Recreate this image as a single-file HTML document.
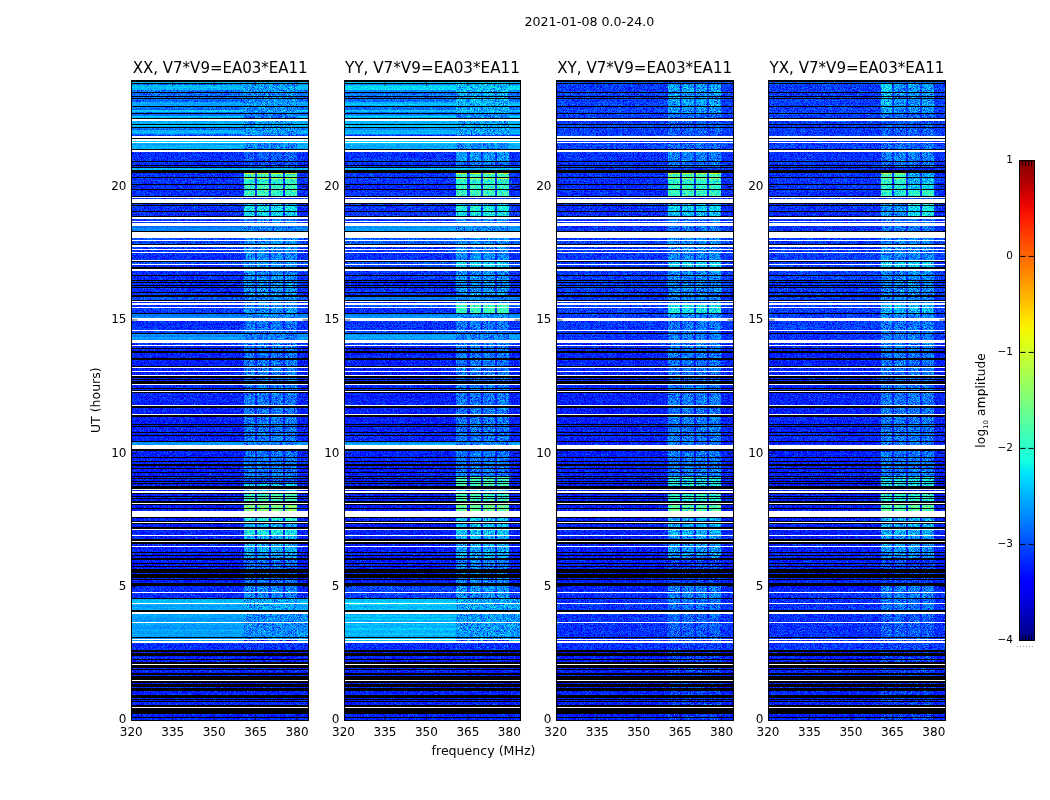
<!DOCTYPE html>
<html><head><meta charset="utf-8"><title>2021-01-08 0.0-24.0</title>
<style>
html,body{margin:0;padding:0;background:#fff;}
body{width:1050px;height:800px;overflow:hidden;position:relative;}
svg{position:absolute;left:0;top:0;display:block;}
.ov{will-change:transform;}
text{font-family:"DejaVu Sans","Liberation Sans",sans-serif;fill:#000;}
.tt{font-size:16px;}
.tk{font-size:12px;}
.cb{font-size:10.5px;}
.lb{font-size:12px;}
.sup{font-size:12.6px;}
</style></head><body>
<svg width="1050" height="800" viewBox="0 0 1050 800" shape-rendering="crispEdges">
<defs>
<linearGradient id="jet" x1="0" y1="1" x2="0" y2="0">
<stop offset="0.000" stop-color="rgb(0,0,128)"/>
<stop offset="0.025" stop-color="rgb(0,0,155)"/>
<stop offset="0.050" stop-color="rgb(0,0,182)"/>
<stop offset="0.075" stop-color="rgb(0,0,214)"/>
<stop offset="0.100" stop-color="rgb(0,0,241)"/>
<stop offset="0.125" stop-color="rgb(0,0,255)"/>
<stop offset="0.150" stop-color="rgb(0,24,255)"/>
<stop offset="0.175" stop-color="rgb(0,48,255)"/>
<stop offset="0.200" stop-color="rgb(0,76,255)"/>
<stop offset="0.225" stop-color="rgb(0,100,255)"/>
<stop offset="0.250" stop-color="rgb(0,128,255)"/>
<stop offset="0.275" stop-color="rgb(0,152,255)"/>
<stop offset="0.300" stop-color="rgb(0,176,255)"/>
<stop offset="0.325" stop-color="rgb(0,204,255)"/>
<stop offset="0.350" stop-color="rgb(0,228,248)"/>
<stop offset="0.375" stop-color="rgb(22,255,225)"/>
<stop offset="0.400" stop-color="rgb(41,255,206)"/>
<stop offset="0.425" stop-color="rgb(60,255,186)"/>
<stop offset="0.450" stop-color="rgb(83,255,164)"/>
<stop offset="0.475" stop-color="rgb(102,255,144)"/>
<stop offset="0.500" stop-color="rgb(125,255,122)"/>
<stop offset="0.525" stop-color="rgb(144,255,102)"/>
<stop offset="0.550" stop-color="rgb(164,255,83)"/>
<stop offset="0.575" stop-color="rgb(186,255,60)"/>
<stop offset="0.600" stop-color="rgb(206,255,41)"/>
<stop offset="0.625" stop-color="rgb(228,255,19)"/>
<stop offset="0.650" stop-color="rgb(248,245,0)"/>
<stop offset="0.675" stop-color="rgb(255,222,0)"/>
<stop offset="0.700" stop-color="rgb(255,196,0)"/>
<stop offset="0.725" stop-color="rgb(255,174,0)"/>
<stop offset="0.750" stop-color="rgb(255,148,0)"/>
<stop offset="0.775" stop-color="rgb(255,126,0)"/>
<stop offset="0.800" stop-color="rgb(255,104,0)"/>
<stop offset="0.825" stop-color="rgb(255,78,0)"/>
<stop offset="0.850" stop-color="rgb(255,56,0)"/>
<stop offset="0.875" stop-color="rgb(255,30,0)"/>
<stop offset="0.900" stop-color="rgb(241,8,0)"/>
<stop offset="0.925" stop-color="rgb(214,0,0)"/>
<stop offset="0.950" stop-color="rgb(182,0,0)"/>
<stop offset="0.975" stop-color="rgb(155,0,0)"/>
<stop offset="1.000" stop-color="rgb(128,0,0)"/>
</linearGradient>
<filter id="nz0" x="132" y="81" width="176" height="639" filterUnits="userSpaceOnUse" color-interpolation-filters="sRGB">
<feTurbulence type="fractalNoise" baseFrequency="1.3" numOctaves="1" seed="3" result="t"/>
<feColorMatrix in="t" type="matrix" values="1 0 0 0 0 1 0 0 0 0 1 0 0 0 0 0 0 0 0 1" result="g0"/>
<feComponentTransfer in="g0" result="g"><feFuncR type="table" tableValues="0.05 0.12 0.22 0.32 0.42 0.5 0.57 0.63 0.68 0.72 0.75"/><feFuncG type="table" tableValues="0.05 0.12 0.22 0.32 0.42 0.5 0.57 0.63 0.68 0.72 0.75"/><feFuncB type="table" tableValues="0.05 0.12 0.22 0.32 0.42 0.5 0.57 0.63 0.68 0.72 0.75"/></feComponentTransfer>
<feComposite in="SourceGraphic" in2="g" operator="arithmetic" k1="0" k2="1" k3="0.5" k4="-0.2500" result="s"/>
<feComponentTransfer in="s" result="c"><feFuncR type="table" tableValues="0.000 0.000 0.000 0.000 0.000 0.000 0.000 0.000 0.000 0.000 0.000 0.000 0.000 0.000 0.000 0.000 0.000 0.000 0.000 0.000 0.000 0.000 0.000 0.000 0.000 0.000 0.000 0.000 0.000 0.000 0.000 0.000 0.000 0.000 0.000 0.000 0.000 0.000 0.000 0.000 0.000 0.000 0.000 0.000 0.000 0.009 0.035 0.060 0.085 0.111 0.136 0.161 0.187 0.212 0.237 0.262 0.288 0.313 0.338 0.364 0.389 0.414 0.440 0.465 0.503 0.528 0.553 0.579 0.604 0.629 0.655 0.680 0.705 0.731 0.756 0.781 0.806 0.832 0.857 0.882 0.908 0.933 0.958 0.984 1.000 1.000 1.000 1.000 1.000 1.000 1.000 1.000 1.000 1.000 1.000 1.000 1.000 1.000 1.000 1.000 1.000 1.000 1.000 1.000 1.000 1.000 1.000 1.000 1.000 1.000 1.000 1.000 1.000 0.999 0.963 0.928 0.892 0.857 0.821 0.785 0.750 0.714 0.678 0.643 0.607 0.571 0.536 0.500"/><feFuncG type="table" tableValues="0.000 0.000 0.000 0.000 0.000 0.000 0.000 0.000 0.000 0.000 0.000 0.000 0.000 0.000 0.000 0.000 0.002 0.033 0.065 0.096 0.127 0.159 0.190 0.222 0.253 0.284 0.316 0.347 0.378 0.410 0.441 0.473 0.504 0.535 0.567 0.598 0.629 0.661 0.692 0.724 0.755 0.786 0.818 0.849 0.880 0.912 0.943 0.975 1.000 1.000 1.000 1.000 1.000 1.000 1.000 1.000 1.000 1.000 1.000 1.000 1.000 1.000 1.000 1.000 1.000 1.000 1.000 1.000 1.000 1.000 1.000 1.000 1.000 1.000 1.000 1.000 1.000 1.000 1.000 1.000 1.000 1.000 0.974 0.945 0.916 0.887 0.858 0.829 0.800 0.771 0.741 0.712 0.683 0.654 0.625 0.596 0.567 0.538 0.509 0.480 0.451 0.422 0.393 0.364 0.335 0.306 0.277 0.248 0.219 0.190 0.160 0.131 0.102 0.073 0.044 0.015 0.000 0.000 0.000 0.000 0.000 0.000 0.000 0.000 0.000 0.000 0.000 0.000"/><feFuncB type="table" tableValues="0.500 0.536 0.571 0.607 0.643 0.678 0.714 0.750 0.785 0.821 0.857 0.892 0.928 0.963 0.999 1.000 1.000 1.000 1.000 1.000 1.000 1.000 1.000 1.000 1.000 1.000 1.000 1.000 1.000 1.000 1.000 1.000 1.000 1.000 1.000 1.000 1.000 1.000 1.000 1.000 1.000 1.000 1.000 1.000 0.984 0.958 0.933 0.908 0.882 0.857 0.832 0.806 0.781 0.756 0.731 0.705 0.680 0.655 0.629 0.604 0.579 0.553 0.528 0.503 0.465 0.440 0.414 0.389 0.364 0.338 0.313 0.288 0.262 0.237 0.212 0.187 0.161 0.136 0.111 0.085 0.060 0.035 0.009 0.000 0.000 0.000 0.000 0.000 0.000 0.000 0.000 0.000 0.000 0.000 0.000 0.000 0.000 0.000 0.000 0.000 0.000 0.000 0.000 0.000 0.000 0.000 0.000 0.000 0.000 0.000 0.000 0.000 0.000 0.000 0.000 0.000 0.000 0.000 0.000 0.000 0.000 0.000 0.000 0.000 0.000 0.000 0.000 0.000"/></feComponentTransfer>
<feComposite in="c" in2="SourceGraphic" operator="in"/>
</filter>
<filter id="ns0" x="132" y="81" width="176" height="639" filterUnits="userSpaceOnUse" color-interpolation-filters="sRGB">
<feTurbulence type="fractalNoise" baseFrequency="1.3" numOctaves="1" seed="5" result="t"/>
<feColorMatrix in="t" type="matrix" values="1 0 0 0 0 1 0 0 0 0 1 0 0 0 0 0 0 0 0 1" result="g0"/>
<feComponentTransfer in="g0" result="g"><feFuncR type="table" tableValues="0.05 0.12 0.22 0.32 0.42 0.5 0.57 0.63 0.68 0.72 0.75"/><feFuncG type="table" tableValues="0.05 0.12 0.22 0.32 0.42 0.5 0.57 0.63 0.68 0.72 0.75"/><feFuncB type="table" tableValues="0.05 0.12 0.22 0.32 0.42 0.5 0.57 0.63 0.68 0.72 0.75"/></feComponentTransfer>
<feComposite in="SourceGraphic" in2="g" operator="arithmetic" k1="0" k2="1" k3="0.22" k4="-0.1100" result="s"/>
<feComponentTransfer in="s" result="c"><feFuncR type="table" tableValues="0.000 0.000 0.000 0.000 0.000 0.000 0.000 0.000 0.000 0.000 0.000 0.000 0.000 0.000 0.000 0.000 0.000 0.000 0.000 0.000 0.000 0.000 0.000 0.000 0.000 0.000 0.000 0.000 0.000 0.000 0.000 0.000 0.000 0.000 0.000 0.000 0.000 0.000 0.000 0.000 0.000 0.000 0.000 0.000 0.000 0.009 0.035 0.060 0.085 0.111 0.136 0.161 0.187 0.212 0.237 0.262 0.288 0.313 0.338 0.364 0.389 0.414 0.440 0.465 0.503 0.528 0.553 0.579 0.604 0.629 0.655 0.680 0.705 0.731 0.756 0.781 0.806 0.832 0.857 0.882 0.908 0.933 0.958 0.984 1.000 1.000 1.000 1.000 1.000 1.000 1.000 1.000 1.000 1.000 1.000 1.000 1.000 1.000 1.000 1.000 1.000 1.000 1.000 1.000 1.000 1.000 1.000 1.000 1.000 1.000 1.000 1.000 1.000 0.999 0.963 0.928 0.892 0.857 0.821 0.785 0.750 0.714 0.678 0.643 0.607 0.571 0.536 0.500"/><feFuncG type="table" tableValues="0.000 0.000 0.000 0.000 0.000 0.000 0.000 0.000 0.000 0.000 0.000 0.000 0.000 0.000 0.000 0.000 0.002 0.033 0.065 0.096 0.127 0.159 0.190 0.222 0.253 0.284 0.316 0.347 0.378 0.410 0.441 0.473 0.504 0.535 0.567 0.598 0.629 0.661 0.692 0.724 0.755 0.786 0.818 0.849 0.880 0.912 0.943 0.975 1.000 1.000 1.000 1.000 1.000 1.000 1.000 1.000 1.000 1.000 1.000 1.000 1.000 1.000 1.000 1.000 1.000 1.000 1.000 1.000 1.000 1.000 1.000 1.000 1.000 1.000 1.000 1.000 1.000 1.000 1.000 1.000 1.000 1.000 0.974 0.945 0.916 0.887 0.858 0.829 0.800 0.771 0.741 0.712 0.683 0.654 0.625 0.596 0.567 0.538 0.509 0.480 0.451 0.422 0.393 0.364 0.335 0.306 0.277 0.248 0.219 0.190 0.160 0.131 0.102 0.073 0.044 0.015 0.000 0.000 0.000 0.000 0.000 0.000 0.000 0.000 0.000 0.000 0.000 0.000"/><feFuncB type="table" tableValues="0.500 0.536 0.571 0.607 0.643 0.678 0.714 0.750 0.785 0.821 0.857 0.892 0.928 0.963 0.999 1.000 1.000 1.000 1.000 1.000 1.000 1.000 1.000 1.000 1.000 1.000 1.000 1.000 1.000 1.000 1.000 1.000 1.000 1.000 1.000 1.000 1.000 1.000 1.000 1.000 1.000 1.000 1.000 1.000 0.984 0.958 0.933 0.908 0.882 0.857 0.832 0.806 0.781 0.756 0.731 0.705 0.680 0.655 0.629 0.604 0.579 0.553 0.528 0.503 0.465 0.440 0.414 0.389 0.364 0.338 0.313 0.288 0.262 0.237 0.212 0.187 0.161 0.136 0.111 0.085 0.060 0.035 0.009 0.000 0.000 0.000 0.000 0.000 0.000 0.000 0.000 0.000 0.000 0.000 0.000 0.000 0.000 0.000 0.000 0.000 0.000 0.000 0.000 0.000 0.000 0.000 0.000 0.000 0.000 0.000 0.000 0.000 0.000 0.000 0.000 0.000 0.000 0.000 0.000 0.000 0.000 0.000 0.000 0.000 0.000 0.000 0.000 0.000"/></feComponentTransfer>
<feComposite in="c" in2="SourceGraphic" operator="in"/>
</filter>
<filter id="nr0" x="132" y="81" width="176" height="639" filterUnits="userSpaceOnUse" color-interpolation-filters="sRGB">
<feTurbulence type="fractalNoise" baseFrequency="1.3" numOctaves="1" seed="6" result="t"/>
<feColorMatrix in="t" type="matrix" values="1 0 0 0 0 1 0 0 0 0 1 0 0 0 0 0 0 0 0 1" result="g0"/>
<feComponentTransfer in="g0" result="g"><feFuncR type="table" tableValues="0.05 0.12 0.22 0.32 0.42 0.5 0.57 0.63 0.68 0.72 0.75"/><feFuncG type="table" tableValues="0.05 0.12 0.22 0.32 0.42 0.5 0.57 0.63 0.68 0.72 0.75"/><feFuncB type="table" tableValues="0.05 0.12 0.22 0.32 0.42 0.5 0.57 0.63 0.68 0.72 0.75"/></feComponentTransfer>
<feComposite in="SourceGraphic" in2="g" operator="arithmetic" k1="0" k2="1" k3="0.7" k4="-0.3500" result="s"/>
<feComponentTransfer in="s" result="c"><feFuncR type="table" tableValues="0.000 0.000 0.000 0.000 0.000 0.000 0.000 0.000 0.000 0.000 0.000 0.000 0.000 0.000 0.000 0.000 0.000 0.000 0.000 0.000 0.000 0.000 0.000 0.000 0.000 0.000 0.000 0.000 0.000 0.000 0.000 0.000 0.000 0.000 0.000 0.000 0.000 0.000 0.000 0.000 0.000 0.000 0.000 0.000 0.000 0.009 0.035 0.060 0.085 0.111 0.136 0.161 0.187 0.212 0.237 0.262 0.288 0.313 0.338 0.364 0.389 0.414 0.440 0.465 0.503 0.528 0.553 0.579 0.604 0.629 0.655 0.680 0.705 0.731 0.756 0.781 0.806 0.832 0.857 0.882 0.908 0.933 0.958 0.984 1.000 1.000 1.000 1.000 1.000 1.000 1.000 1.000 1.000 1.000 1.000 1.000 1.000 1.000 1.000 1.000 1.000 1.000 1.000 1.000 1.000 1.000 1.000 1.000 1.000 1.000 1.000 1.000 1.000 0.999 0.963 0.928 0.892 0.857 0.821 0.785 0.750 0.714 0.678 0.643 0.607 0.571 0.536 0.500"/><feFuncG type="table" tableValues="0.000 0.000 0.000 0.000 0.000 0.000 0.000 0.000 0.000 0.000 0.000 0.000 0.000 0.000 0.000 0.000 0.002 0.033 0.065 0.096 0.127 0.159 0.190 0.222 0.253 0.284 0.316 0.347 0.378 0.410 0.441 0.473 0.504 0.535 0.567 0.598 0.629 0.661 0.692 0.724 0.755 0.786 0.818 0.849 0.880 0.912 0.943 0.975 1.000 1.000 1.000 1.000 1.000 1.000 1.000 1.000 1.000 1.000 1.000 1.000 1.000 1.000 1.000 1.000 1.000 1.000 1.000 1.000 1.000 1.000 1.000 1.000 1.000 1.000 1.000 1.000 1.000 1.000 1.000 1.000 1.000 1.000 0.974 0.945 0.916 0.887 0.858 0.829 0.800 0.771 0.741 0.712 0.683 0.654 0.625 0.596 0.567 0.538 0.509 0.480 0.451 0.422 0.393 0.364 0.335 0.306 0.277 0.248 0.219 0.190 0.160 0.131 0.102 0.073 0.044 0.015 0.000 0.000 0.000 0.000 0.000 0.000 0.000 0.000 0.000 0.000 0.000 0.000"/><feFuncB type="table" tableValues="0.500 0.536 0.571 0.607 0.643 0.678 0.714 0.750 0.785 0.821 0.857 0.892 0.928 0.963 0.999 1.000 1.000 1.000 1.000 1.000 1.000 1.000 1.000 1.000 1.000 1.000 1.000 1.000 1.000 1.000 1.000 1.000 1.000 1.000 1.000 1.000 1.000 1.000 1.000 1.000 1.000 1.000 1.000 1.000 0.984 0.958 0.933 0.908 0.882 0.857 0.832 0.806 0.781 0.756 0.731 0.705 0.680 0.655 0.629 0.604 0.579 0.553 0.528 0.503 0.465 0.440 0.414 0.389 0.364 0.338 0.313 0.288 0.262 0.237 0.212 0.187 0.161 0.136 0.111 0.085 0.060 0.035 0.009 0.000 0.000 0.000 0.000 0.000 0.000 0.000 0.000 0.000 0.000 0.000 0.000 0.000 0.000 0.000 0.000 0.000 0.000 0.000 0.000 0.000 0.000 0.000 0.000 0.000 0.000 0.000 0.000 0.000 0.000 0.000 0.000 0.000 0.000 0.000 0.000 0.000 0.000 0.000 0.000 0.000 0.000 0.000 0.000 0.000"/></feComponentTransfer>
<feComposite in="c" in2="SourceGraphic" operator="in"/>
</filter>
<filter id="nz1" x="345" y="81" width="175" height="639" filterUnits="userSpaceOnUse" color-interpolation-filters="sRGB">
<feTurbulence type="fractalNoise" baseFrequency="1.3" numOctaves="1" seed="10" result="t"/>
<feColorMatrix in="t" type="matrix" values="1 0 0 0 0 1 0 0 0 0 1 0 0 0 0 0 0 0 0 1" result="g0"/>
<feComponentTransfer in="g0" result="g"><feFuncR type="table" tableValues="0.05 0.12 0.22 0.32 0.42 0.5 0.57 0.63 0.68 0.72 0.75"/><feFuncG type="table" tableValues="0.05 0.12 0.22 0.32 0.42 0.5 0.57 0.63 0.68 0.72 0.75"/><feFuncB type="table" tableValues="0.05 0.12 0.22 0.32 0.42 0.5 0.57 0.63 0.68 0.72 0.75"/></feComponentTransfer>
<feComposite in="SourceGraphic" in2="g" operator="arithmetic" k1="0" k2="1" k3="0.5" k4="-0.2500" result="s"/>
<feComponentTransfer in="s" result="c"><feFuncR type="table" tableValues="0.000 0.000 0.000 0.000 0.000 0.000 0.000 0.000 0.000 0.000 0.000 0.000 0.000 0.000 0.000 0.000 0.000 0.000 0.000 0.000 0.000 0.000 0.000 0.000 0.000 0.000 0.000 0.000 0.000 0.000 0.000 0.000 0.000 0.000 0.000 0.000 0.000 0.000 0.000 0.000 0.000 0.000 0.000 0.000 0.000 0.009 0.035 0.060 0.085 0.111 0.136 0.161 0.187 0.212 0.237 0.262 0.288 0.313 0.338 0.364 0.389 0.414 0.440 0.465 0.503 0.528 0.553 0.579 0.604 0.629 0.655 0.680 0.705 0.731 0.756 0.781 0.806 0.832 0.857 0.882 0.908 0.933 0.958 0.984 1.000 1.000 1.000 1.000 1.000 1.000 1.000 1.000 1.000 1.000 1.000 1.000 1.000 1.000 1.000 1.000 1.000 1.000 1.000 1.000 1.000 1.000 1.000 1.000 1.000 1.000 1.000 1.000 1.000 0.999 0.963 0.928 0.892 0.857 0.821 0.785 0.750 0.714 0.678 0.643 0.607 0.571 0.536 0.500"/><feFuncG type="table" tableValues="0.000 0.000 0.000 0.000 0.000 0.000 0.000 0.000 0.000 0.000 0.000 0.000 0.000 0.000 0.000 0.000 0.002 0.033 0.065 0.096 0.127 0.159 0.190 0.222 0.253 0.284 0.316 0.347 0.378 0.410 0.441 0.473 0.504 0.535 0.567 0.598 0.629 0.661 0.692 0.724 0.755 0.786 0.818 0.849 0.880 0.912 0.943 0.975 1.000 1.000 1.000 1.000 1.000 1.000 1.000 1.000 1.000 1.000 1.000 1.000 1.000 1.000 1.000 1.000 1.000 1.000 1.000 1.000 1.000 1.000 1.000 1.000 1.000 1.000 1.000 1.000 1.000 1.000 1.000 1.000 1.000 1.000 0.974 0.945 0.916 0.887 0.858 0.829 0.800 0.771 0.741 0.712 0.683 0.654 0.625 0.596 0.567 0.538 0.509 0.480 0.451 0.422 0.393 0.364 0.335 0.306 0.277 0.248 0.219 0.190 0.160 0.131 0.102 0.073 0.044 0.015 0.000 0.000 0.000 0.000 0.000 0.000 0.000 0.000 0.000 0.000 0.000 0.000"/><feFuncB type="table" tableValues="0.500 0.536 0.571 0.607 0.643 0.678 0.714 0.750 0.785 0.821 0.857 0.892 0.928 0.963 0.999 1.000 1.000 1.000 1.000 1.000 1.000 1.000 1.000 1.000 1.000 1.000 1.000 1.000 1.000 1.000 1.000 1.000 1.000 1.000 1.000 1.000 1.000 1.000 1.000 1.000 1.000 1.000 1.000 1.000 0.984 0.958 0.933 0.908 0.882 0.857 0.832 0.806 0.781 0.756 0.731 0.705 0.680 0.655 0.629 0.604 0.579 0.553 0.528 0.503 0.465 0.440 0.414 0.389 0.364 0.338 0.313 0.288 0.262 0.237 0.212 0.187 0.161 0.136 0.111 0.085 0.060 0.035 0.009 0.000 0.000 0.000 0.000 0.000 0.000 0.000 0.000 0.000 0.000 0.000 0.000 0.000 0.000 0.000 0.000 0.000 0.000 0.000 0.000 0.000 0.000 0.000 0.000 0.000 0.000 0.000 0.000 0.000 0.000 0.000 0.000 0.000 0.000 0.000 0.000 0.000 0.000 0.000 0.000 0.000 0.000 0.000 0.000 0.000"/></feComponentTransfer>
<feComposite in="c" in2="SourceGraphic" operator="in"/>
</filter>
<filter id="ns1" x="345" y="81" width="175" height="639" filterUnits="userSpaceOnUse" color-interpolation-filters="sRGB">
<feTurbulence type="fractalNoise" baseFrequency="1.3" numOctaves="1" seed="12" result="t"/>
<feColorMatrix in="t" type="matrix" values="1 0 0 0 0 1 0 0 0 0 1 0 0 0 0 0 0 0 0 1" result="g0"/>
<feComponentTransfer in="g0" result="g"><feFuncR type="table" tableValues="0.05 0.12 0.22 0.32 0.42 0.5 0.57 0.63 0.68 0.72 0.75"/><feFuncG type="table" tableValues="0.05 0.12 0.22 0.32 0.42 0.5 0.57 0.63 0.68 0.72 0.75"/><feFuncB type="table" tableValues="0.05 0.12 0.22 0.32 0.42 0.5 0.57 0.63 0.68 0.72 0.75"/></feComponentTransfer>
<feComposite in="SourceGraphic" in2="g" operator="arithmetic" k1="0" k2="1" k3="0.22" k4="-0.1100" result="s"/>
<feComponentTransfer in="s" result="c"><feFuncR type="table" tableValues="0.000 0.000 0.000 0.000 0.000 0.000 0.000 0.000 0.000 0.000 0.000 0.000 0.000 0.000 0.000 0.000 0.000 0.000 0.000 0.000 0.000 0.000 0.000 0.000 0.000 0.000 0.000 0.000 0.000 0.000 0.000 0.000 0.000 0.000 0.000 0.000 0.000 0.000 0.000 0.000 0.000 0.000 0.000 0.000 0.000 0.009 0.035 0.060 0.085 0.111 0.136 0.161 0.187 0.212 0.237 0.262 0.288 0.313 0.338 0.364 0.389 0.414 0.440 0.465 0.503 0.528 0.553 0.579 0.604 0.629 0.655 0.680 0.705 0.731 0.756 0.781 0.806 0.832 0.857 0.882 0.908 0.933 0.958 0.984 1.000 1.000 1.000 1.000 1.000 1.000 1.000 1.000 1.000 1.000 1.000 1.000 1.000 1.000 1.000 1.000 1.000 1.000 1.000 1.000 1.000 1.000 1.000 1.000 1.000 1.000 1.000 1.000 1.000 0.999 0.963 0.928 0.892 0.857 0.821 0.785 0.750 0.714 0.678 0.643 0.607 0.571 0.536 0.500"/><feFuncG type="table" tableValues="0.000 0.000 0.000 0.000 0.000 0.000 0.000 0.000 0.000 0.000 0.000 0.000 0.000 0.000 0.000 0.000 0.002 0.033 0.065 0.096 0.127 0.159 0.190 0.222 0.253 0.284 0.316 0.347 0.378 0.410 0.441 0.473 0.504 0.535 0.567 0.598 0.629 0.661 0.692 0.724 0.755 0.786 0.818 0.849 0.880 0.912 0.943 0.975 1.000 1.000 1.000 1.000 1.000 1.000 1.000 1.000 1.000 1.000 1.000 1.000 1.000 1.000 1.000 1.000 1.000 1.000 1.000 1.000 1.000 1.000 1.000 1.000 1.000 1.000 1.000 1.000 1.000 1.000 1.000 1.000 1.000 1.000 0.974 0.945 0.916 0.887 0.858 0.829 0.800 0.771 0.741 0.712 0.683 0.654 0.625 0.596 0.567 0.538 0.509 0.480 0.451 0.422 0.393 0.364 0.335 0.306 0.277 0.248 0.219 0.190 0.160 0.131 0.102 0.073 0.044 0.015 0.000 0.000 0.000 0.000 0.000 0.000 0.000 0.000 0.000 0.000 0.000 0.000"/><feFuncB type="table" tableValues="0.500 0.536 0.571 0.607 0.643 0.678 0.714 0.750 0.785 0.821 0.857 0.892 0.928 0.963 0.999 1.000 1.000 1.000 1.000 1.000 1.000 1.000 1.000 1.000 1.000 1.000 1.000 1.000 1.000 1.000 1.000 1.000 1.000 1.000 1.000 1.000 1.000 1.000 1.000 1.000 1.000 1.000 1.000 1.000 0.984 0.958 0.933 0.908 0.882 0.857 0.832 0.806 0.781 0.756 0.731 0.705 0.680 0.655 0.629 0.604 0.579 0.553 0.528 0.503 0.465 0.440 0.414 0.389 0.364 0.338 0.313 0.288 0.262 0.237 0.212 0.187 0.161 0.136 0.111 0.085 0.060 0.035 0.009 0.000 0.000 0.000 0.000 0.000 0.000 0.000 0.000 0.000 0.000 0.000 0.000 0.000 0.000 0.000 0.000 0.000 0.000 0.000 0.000 0.000 0.000 0.000 0.000 0.000 0.000 0.000 0.000 0.000 0.000 0.000 0.000 0.000 0.000 0.000 0.000 0.000 0.000 0.000 0.000 0.000 0.000 0.000 0.000 0.000"/></feComponentTransfer>
<feComposite in="c" in2="SourceGraphic" operator="in"/>
</filter>
<filter id="nr1" x="345" y="81" width="175" height="639" filterUnits="userSpaceOnUse" color-interpolation-filters="sRGB">
<feTurbulence type="fractalNoise" baseFrequency="1.3" numOctaves="1" seed="13" result="t"/>
<feColorMatrix in="t" type="matrix" values="1 0 0 0 0 1 0 0 0 0 1 0 0 0 0 0 0 0 0 1" result="g0"/>
<feComponentTransfer in="g0" result="g"><feFuncR type="table" tableValues="0.05 0.12 0.22 0.32 0.42 0.5 0.57 0.63 0.68 0.72 0.75"/><feFuncG type="table" tableValues="0.05 0.12 0.22 0.32 0.42 0.5 0.57 0.63 0.68 0.72 0.75"/><feFuncB type="table" tableValues="0.05 0.12 0.22 0.32 0.42 0.5 0.57 0.63 0.68 0.72 0.75"/></feComponentTransfer>
<feComposite in="SourceGraphic" in2="g" operator="arithmetic" k1="0" k2="1" k3="0.7" k4="-0.3500" result="s"/>
<feComponentTransfer in="s" result="c"><feFuncR type="table" tableValues="0.000 0.000 0.000 0.000 0.000 0.000 0.000 0.000 0.000 0.000 0.000 0.000 0.000 0.000 0.000 0.000 0.000 0.000 0.000 0.000 0.000 0.000 0.000 0.000 0.000 0.000 0.000 0.000 0.000 0.000 0.000 0.000 0.000 0.000 0.000 0.000 0.000 0.000 0.000 0.000 0.000 0.000 0.000 0.000 0.000 0.009 0.035 0.060 0.085 0.111 0.136 0.161 0.187 0.212 0.237 0.262 0.288 0.313 0.338 0.364 0.389 0.414 0.440 0.465 0.503 0.528 0.553 0.579 0.604 0.629 0.655 0.680 0.705 0.731 0.756 0.781 0.806 0.832 0.857 0.882 0.908 0.933 0.958 0.984 1.000 1.000 1.000 1.000 1.000 1.000 1.000 1.000 1.000 1.000 1.000 1.000 1.000 1.000 1.000 1.000 1.000 1.000 1.000 1.000 1.000 1.000 1.000 1.000 1.000 1.000 1.000 1.000 1.000 0.999 0.963 0.928 0.892 0.857 0.821 0.785 0.750 0.714 0.678 0.643 0.607 0.571 0.536 0.500"/><feFuncG type="table" tableValues="0.000 0.000 0.000 0.000 0.000 0.000 0.000 0.000 0.000 0.000 0.000 0.000 0.000 0.000 0.000 0.000 0.002 0.033 0.065 0.096 0.127 0.159 0.190 0.222 0.253 0.284 0.316 0.347 0.378 0.410 0.441 0.473 0.504 0.535 0.567 0.598 0.629 0.661 0.692 0.724 0.755 0.786 0.818 0.849 0.880 0.912 0.943 0.975 1.000 1.000 1.000 1.000 1.000 1.000 1.000 1.000 1.000 1.000 1.000 1.000 1.000 1.000 1.000 1.000 1.000 1.000 1.000 1.000 1.000 1.000 1.000 1.000 1.000 1.000 1.000 1.000 1.000 1.000 1.000 1.000 1.000 1.000 0.974 0.945 0.916 0.887 0.858 0.829 0.800 0.771 0.741 0.712 0.683 0.654 0.625 0.596 0.567 0.538 0.509 0.480 0.451 0.422 0.393 0.364 0.335 0.306 0.277 0.248 0.219 0.190 0.160 0.131 0.102 0.073 0.044 0.015 0.000 0.000 0.000 0.000 0.000 0.000 0.000 0.000 0.000 0.000 0.000 0.000"/><feFuncB type="table" tableValues="0.500 0.536 0.571 0.607 0.643 0.678 0.714 0.750 0.785 0.821 0.857 0.892 0.928 0.963 0.999 1.000 1.000 1.000 1.000 1.000 1.000 1.000 1.000 1.000 1.000 1.000 1.000 1.000 1.000 1.000 1.000 1.000 1.000 1.000 1.000 1.000 1.000 1.000 1.000 1.000 1.000 1.000 1.000 1.000 0.984 0.958 0.933 0.908 0.882 0.857 0.832 0.806 0.781 0.756 0.731 0.705 0.680 0.655 0.629 0.604 0.579 0.553 0.528 0.503 0.465 0.440 0.414 0.389 0.364 0.338 0.313 0.288 0.262 0.237 0.212 0.187 0.161 0.136 0.111 0.085 0.060 0.035 0.009 0.000 0.000 0.000 0.000 0.000 0.000 0.000 0.000 0.000 0.000 0.000 0.000 0.000 0.000 0.000 0.000 0.000 0.000 0.000 0.000 0.000 0.000 0.000 0.000 0.000 0.000 0.000 0.000 0.000 0.000 0.000 0.000 0.000 0.000 0.000 0.000 0.000 0.000 0.000 0.000 0.000 0.000 0.000 0.000 0.000"/></feComponentTransfer>
<feComposite in="c" in2="SourceGraphic" operator="in"/>
</filter>
<filter id="nz2" x="557" y="81" width="176" height="639" filterUnits="userSpaceOnUse" color-interpolation-filters="sRGB">
<feTurbulence type="fractalNoise" baseFrequency="1.3" numOctaves="1" seed="17" result="t"/>
<feColorMatrix in="t" type="matrix" values="1 0 0 0 0 1 0 0 0 0 1 0 0 0 0 0 0 0 0 1" result="g0"/>
<feComponentTransfer in="g0" result="g"><feFuncR type="table" tableValues="0.05 0.12 0.22 0.32 0.42 0.5 0.57 0.63 0.68 0.72 0.75"/><feFuncG type="table" tableValues="0.05 0.12 0.22 0.32 0.42 0.5 0.57 0.63 0.68 0.72 0.75"/><feFuncB type="table" tableValues="0.05 0.12 0.22 0.32 0.42 0.5 0.57 0.63 0.68 0.72 0.75"/></feComponentTransfer>
<feComposite in="SourceGraphic" in2="g" operator="arithmetic" k1="0" k2="1" k3="0.5" k4="-0.2500" result="s"/>
<feComponentTransfer in="s" result="c"><feFuncR type="table" tableValues="0.000 0.000 0.000 0.000 0.000 0.000 0.000 0.000 0.000 0.000 0.000 0.000 0.000 0.000 0.000 0.000 0.000 0.000 0.000 0.000 0.000 0.000 0.000 0.000 0.000 0.000 0.000 0.000 0.000 0.000 0.000 0.000 0.000 0.000 0.000 0.000 0.000 0.000 0.000 0.000 0.000 0.000 0.000 0.000 0.000 0.009 0.035 0.060 0.085 0.111 0.136 0.161 0.187 0.212 0.237 0.262 0.288 0.313 0.338 0.364 0.389 0.414 0.440 0.465 0.503 0.528 0.553 0.579 0.604 0.629 0.655 0.680 0.705 0.731 0.756 0.781 0.806 0.832 0.857 0.882 0.908 0.933 0.958 0.984 1.000 1.000 1.000 1.000 1.000 1.000 1.000 1.000 1.000 1.000 1.000 1.000 1.000 1.000 1.000 1.000 1.000 1.000 1.000 1.000 1.000 1.000 1.000 1.000 1.000 1.000 1.000 1.000 1.000 0.999 0.963 0.928 0.892 0.857 0.821 0.785 0.750 0.714 0.678 0.643 0.607 0.571 0.536 0.500"/><feFuncG type="table" tableValues="0.000 0.000 0.000 0.000 0.000 0.000 0.000 0.000 0.000 0.000 0.000 0.000 0.000 0.000 0.000 0.000 0.002 0.033 0.065 0.096 0.127 0.159 0.190 0.222 0.253 0.284 0.316 0.347 0.378 0.410 0.441 0.473 0.504 0.535 0.567 0.598 0.629 0.661 0.692 0.724 0.755 0.786 0.818 0.849 0.880 0.912 0.943 0.975 1.000 1.000 1.000 1.000 1.000 1.000 1.000 1.000 1.000 1.000 1.000 1.000 1.000 1.000 1.000 1.000 1.000 1.000 1.000 1.000 1.000 1.000 1.000 1.000 1.000 1.000 1.000 1.000 1.000 1.000 1.000 1.000 1.000 1.000 0.974 0.945 0.916 0.887 0.858 0.829 0.800 0.771 0.741 0.712 0.683 0.654 0.625 0.596 0.567 0.538 0.509 0.480 0.451 0.422 0.393 0.364 0.335 0.306 0.277 0.248 0.219 0.190 0.160 0.131 0.102 0.073 0.044 0.015 0.000 0.000 0.000 0.000 0.000 0.000 0.000 0.000 0.000 0.000 0.000 0.000"/><feFuncB type="table" tableValues="0.500 0.536 0.571 0.607 0.643 0.678 0.714 0.750 0.785 0.821 0.857 0.892 0.928 0.963 0.999 1.000 1.000 1.000 1.000 1.000 1.000 1.000 1.000 1.000 1.000 1.000 1.000 1.000 1.000 1.000 1.000 1.000 1.000 1.000 1.000 1.000 1.000 1.000 1.000 1.000 1.000 1.000 1.000 1.000 0.984 0.958 0.933 0.908 0.882 0.857 0.832 0.806 0.781 0.756 0.731 0.705 0.680 0.655 0.629 0.604 0.579 0.553 0.528 0.503 0.465 0.440 0.414 0.389 0.364 0.338 0.313 0.288 0.262 0.237 0.212 0.187 0.161 0.136 0.111 0.085 0.060 0.035 0.009 0.000 0.000 0.000 0.000 0.000 0.000 0.000 0.000 0.000 0.000 0.000 0.000 0.000 0.000 0.000 0.000 0.000 0.000 0.000 0.000 0.000 0.000 0.000 0.000 0.000 0.000 0.000 0.000 0.000 0.000 0.000 0.000 0.000 0.000 0.000 0.000 0.000 0.000 0.000 0.000 0.000 0.000 0.000 0.000 0.000"/></feComponentTransfer>
<feComposite in="c" in2="SourceGraphic" operator="in"/>
</filter>
<filter id="ns2" x="557" y="81" width="176" height="639" filterUnits="userSpaceOnUse" color-interpolation-filters="sRGB">
<feTurbulence type="fractalNoise" baseFrequency="1.3" numOctaves="1" seed="19" result="t"/>
<feColorMatrix in="t" type="matrix" values="1 0 0 0 0 1 0 0 0 0 1 0 0 0 0 0 0 0 0 1" result="g0"/>
<feComponentTransfer in="g0" result="g"><feFuncR type="table" tableValues="0.05 0.12 0.22 0.32 0.42 0.5 0.57 0.63 0.68 0.72 0.75"/><feFuncG type="table" tableValues="0.05 0.12 0.22 0.32 0.42 0.5 0.57 0.63 0.68 0.72 0.75"/><feFuncB type="table" tableValues="0.05 0.12 0.22 0.32 0.42 0.5 0.57 0.63 0.68 0.72 0.75"/></feComponentTransfer>
<feComposite in="SourceGraphic" in2="g" operator="arithmetic" k1="0" k2="1" k3="0.22" k4="-0.1100" result="s"/>
<feComponentTransfer in="s" result="c"><feFuncR type="table" tableValues="0.000 0.000 0.000 0.000 0.000 0.000 0.000 0.000 0.000 0.000 0.000 0.000 0.000 0.000 0.000 0.000 0.000 0.000 0.000 0.000 0.000 0.000 0.000 0.000 0.000 0.000 0.000 0.000 0.000 0.000 0.000 0.000 0.000 0.000 0.000 0.000 0.000 0.000 0.000 0.000 0.000 0.000 0.000 0.000 0.000 0.009 0.035 0.060 0.085 0.111 0.136 0.161 0.187 0.212 0.237 0.262 0.288 0.313 0.338 0.364 0.389 0.414 0.440 0.465 0.503 0.528 0.553 0.579 0.604 0.629 0.655 0.680 0.705 0.731 0.756 0.781 0.806 0.832 0.857 0.882 0.908 0.933 0.958 0.984 1.000 1.000 1.000 1.000 1.000 1.000 1.000 1.000 1.000 1.000 1.000 1.000 1.000 1.000 1.000 1.000 1.000 1.000 1.000 1.000 1.000 1.000 1.000 1.000 1.000 1.000 1.000 1.000 1.000 0.999 0.963 0.928 0.892 0.857 0.821 0.785 0.750 0.714 0.678 0.643 0.607 0.571 0.536 0.500"/><feFuncG type="table" tableValues="0.000 0.000 0.000 0.000 0.000 0.000 0.000 0.000 0.000 0.000 0.000 0.000 0.000 0.000 0.000 0.000 0.002 0.033 0.065 0.096 0.127 0.159 0.190 0.222 0.253 0.284 0.316 0.347 0.378 0.410 0.441 0.473 0.504 0.535 0.567 0.598 0.629 0.661 0.692 0.724 0.755 0.786 0.818 0.849 0.880 0.912 0.943 0.975 1.000 1.000 1.000 1.000 1.000 1.000 1.000 1.000 1.000 1.000 1.000 1.000 1.000 1.000 1.000 1.000 1.000 1.000 1.000 1.000 1.000 1.000 1.000 1.000 1.000 1.000 1.000 1.000 1.000 1.000 1.000 1.000 1.000 1.000 0.974 0.945 0.916 0.887 0.858 0.829 0.800 0.771 0.741 0.712 0.683 0.654 0.625 0.596 0.567 0.538 0.509 0.480 0.451 0.422 0.393 0.364 0.335 0.306 0.277 0.248 0.219 0.190 0.160 0.131 0.102 0.073 0.044 0.015 0.000 0.000 0.000 0.000 0.000 0.000 0.000 0.000 0.000 0.000 0.000 0.000"/><feFuncB type="table" tableValues="0.500 0.536 0.571 0.607 0.643 0.678 0.714 0.750 0.785 0.821 0.857 0.892 0.928 0.963 0.999 1.000 1.000 1.000 1.000 1.000 1.000 1.000 1.000 1.000 1.000 1.000 1.000 1.000 1.000 1.000 1.000 1.000 1.000 1.000 1.000 1.000 1.000 1.000 1.000 1.000 1.000 1.000 1.000 1.000 0.984 0.958 0.933 0.908 0.882 0.857 0.832 0.806 0.781 0.756 0.731 0.705 0.680 0.655 0.629 0.604 0.579 0.553 0.528 0.503 0.465 0.440 0.414 0.389 0.364 0.338 0.313 0.288 0.262 0.237 0.212 0.187 0.161 0.136 0.111 0.085 0.060 0.035 0.009 0.000 0.000 0.000 0.000 0.000 0.000 0.000 0.000 0.000 0.000 0.000 0.000 0.000 0.000 0.000 0.000 0.000 0.000 0.000 0.000 0.000 0.000 0.000 0.000 0.000 0.000 0.000 0.000 0.000 0.000 0.000 0.000 0.000 0.000 0.000 0.000 0.000 0.000 0.000 0.000 0.000 0.000 0.000 0.000 0.000"/></feComponentTransfer>
<feComposite in="c" in2="SourceGraphic" operator="in"/>
</filter>
<filter id="nr2" x="557" y="81" width="176" height="639" filterUnits="userSpaceOnUse" color-interpolation-filters="sRGB">
<feTurbulence type="fractalNoise" baseFrequency="1.3" numOctaves="1" seed="20" result="t"/>
<feColorMatrix in="t" type="matrix" values="1 0 0 0 0 1 0 0 0 0 1 0 0 0 0 0 0 0 0 1" result="g0"/>
<feComponentTransfer in="g0" result="g"><feFuncR type="table" tableValues="0.05 0.12 0.22 0.32 0.42 0.5 0.57 0.63 0.68 0.72 0.75"/><feFuncG type="table" tableValues="0.05 0.12 0.22 0.32 0.42 0.5 0.57 0.63 0.68 0.72 0.75"/><feFuncB type="table" tableValues="0.05 0.12 0.22 0.32 0.42 0.5 0.57 0.63 0.68 0.72 0.75"/></feComponentTransfer>
<feComposite in="SourceGraphic" in2="g" operator="arithmetic" k1="0" k2="1" k3="0.7" k4="-0.3500" result="s"/>
<feComponentTransfer in="s" result="c"><feFuncR type="table" tableValues="0.000 0.000 0.000 0.000 0.000 0.000 0.000 0.000 0.000 0.000 0.000 0.000 0.000 0.000 0.000 0.000 0.000 0.000 0.000 0.000 0.000 0.000 0.000 0.000 0.000 0.000 0.000 0.000 0.000 0.000 0.000 0.000 0.000 0.000 0.000 0.000 0.000 0.000 0.000 0.000 0.000 0.000 0.000 0.000 0.000 0.009 0.035 0.060 0.085 0.111 0.136 0.161 0.187 0.212 0.237 0.262 0.288 0.313 0.338 0.364 0.389 0.414 0.440 0.465 0.503 0.528 0.553 0.579 0.604 0.629 0.655 0.680 0.705 0.731 0.756 0.781 0.806 0.832 0.857 0.882 0.908 0.933 0.958 0.984 1.000 1.000 1.000 1.000 1.000 1.000 1.000 1.000 1.000 1.000 1.000 1.000 1.000 1.000 1.000 1.000 1.000 1.000 1.000 1.000 1.000 1.000 1.000 1.000 1.000 1.000 1.000 1.000 1.000 0.999 0.963 0.928 0.892 0.857 0.821 0.785 0.750 0.714 0.678 0.643 0.607 0.571 0.536 0.500"/><feFuncG type="table" tableValues="0.000 0.000 0.000 0.000 0.000 0.000 0.000 0.000 0.000 0.000 0.000 0.000 0.000 0.000 0.000 0.000 0.002 0.033 0.065 0.096 0.127 0.159 0.190 0.222 0.253 0.284 0.316 0.347 0.378 0.410 0.441 0.473 0.504 0.535 0.567 0.598 0.629 0.661 0.692 0.724 0.755 0.786 0.818 0.849 0.880 0.912 0.943 0.975 1.000 1.000 1.000 1.000 1.000 1.000 1.000 1.000 1.000 1.000 1.000 1.000 1.000 1.000 1.000 1.000 1.000 1.000 1.000 1.000 1.000 1.000 1.000 1.000 1.000 1.000 1.000 1.000 1.000 1.000 1.000 1.000 1.000 1.000 0.974 0.945 0.916 0.887 0.858 0.829 0.800 0.771 0.741 0.712 0.683 0.654 0.625 0.596 0.567 0.538 0.509 0.480 0.451 0.422 0.393 0.364 0.335 0.306 0.277 0.248 0.219 0.190 0.160 0.131 0.102 0.073 0.044 0.015 0.000 0.000 0.000 0.000 0.000 0.000 0.000 0.000 0.000 0.000 0.000 0.000"/><feFuncB type="table" tableValues="0.500 0.536 0.571 0.607 0.643 0.678 0.714 0.750 0.785 0.821 0.857 0.892 0.928 0.963 0.999 1.000 1.000 1.000 1.000 1.000 1.000 1.000 1.000 1.000 1.000 1.000 1.000 1.000 1.000 1.000 1.000 1.000 1.000 1.000 1.000 1.000 1.000 1.000 1.000 1.000 1.000 1.000 1.000 1.000 0.984 0.958 0.933 0.908 0.882 0.857 0.832 0.806 0.781 0.756 0.731 0.705 0.680 0.655 0.629 0.604 0.579 0.553 0.528 0.503 0.465 0.440 0.414 0.389 0.364 0.338 0.313 0.288 0.262 0.237 0.212 0.187 0.161 0.136 0.111 0.085 0.060 0.035 0.009 0.000 0.000 0.000 0.000 0.000 0.000 0.000 0.000 0.000 0.000 0.000 0.000 0.000 0.000 0.000 0.000 0.000 0.000 0.000 0.000 0.000 0.000 0.000 0.000 0.000 0.000 0.000 0.000 0.000 0.000 0.000 0.000 0.000 0.000 0.000 0.000 0.000 0.000 0.000 0.000 0.000 0.000 0.000 0.000 0.000"/></feComponentTransfer>
<feComposite in="c" in2="SourceGraphic" operator="in"/>
</filter>
<filter id="nz3" x="769" y="81" width="176" height="639" filterUnits="userSpaceOnUse" color-interpolation-filters="sRGB">
<feTurbulence type="fractalNoise" baseFrequency="1.3" numOctaves="1" seed="24" result="t"/>
<feColorMatrix in="t" type="matrix" values="1 0 0 0 0 1 0 0 0 0 1 0 0 0 0 0 0 0 0 1" result="g0"/>
<feComponentTransfer in="g0" result="g"><feFuncR type="table" tableValues="0.05 0.12 0.22 0.32 0.42 0.5 0.57 0.63 0.68 0.72 0.75"/><feFuncG type="table" tableValues="0.05 0.12 0.22 0.32 0.42 0.5 0.57 0.63 0.68 0.72 0.75"/><feFuncB type="table" tableValues="0.05 0.12 0.22 0.32 0.42 0.5 0.57 0.63 0.68 0.72 0.75"/></feComponentTransfer>
<feComposite in="SourceGraphic" in2="g" operator="arithmetic" k1="0" k2="1" k3="0.5" k4="-0.2500" result="s"/>
<feComponentTransfer in="s" result="c"><feFuncR type="table" tableValues="0.000 0.000 0.000 0.000 0.000 0.000 0.000 0.000 0.000 0.000 0.000 0.000 0.000 0.000 0.000 0.000 0.000 0.000 0.000 0.000 0.000 0.000 0.000 0.000 0.000 0.000 0.000 0.000 0.000 0.000 0.000 0.000 0.000 0.000 0.000 0.000 0.000 0.000 0.000 0.000 0.000 0.000 0.000 0.000 0.000 0.009 0.035 0.060 0.085 0.111 0.136 0.161 0.187 0.212 0.237 0.262 0.288 0.313 0.338 0.364 0.389 0.414 0.440 0.465 0.503 0.528 0.553 0.579 0.604 0.629 0.655 0.680 0.705 0.731 0.756 0.781 0.806 0.832 0.857 0.882 0.908 0.933 0.958 0.984 1.000 1.000 1.000 1.000 1.000 1.000 1.000 1.000 1.000 1.000 1.000 1.000 1.000 1.000 1.000 1.000 1.000 1.000 1.000 1.000 1.000 1.000 1.000 1.000 1.000 1.000 1.000 1.000 1.000 0.999 0.963 0.928 0.892 0.857 0.821 0.785 0.750 0.714 0.678 0.643 0.607 0.571 0.536 0.500"/><feFuncG type="table" tableValues="0.000 0.000 0.000 0.000 0.000 0.000 0.000 0.000 0.000 0.000 0.000 0.000 0.000 0.000 0.000 0.000 0.002 0.033 0.065 0.096 0.127 0.159 0.190 0.222 0.253 0.284 0.316 0.347 0.378 0.410 0.441 0.473 0.504 0.535 0.567 0.598 0.629 0.661 0.692 0.724 0.755 0.786 0.818 0.849 0.880 0.912 0.943 0.975 1.000 1.000 1.000 1.000 1.000 1.000 1.000 1.000 1.000 1.000 1.000 1.000 1.000 1.000 1.000 1.000 1.000 1.000 1.000 1.000 1.000 1.000 1.000 1.000 1.000 1.000 1.000 1.000 1.000 1.000 1.000 1.000 1.000 1.000 0.974 0.945 0.916 0.887 0.858 0.829 0.800 0.771 0.741 0.712 0.683 0.654 0.625 0.596 0.567 0.538 0.509 0.480 0.451 0.422 0.393 0.364 0.335 0.306 0.277 0.248 0.219 0.190 0.160 0.131 0.102 0.073 0.044 0.015 0.000 0.000 0.000 0.000 0.000 0.000 0.000 0.000 0.000 0.000 0.000 0.000"/><feFuncB type="table" tableValues="0.500 0.536 0.571 0.607 0.643 0.678 0.714 0.750 0.785 0.821 0.857 0.892 0.928 0.963 0.999 1.000 1.000 1.000 1.000 1.000 1.000 1.000 1.000 1.000 1.000 1.000 1.000 1.000 1.000 1.000 1.000 1.000 1.000 1.000 1.000 1.000 1.000 1.000 1.000 1.000 1.000 1.000 1.000 1.000 0.984 0.958 0.933 0.908 0.882 0.857 0.832 0.806 0.781 0.756 0.731 0.705 0.680 0.655 0.629 0.604 0.579 0.553 0.528 0.503 0.465 0.440 0.414 0.389 0.364 0.338 0.313 0.288 0.262 0.237 0.212 0.187 0.161 0.136 0.111 0.085 0.060 0.035 0.009 0.000 0.000 0.000 0.000 0.000 0.000 0.000 0.000 0.000 0.000 0.000 0.000 0.000 0.000 0.000 0.000 0.000 0.000 0.000 0.000 0.000 0.000 0.000 0.000 0.000 0.000 0.000 0.000 0.000 0.000 0.000 0.000 0.000 0.000 0.000 0.000 0.000 0.000 0.000 0.000 0.000 0.000 0.000 0.000 0.000"/></feComponentTransfer>
<feComposite in="c" in2="SourceGraphic" operator="in"/>
</filter>
<filter id="ns3" x="769" y="81" width="176" height="639" filterUnits="userSpaceOnUse" color-interpolation-filters="sRGB">
<feTurbulence type="fractalNoise" baseFrequency="1.3" numOctaves="1" seed="26" result="t"/>
<feColorMatrix in="t" type="matrix" values="1 0 0 0 0 1 0 0 0 0 1 0 0 0 0 0 0 0 0 1" result="g0"/>
<feComponentTransfer in="g0" result="g"><feFuncR type="table" tableValues="0.05 0.12 0.22 0.32 0.42 0.5 0.57 0.63 0.68 0.72 0.75"/><feFuncG type="table" tableValues="0.05 0.12 0.22 0.32 0.42 0.5 0.57 0.63 0.68 0.72 0.75"/><feFuncB type="table" tableValues="0.05 0.12 0.22 0.32 0.42 0.5 0.57 0.63 0.68 0.72 0.75"/></feComponentTransfer>
<feComposite in="SourceGraphic" in2="g" operator="arithmetic" k1="0" k2="1" k3="0.22" k4="-0.1100" result="s"/>
<feComponentTransfer in="s" result="c"><feFuncR type="table" tableValues="0.000 0.000 0.000 0.000 0.000 0.000 0.000 0.000 0.000 0.000 0.000 0.000 0.000 0.000 0.000 0.000 0.000 0.000 0.000 0.000 0.000 0.000 0.000 0.000 0.000 0.000 0.000 0.000 0.000 0.000 0.000 0.000 0.000 0.000 0.000 0.000 0.000 0.000 0.000 0.000 0.000 0.000 0.000 0.000 0.000 0.009 0.035 0.060 0.085 0.111 0.136 0.161 0.187 0.212 0.237 0.262 0.288 0.313 0.338 0.364 0.389 0.414 0.440 0.465 0.503 0.528 0.553 0.579 0.604 0.629 0.655 0.680 0.705 0.731 0.756 0.781 0.806 0.832 0.857 0.882 0.908 0.933 0.958 0.984 1.000 1.000 1.000 1.000 1.000 1.000 1.000 1.000 1.000 1.000 1.000 1.000 1.000 1.000 1.000 1.000 1.000 1.000 1.000 1.000 1.000 1.000 1.000 1.000 1.000 1.000 1.000 1.000 1.000 0.999 0.963 0.928 0.892 0.857 0.821 0.785 0.750 0.714 0.678 0.643 0.607 0.571 0.536 0.500"/><feFuncG type="table" tableValues="0.000 0.000 0.000 0.000 0.000 0.000 0.000 0.000 0.000 0.000 0.000 0.000 0.000 0.000 0.000 0.000 0.002 0.033 0.065 0.096 0.127 0.159 0.190 0.222 0.253 0.284 0.316 0.347 0.378 0.410 0.441 0.473 0.504 0.535 0.567 0.598 0.629 0.661 0.692 0.724 0.755 0.786 0.818 0.849 0.880 0.912 0.943 0.975 1.000 1.000 1.000 1.000 1.000 1.000 1.000 1.000 1.000 1.000 1.000 1.000 1.000 1.000 1.000 1.000 1.000 1.000 1.000 1.000 1.000 1.000 1.000 1.000 1.000 1.000 1.000 1.000 1.000 1.000 1.000 1.000 1.000 1.000 0.974 0.945 0.916 0.887 0.858 0.829 0.800 0.771 0.741 0.712 0.683 0.654 0.625 0.596 0.567 0.538 0.509 0.480 0.451 0.422 0.393 0.364 0.335 0.306 0.277 0.248 0.219 0.190 0.160 0.131 0.102 0.073 0.044 0.015 0.000 0.000 0.000 0.000 0.000 0.000 0.000 0.000 0.000 0.000 0.000 0.000"/><feFuncB type="table" tableValues="0.500 0.536 0.571 0.607 0.643 0.678 0.714 0.750 0.785 0.821 0.857 0.892 0.928 0.963 0.999 1.000 1.000 1.000 1.000 1.000 1.000 1.000 1.000 1.000 1.000 1.000 1.000 1.000 1.000 1.000 1.000 1.000 1.000 1.000 1.000 1.000 1.000 1.000 1.000 1.000 1.000 1.000 1.000 1.000 0.984 0.958 0.933 0.908 0.882 0.857 0.832 0.806 0.781 0.756 0.731 0.705 0.680 0.655 0.629 0.604 0.579 0.553 0.528 0.503 0.465 0.440 0.414 0.389 0.364 0.338 0.313 0.288 0.262 0.237 0.212 0.187 0.161 0.136 0.111 0.085 0.060 0.035 0.009 0.000 0.000 0.000 0.000 0.000 0.000 0.000 0.000 0.000 0.000 0.000 0.000 0.000 0.000 0.000 0.000 0.000 0.000 0.000 0.000 0.000 0.000 0.000 0.000 0.000 0.000 0.000 0.000 0.000 0.000 0.000 0.000 0.000 0.000 0.000 0.000 0.000 0.000 0.000 0.000 0.000 0.000 0.000 0.000 0.000"/></feComponentTransfer>
<feComposite in="c" in2="SourceGraphic" operator="in"/>
</filter>
<filter id="nr3" x="769" y="81" width="176" height="639" filterUnits="userSpaceOnUse" color-interpolation-filters="sRGB">
<feTurbulence type="fractalNoise" baseFrequency="1.3" numOctaves="1" seed="27" result="t"/>
<feColorMatrix in="t" type="matrix" values="1 0 0 0 0 1 0 0 0 0 1 0 0 0 0 0 0 0 0 1" result="g0"/>
<feComponentTransfer in="g0" result="g"><feFuncR type="table" tableValues="0.05 0.12 0.22 0.32 0.42 0.5 0.57 0.63 0.68 0.72 0.75"/><feFuncG type="table" tableValues="0.05 0.12 0.22 0.32 0.42 0.5 0.57 0.63 0.68 0.72 0.75"/><feFuncB type="table" tableValues="0.05 0.12 0.22 0.32 0.42 0.5 0.57 0.63 0.68 0.72 0.75"/></feComponentTransfer>
<feComposite in="SourceGraphic" in2="g" operator="arithmetic" k1="0" k2="1" k3="0.7" k4="-0.3500" result="s"/>
<feComponentTransfer in="s" result="c"><feFuncR type="table" tableValues="0.000 0.000 0.000 0.000 0.000 0.000 0.000 0.000 0.000 0.000 0.000 0.000 0.000 0.000 0.000 0.000 0.000 0.000 0.000 0.000 0.000 0.000 0.000 0.000 0.000 0.000 0.000 0.000 0.000 0.000 0.000 0.000 0.000 0.000 0.000 0.000 0.000 0.000 0.000 0.000 0.000 0.000 0.000 0.000 0.000 0.009 0.035 0.060 0.085 0.111 0.136 0.161 0.187 0.212 0.237 0.262 0.288 0.313 0.338 0.364 0.389 0.414 0.440 0.465 0.503 0.528 0.553 0.579 0.604 0.629 0.655 0.680 0.705 0.731 0.756 0.781 0.806 0.832 0.857 0.882 0.908 0.933 0.958 0.984 1.000 1.000 1.000 1.000 1.000 1.000 1.000 1.000 1.000 1.000 1.000 1.000 1.000 1.000 1.000 1.000 1.000 1.000 1.000 1.000 1.000 1.000 1.000 1.000 1.000 1.000 1.000 1.000 1.000 0.999 0.963 0.928 0.892 0.857 0.821 0.785 0.750 0.714 0.678 0.643 0.607 0.571 0.536 0.500"/><feFuncG type="table" tableValues="0.000 0.000 0.000 0.000 0.000 0.000 0.000 0.000 0.000 0.000 0.000 0.000 0.000 0.000 0.000 0.000 0.002 0.033 0.065 0.096 0.127 0.159 0.190 0.222 0.253 0.284 0.316 0.347 0.378 0.410 0.441 0.473 0.504 0.535 0.567 0.598 0.629 0.661 0.692 0.724 0.755 0.786 0.818 0.849 0.880 0.912 0.943 0.975 1.000 1.000 1.000 1.000 1.000 1.000 1.000 1.000 1.000 1.000 1.000 1.000 1.000 1.000 1.000 1.000 1.000 1.000 1.000 1.000 1.000 1.000 1.000 1.000 1.000 1.000 1.000 1.000 1.000 1.000 1.000 1.000 1.000 1.000 0.974 0.945 0.916 0.887 0.858 0.829 0.800 0.771 0.741 0.712 0.683 0.654 0.625 0.596 0.567 0.538 0.509 0.480 0.451 0.422 0.393 0.364 0.335 0.306 0.277 0.248 0.219 0.190 0.160 0.131 0.102 0.073 0.044 0.015 0.000 0.000 0.000 0.000 0.000 0.000 0.000 0.000 0.000 0.000 0.000 0.000"/><feFuncB type="table" tableValues="0.500 0.536 0.571 0.607 0.643 0.678 0.714 0.750 0.785 0.821 0.857 0.892 0.928 0.963 0.999 1.000 1.000 1.000 1.000 1.000 1.000 1.000 1.000 1.000 1.000 1.000 1.000 1.000 1.000 1.000 1.000 1.000 1.000 1.000 1.000 1.000 1.000 1.000 1.000 1.000 1.000 1.000 1.000 1.000 0.984 0.958 0.933 0.908 0.882 0.857 0.832 0.806 0.781 0.756 0.731 0.705 0.680 0.655 0.629 0.604 0.579 0.553 0.528 0.503 0.465 0.440 0.414 0.389 0.364 0.338 0.313 0.288 0.262 0.237 0.212 0.187 0.161 0.136 0.111 0.085 0.060 0.035 0.009 0.000 0.000 0.000 0.000 0.000 0.000 0.000 0.000 0.000 0.000 0.000 0.000 0.000 0.000 0.000 0.000 0.000 0.000 0.000 0.000 0.000 0.000 0.000 0.000 0.000 0.000 0.000 0.000 0.000 0.000 0.000 0.000 0.000 0.000 0.000 0.000 0.000 0.000 0.000 0.000 0.000 0.000 0.000 0.000 0.000"/></feComponentTransfer>
<feComposite in="c" in2="SourceGraphic" operator="in"/>
</filter>
</defs>
<rect x="0" y="0" width="1050" height="800" fill="#fff"/>
<g filter="url(#ns0)"><rect x="132" y="82" width="176" height="1" fill="#525252"/><rect x="132" y="85" width="176" height="1" fill="#505050"/><rect x="132" y="86" width="176" height="1" fill="#4e4e4e"/><rect x="132" y="87" width="176" height="1" fill="#525252"/><rect x="132" y="88" width="176" height="1" fill="#4e4e4e"/><rect x="132" y="89" width="176" height="1" fill="#4e4e4e"/><rect x="132" y="102" width="176" height="1" fill="#494949"/><rect x="132" y="103" width="176" height="1" fill="#4b4b4b"/><rect x="132" y="104" width="176" height="1" fill="#484848"/><rect x="132" y="105" width="176" height="1" fill="#4b4b4b"/><rect x="132" y="110" width="176" height="1" fill="#545454"/><rect x="132" y="111" width="176" height="1" fill="#535353"/><rect x="132" y="114" width="176" height="1" fill="#3c3c3c"/><rect x="132" y="115" width="176" height="1" fill="#3f3f3f"/><rect x="132" y="116" width="176" height="1" fill="#535353"/><rect x="132" y="117" width="176" height="1" fill="#505050"/><rect x="132" y="121" width="176" height="1" fill="#4c4c4c"/><rect x="132" y="122" width="176" height="1" fill="#4d4d4d"/><rect x="132" y="123" width="176" height="1" fill="#4d4d4d"/><rect x="132" y="125" width="176" height="1" fill="#535353"/><rect x="132" y="126" width="176" height="1" fill="#4c4c4c"/><rect x="132" y="130" width="176" height="1" fill="#4d4d4d"/><rect x="132" y="131" width="176" height="1" fill="#4d4d4d"/><rect x="132" y="132" width="176" height="1" fill="#515151"/><rect x="132" y="133" width="176" height="1" fill="#484848"/><rect x="132" y="141" width="176" height="1" fill="#575757"/><rect x="132" y="143" width="176" height="1" fill="#4c4c4c"/><rect x="132" y="144" width="176" height="1" fill="#464646"/><rect x="132" y="145" width="176" height="1" fill="#4f4f4f"/><rect x="132" y="146" width="176" height="1" fill="#4e4e4e"/><rect x="132" y="147" width="176" height="1" fill="#4d4d4d"/><rect x="132" y="148" width="176" height="1" fill="#4d4d4d"/><rect x="132" y="168" width="176" height="1" fill="#4d4d4d"/><rect x="132" y="169" width="176" height="1" fill="#4f4f4f"/><rect x="132" y="226" width="176" height="1" fill="#3b3b3b"/><rect x="132" y="227" width="176" height="1" fill="#3e3e3e"/><rect x="132" y="228" width="176" height="1" fill="#444444"/><rect x="132" y="229" width="176" height="1" fill="#424242"/><rect x="132" y="230" width="176" height="1" fill="#414141"/><rect x="132" y="314" width="176" height="1" fill="#414141"/><rect x="132" y="315" width="176" height="1" fill="#3c3c3c"/><rect x="132" y="316" width="176" height="1" fill="#424242"/><rect x="132" y="317" width="176" height="1" fill="#434343"/><rect x="132" y="334" width="176" height="1" fill="#494949"/><rect x="132" y="335" width="176" height="1" fill="#414141"/><rect x="132" y="336" width="176" height="1" fill="#404040"/><rect x="132" y="337" width="176" height="1" fill="#494949"/><rect x="132" y="338" width="176" height="1" fill="#494949"/><rect x="132" y="339" width="176" height="1" fill="#444444"/><rect x="132" y="442" width="176" height="1" fill="#454545"/><rect x="132" y="443" width="176" height="1" fill="#484848"/><rect x="132" y="444" width="176" height="1" fill="#464646"/><rect x="132" y="599" width="176" height="1" fill="#4d4d4d"/><rect x="132" y="600" width="176" height="1" fill="#4f4f4f"/><rect x="132" y="601" width="176" height="1" fill="#515151"/><rect x="132" y="602" width="176" height="1" fill="#505050"/><rect x="132" y="604" width="176" height="1" fill="#4e4e4e"/><rect x="132" y="605" width="176" height="1" fill="#494949"/><rect x="132" y="606" width="176" height="1" fill="#464646"/><rect x="132" y="607" width="176" height="1" fill="#4c4c4c"/><rect x="132" y="608" width="176" height="1" fill="#484848"/><rect x="132" y="609" width="176" height="1" fill="#4e4e4e"/><rect x="132" y="614" width="176" height="1" fill="#4a4a4a"/><rect x="132" y="615" width="176" height="1" fill="#4d4d4d"/><rect x="132" y="616" width="176" height="1" fill="#494949"/><rect x="132" y="617" width="176" height="1" fill="#4b4b4b"/><rect x="132" y="618" width="176" height="1" fill="#464646"/><rect x="132" y="619" width="176" height="1" fill="#474747"/><rect x="132" y="620" width="176" height="1" fill="#464646"/><rect x="132" y="621" width="176" height="1" fill="#494949"/><rect x="132" y="623" width="176" height="1" fill="#4b4b4b"/><rect x="132" y="624" width="176" height="1" fill="#4b4b4b"/><rect x="132" y="625" width="176" height="1" fill="#474747"/><rect x="132" y="626" width="176" height="1" fill="#484848"/><rect x="132" y="627" width="176" height="1" fill="#454545"/><rect x="132" y="628" width="176" height="1" fill="#464646"/><rect x="132" y="629" width="176" height="1" fill="#494949"/><rect x="132" y="630" width="176" height="1" fill="#4e4e4e"/><rect x="132" y="631" width="176" height="1" fill="#474747"/><rect x="132" y="632" width="176" height="1" fill="#494949"/><rect x="132" y="633" width="176" height="1" fill="#454545"/><rect x="132" y="634" width="176" height="1" fill="#4b4b4b"/><rect x="132" y="635" width="176" height="1" fill="#494949"/><rect x="132" y="636" width="176" height="1" fill="#484848"/><rect x="132" y="637" width="176" height="1" fill="#494949"/><rect x="132" y="638" width="176" height="1" fill="#484848"/><rect x="132" y="640" width="176" height="1" fill="#494949"/></g>
<g filter="url(#nz0)"><rect x="132" y="81" width="176" height="1" fill="#2c2c2c"/><rect x="132" y="83" width="176" height="1" fill="#2f2f2f"/><rect x="132" y="84" width="176" height="1" fill="#3c3c3c"/><rect x="132" y="90" width="176" height="1" fill="#3d3d3d"/><rect x="132" y="91" width="176" height="1" fill="#3e3e3e"/><rect x="132" y="92" width="176" height="1" fill="#2b2b2b"/><rect x="132" y="93" width="176" height="1" fill="#3b3b3b"/><rect x="132" y="94" width="176" height="1" fill="#3a3a3a"/><rect x="132" y="95" width="176" height="1" fill="#3d3d3d"/><rect x="132" y="96" width="176" height="1" fill="#383838"/><rect x="132" y="97" width="176" height="1" fill="#3e3e3e"/><rect x="132" y="98" width="176" height="1" fill="#2c2c2c"/><rect x="132" y="99" width="176" height="1" fill="#3b3b3b"/><rect x="132" y="100" width="176" height="1" fill="#383838"/><rect x="132" y="101" width="176" height="1" fill="#3c3c3c"/><rect x="132" y="106" width="176" height="1" fill="#2f2f2f"/><rect x="132" y="107" width="176" height="1" fill="#3e3e3e"/><rect x="132" y="108" width="176" height="1" fill="#3c3c3c"/><rect x="132" y="109" width="176" height="1" fill="#383838"/><rect x="132" y="112" width="176" height="1" fill="#3c3c3c"/><rect x="132" y="113" width="176" height="1" fill="#2b2b2b"/><rect x="132" y="118" width="176" height="1" fill="#2e2e2e"/><rect x="132" y="119" width="176" height="1" fill="#2b2b2b"/><rect x="132" y="120" width="176" height="1" fill="#2d2d2d"/><rect x="132" y="124" width="176" height="1" fill="#2b2b2b"/><rect x="132" y="127" width="176" height="1" fill="#2e2e2e"/><rect x="132" y="128" width="176" height="1" fill="#3e3e3e"/><rect x="132" y="129" width="176" height="1" fill="#3b3b3b"/><rect x="132" y="134" width="176" height="1" fill="#3b3b3b"/><rect x="132" y="135" width="176" height="1" fill="#303030"/><rect x="132" y="136" width="176" height="1" fill="#2f2f2f"/><rect x="132" y="137" width="176" height="1" fill="#2a2a2a"/><rect x="132" y="138" width="176" height="1" fill="#2b2b2b"/><rect x="132" y="139" width="176" height="1" fill="#2d2d2d"/><rect x="132" y="140" width="176" height="1" fill="#2b2b2b"/><rect x="132" y="142" width="176" height="1" fill="#2a2a2a"/><rect x="132" y="149" width="176" height="1" fill="#2c2c2c"/><rect x="132" y="150" width="176" height="1" fill="#2e2e2e"/><rect x="132" y="151" width="176" height="1" fill="#2e2e2e"/><rect x="132" y="152" width="176" height="1" fill="#2d2d2d"/><rect x="132" y="153" width="176" height="1" fill="#2a2a2a"/><rect x="132" y="154" width="176" height="1" fill="#2d2d2d"/><rect x="132" y="155" width="176" height="1" fill="#2c2c2c"/><rect x="132" y="156" width="176" height="1" fill="#2d2d2d"/><rect x="132" y="157" width="176" height="1" fill="#2c2c2c"/><rect x="132" y="158" width="176" height="1" fill="#2f2f2f"/><rect x="132" y="159" width="176" height="1" fill="#2b2b2b"/><rect x="132" y="160" width="176" height="1" fill="#2e2e2e"/><rect x="132" y="161" width="176" height="1" fill="#2e2e2e"/><rect x="132" y="162" width="176" height="1" fill="#2d2d2d"/><rect x="132" y="163" width="176" height="1" fill="#2a2a2a"/><rect x="132" y="164" width="176" height="1" fill="#2b2b2b"/><rect x="132" y="165" width="176" height="1" fill="#2f2f2f"/><rect x="132" y="166" width="176" height="1" fill="#2b2b2b"/><rect x="132" y="167" width="176" height="1" fill="#2b2b2b"/><rect x="132" y="170" width="176" height="1" fill="#2d2d2d"/><rect x="132" y="171" width="176" height="1" fill="#2a2a2a"/><rect x="132" y="172" width="176" height="1" fill="#2a2a2a"/><rect x="132" y="173" width="176" height="1" fill="#2d2d2d"/><rect x="132" y="174" width="176" height="1" fill="#2b2b2b"/><rect x="132" y="175" width="176" height="1" fill="#2d2d2d"/><rect x="132" y="176" width="176" height="1" fill="#2e2e2e"/><rect x="132" y="177" width="176" height="1" fill="#2a2a2a"/><rect x="132" y="178" width="176" height="1" fill="#2d2d2d"/><rect x="132" y="179" width="176" height="1" fill="#2c2c2c"/><rect x="132" y="180" width="176" height="1" fill="#2e2e2e"/><rect x="132" y="181" width="176" height="1" fill="#2f2f2f"/><rect x="132" y="182" width="176" height="1" fill="#2c2c2c"/><rect x="132" y="183" width="176" height="1" fill="#2b2b2b"/><rect x="132" y="184" width="176" height="1" fill="#2f2f2f"/><rect x="132" y="185" width="176" height="1" fill="#2a2a2a"/><rect x="132" y="186" width="176" height="1" fill="#2c2c2c"/><rect x="132" y="187" width="176" height="1" fill="#2c2c2c"/><rect x="132" y="188" width="176" height="1" fill="#2b2b2b"/><rect x="132" y="189" width="176" height="1" fill="#2e2e2e"/><rect x="132" y="190" width="176" height="1" fill="#2d2d2d"/><rect x="132" y="191" width="176" height="1" fill="#2b2b2b"/><rect x="132" y="192" width="176" height="1" fill="#2c2c2c"/><rect x="132" y="193" width="176" height="1" fill="#2e2e2e"/><rect x="132" y="194" width="176" height="1" fill="#2c2c2c"/><rect x="132" y="195" width="176" height="1" fill="#2a2a2a"/><rect x="132" y="196" width="176" height="1" fill="#2c2c2c"/><rect x="132" y="197" width="176" height="1" fill="#2b2b2b"/><rect x="132" y="198" width="176" height="1" fill="#2d2d2d"/><rect x="132" y="199" width="176" height="1" fill="#2b2b2b"/><rect x="132" y="200" width="176" height="1" fill="#2a2a2a"/><rect x="132" y="201" width="176" height="1" fill="#2f2f2f"/><rect x="132" y="202" width="176" height="1" fill="#2c2c2c"/><rect x="132" y="203" width="176" height="1" fill="#2b2b2b"/><rect x="132" y="204" width="176" height="1" fill="#2d2d2d"/><rect x="132" y="205" width="176" height="1" fill="#2e2e2e"/><rect x="132" y="206" width="176" height="1" fill="#2e2e2e"/><rect x="132" y="207" width="176" height="1" fill="#2e2e2e"/><rect x="132" y="208" width="176" height="1" fill="#2b2b2b"/><rect x="132" y="209" width="176" height="1" fill="#2c2c2c"/><rect x="132" y="210" width="176" height="1" fill="#2c2c2c"/><rect x="132" y="211" width="176" height="1" fill="#2d2d2d"/><rect x="132" y="212" width="176" height="1" fill="#2d2d2d"/><rect x="132" y="213" width="176" height="1" fill="#2d2d2d"/><rect x="132" y="214" width="176" height="1" fill="#2a2a2a"/><rect x="132" y="215" width="176" height="1" fill="#2c2c2c"/><rect x="132" y="216" width="176" height="1" fill="#2e2e2e"/><rect x="132" y="217" width="176" height="1" fill="#2a2a2a"/><rect x="132" y="218" width="176" height="1" fill="#2e2e2e"/><rect x="132" y="219" width="176" height="1" fill="#2f2f2f"/><rect x="132" y="220" width="176" height="1" fill="#2d2d2d"/><rect x="132" y="221" width="176" height="1" fill="#2e2e2e"/><rect x="132" y="222" width="176" height="1" fill="#2c2c2c"/><rect x="132" y="223" width="176" height="1" fill="#2e2e2e"/><rect x="132" y="224" width="176" height="1" fill="#2d2d2d"/><rect x="132" y="225" width="176" height="1" fill="#2b2b2b"/><rect x="132" y="231" width="176" height="1" fill="#2f2f2f"/><rect x="132" y="232" width="176" height="1" fill="#2a2a2a"/><rect x="132" y="233" width="176" height="1" fill="#2d2d2d"/><rect x="132" y="234" width="176" height="1" fill="#2b2b2b"/><rect x="132" y="235" width="176" height="1" fill="#2c2c2c"/><rect x="132" y="236" width="176" height="1" fill="#2b2b2b"/><rect x="132" y="237" width="176" height="1" fill="#2c2c2c"/><rect x="132" y="238" width="176" height="1" fill="#353535"/><rect x="132" y="239" width="176" height="1" fill="#343434"/><rect x="132" y="240" width="176" height="1" fill="#353535"/><rect x="132" y="241" width="176" height="1" fill="#303030"/><rect x="132" y="242" width="176" height="1" fill="#323232"/><rect x="132" y="243" width="176" height="1" fill="#353535"/><rect x="132" y="244" width="176" height="1" fill="#2a2a2a"/><rect x="132" y="245" width="176" height="1" fill="#2b2b2b"/><rect x="132" y="246" width="176" height="1" fill="#2a2a2a"/><rect x="132" y="247" width="176" height="1" fill="#323232"/><rect x="132" y="248" width="176" height="1" fill="#2f2f2f"/><rect x="132" y="249" width="176" height="1" fill="#303030"/><rect x="132" y="250" width="176" height="1" fill="#2d2d2d"/><rect x="132" y="251" width="176" height="1" fill="#2e2e2e"/><rect x="132" y="252" width="176" height="1" fill="#313131"/><rect x="132" y="253" width="176" height="1" fill="#2e2e2e"/><rect x="132" y="254" width="176" height="1" fill="#2c2c2c"/><rect x="132" y="255" width="176" height="1" fill="#2c2c2c"/><rect x="132" y="256" width="176" height="1" fill="#2a2a2a"/><rect x="132" y="257" width="176" height="1" fill="#2a2a2a"/><rect x="132" y="258" width="176" height="1" fill="#2a2a2a"/><rect x="132" y="259" width="176" height="1" fill="#2b2b2b"/><rect x="132" y="260" width="176" height="1" fill="#2d2d2d"/><rect x="132" y="261" width="176" height="1" fill="#323232"/><rect x="132" y="262" width="176" height="1" fill="#363636"/><rect x="132" y="263" width="176" height="1" fill="#323232"/><rect x="132" y="264" width="176" height="1" fill="#2f2f2f"/><rect x="132" y="265" width="176" height="1" fill="#2a2a2a"/><rect x="132" y="266" width="176" height="1" fill="#2d2d2d"/><rect x="132" y="267" width="176" height="1" fill="#2d2d2d"/><rect x="132" y="268" width="176" height="1" fill="#2e2e2e"/><rect x="132" y="269" width="176" height="1" fill="#2c2c2c"/><rect x="132" y="270" width="176" height="1" fill="#2d2d2d"/><rect x="132" y="271" width="176" height="1" fill="#2e2e2e"/><rect x="132" y="272" width="176" height="1" fill="#2a2a2a"/><rect x="132" y="273" width="176" height="1" fill="#2d2d2d"/><rect x="132" y="274" width="176" height="1" fill="#2d2d2d"/><rect x="132" y="275" width="176" height="1" fill="#2e2e2e"/><rect x="132" y="276" width="176" height="1" fill="#2b2b2b"/><rect x="132" y="277" width="176" height="1" fill="#2c2c2c"/><rect x="132" y="278" width="176" height="1" fill="#2a2a2a"/><rect x="132" y="279" width="176" height="1" fill="#2e2e2e"/><rect x="132" y="280" width="176" height="1" fill="#2f2f2f"/><rect x="132" y="281" width="176" height="1" fill="#2c2c2c"/><rect x="132" y="282" width="176" height="1" fill="#2f2f2f"/><rect x="132" y="283" width="176" height="1" fill="#2e2e2e"/><rect x="132" y="284" width="176" height="1" fill="#2a2a2a"/><rect x="132" y="285" width="176" height="1" fill="#2c2c2c"/><rect x="132" y="286" width="176" height="1" fill="#2a2a2a"/><rect x="132" y="287" width="176" height="1" fill="#2b2b2b"/><rect x="132" y="288" width="176" height="1" fill="#2e2e2e"/><rect x="132" y="289" width="176" height="1" fill="#2a2a2a"/><rect x="132" y="290" width="176" height="1" fill="#2d2d2d"/><rect x="132" y="291" width="176" height="1" fill="#2a2a2a"/><rect x="132" y="292" width="176" height="1" fill="#2a2a2a"/><rect x="132" y="293" width="176" height="1" fill="#2f2f2f"/><rect x="132" y="294" width="176" height="1" fill="#2a2a2a"/><rect x="132" y="295" width="176" height="1" fill="#2b2b2b"/><rect x="132" y="296" width="176" height="1" fill="#2f2f2f"/><rect x="132" y="297" width="176" height="1" fill="#373737"/><rect x="132" y="298" width="176" height="1" fill="#363636"/><rect x="132" y="299" width="176" height="1" fill="#363636"/><rect x="132" y="300" width="176" height="1" fill="#2d2d2d"/><rect x="132" y="301" width="176" height="1" fill="#2a2a2a"/><rect x="132" y="302" width="176" height="1" fill="#2b2b2b"/><rect x="132" y="303" width="176" height="1" fill="#2b2b2b"/><rect x="132" y="304" width="176" height="1" fill="#2e2e2e"/><rect x="132" y="305" width="176" height="1" fill="#2b2b2b"/><rect x="132" y="306" width="176" height="1" fill="#2d2d2d"/><rect x="132" y="307" width="176" height="1" fill="#2b2b2b"/><rect x="132" y="308" width="176" height="1" fill="#303030"/><rect x="132" y="309" width="176" height="1" fill="#303030"/><rect x="132" y="310" width="176" height="1" fill="#2f2f2f"/><rect x="132" y="311" width="176" height="1" fill="#2f2f2f"/><rect x="132" y="312" width="176" height="1" fill="#2d2d2d"/><rect x="132" y="313" width="176" height="1" fill="#2f2f2f"/><rect x="132" y="318" width="176" height="1" fill="#2a2a2a"/><rect x="132" y="319" width="176" height="1" fill="#2b2b2b"/><rect x="132" y="320" width="176" height="1" fill="#2e2e2e"/><rect x="132" y="321" width="176" height="1" fill="#2e2e2e"/><rect x="132" y="322" width="176" height="1" fill="#2d2d2d"/><rect x="132" y="323" width="176" height="1" fill="#2a2a2a"/><rect x="132" y="324" width="176" height="1" fill="#2b2b2b"/><rect x="132" y="325" width="176" height="1" fill="#2b2b2b"/><rect x="132" y="326" width="176" height="1" fill="#303030"/><rect x="132" y="327" width="176" height="1" fill="#2b2b2b"/><rect x="132" y="328" width="176" height="1" fill="#2c2c2c"/><rect x="132" y="329" width="176" height="1" fill="#2e2e2e"/><rect x="132" y="330" width="176" height="1" fill="#2e2e2e"/><rect x="132" y="331" width="176" height="1" fill="#313131"/><rect x="132" y="332" width="176" height="1" fill="#313131"/><rect x="132" y="333" width="176" height="1" fill="#2f2f2f"/><rect x="132" y="340" width="176" height="1" fill="#282828"/><rect x="132" y="341" width="176" height="1" fill="#292929"/><rect x="132" y="342" width="176" height="1" fill="#282828"/><rect x="132" y="343" width="176" height="1" fill="#2e2e2e"/><rect x="132" y="344" width="176" height="1" fill="#2f2f2f"/><rect x="132" y="345" width="176" height="1" fill="#272727"/><rect x="132" y="346" width="176" height="1" fill="#292929"/><rect x="132" y="347" width="176" height="1" fill="#262626"/><rect x="132" y="348" width="176" height="1" fill="#2a2a2a"/><rect x="132" y="349" width="176" height="1" fill="#2b2b2b"/><rect x="132" y="350" width="176" height="1" fill="#282828"/><rect x="132" y="351" width="176" height="1" fill="#292929"/><rect x="132" y="352" width="176" height="1" fill="#292929"/><rect x="132" y="353" width="176" height="1" fill="#2a2a2a"/><rect x="132" y="354" width="176" height="1" fill="#292929"/><rect x="132" y="355" width="176" height="1" fill="#282828"/><rect x="132" y="356" width="176" height="1" fill="#2a2a2a"/><rect x="132" y="357" width="176" height="1" fill="#252525"/><rect x="132" y="358" width="176" height="1" fill="#2b2b2b"/><rect x="132" y="359" width="176" height="1" fill="#2b2b2b"/><rect x="132" y="360" width="176" height="1" fill="#292929"/><rect x="132" y="361" width="176" height="1" fill="#262626"/><rect x="132" y="362" width="176" height="1" fill="#292929"/><rect x="132" y="363" width="176" height="1" fill="#252525"/><rect x="132" y="364" width="176" height="1" fill="#282828"/><rect x="132" y="365" width="176" height="1" fill="#272727"/><rect x="132" y="366" width="176" height="1" fill="#292929"/><rect x="132" y="367" width="176" height="1" fill="#272727"/><rect x="132" y="368" width="176" height="1" fill="#262626"/><rect x="132" y="369" width="176" height="1" fill="#2a2a2a"/><rect x="132" y="370" width="176" height="1" fill="#272727"/><rect x="132" y="371" width="176" height="1" fill="#292929"/><rect x="132" y="372" width="176" height="1" fill="#252525"/><rect x="132" y="373" width="176" height="1" fill="#292929"/><rect x="132" y="374" width="176" height="1" fill="#2a2a2a"/><rect x="132" y="375" width="176" height="1" fill="#2a2a2a"/><rect x="132" y="376" width="176" height="1" fill="#272727"/><rect x="132" y="377" width="176" height="1" fill="#262626"/><rect x="132" y="378" width="176" height="1" fill="#292929"/><rect x="132" y="379" width="176" height="1" fill="#272727"/><rect x="132" y="380" width="176" height="1" fill="#272727"/><rect x="132" y="381" width="176" height="1" fill="#272727"/><rect x="132" y="382" width="176" height="1" fill="#282828"/><rect x="132" y="383" width="176" height="1" fill="#292929"/><rect x="132" y="384" width="176" height="1" fill="#282828"/><rect x="132" y="385" width="176" height="1" fill="#292929"/><rect x="132" y="386" width="176" height="1" fill="#2a2a2a"/><rect x="132" y="387" width="176" height="1" fill="#2a2a2a"/><rect x="132" y="388" width="176" height="1" fill="#292929"/><rect x="132" y="389" width="176" height="1" fill="#2b2b2b"/><rect x="132" y="390" width="176" height="1" fill="#282828"/><rect x="132" y="391" width="176" height="1" fill="#292929"/><rect x="132" y="392" width="176" height="1" fill="#292929"/><rect x="132" y="393" width="176" height="1" fill="#2b2b2b"/><rect x="132" y="394" width="176" height="1" fill="#2a2a2a"/><rect x="132" y="395" width="176" height="1" fill="#2b2b2b"/><rect x="132" y="396" width="176" height="1" fill="#262626"/><rect x="132" y="397" width="176" height="1" fill="#282828"/><rect x="132" y="398" width="176" height="1" fill="#2a2a2a"/><rect x="132" y="399" width="176" height="1" fill="#2a2a2a"/><rect x="132" y="400" width="176" height="1" fill="#2a2a2a"/><rect x="132" y="401" width="176" height="1" fill="#272727"/><rect x="132" y="402" width="176" height="1" fill="#272727"/><rect x="132" y="403" width="176" height="1" fill="#282828"/><rect x="132" y="404" width="176" height="1" fill="#282828"/><rect x="132" y="405" width="176" height="1" fill="#262626"/><rect x="132" y="406" width="176" height="1" fill="#282828"/><rect x="132" y="407" width="176" height="1" fill="#292929"/><rect x="132" y="408" width="176" height="1" fill="#2a2a2a"/><rect x="132" y="409" width="176" height="1" fill="#272727"/><rect x="132" y="410" width="176" height="1" fill="#292929"/><rect x="132" y="411" width="176" height="1" fill="#2a2a2a"/><rect x="132" y="412" width="176" height="1" fill="#262626"/><rect x="132" y="413" width="176" height="1" fill="#252525"/><rect x="132" y="414" width="176" height="1" fill="#262626"/><rect x="132" y="415" width="176" height="1" fill="#292929"/><rect x="132" y="416" width="176" height="1" fill="#2b2b2b"/><rect x="132" y="417" width="176" height="1" fill="#282828"/><rect x="132" y="418" width="176" height="1" fill="#272727"/><rect x="132" y="419" width="176" height="1" fill="#292929"/><rect x="132" y="420" width="176" height="1" fill="#272727"/><rect x="132" y="421" width="176" height="1" fill="#252525"/><rect x="132" y="422" width="176" height="1" fill="#272727"/><rect x="132" y="423" width="176" height="1" fill="#292929"/><rect x="132" y="424" width="176" height="1" fill="#282828"/><rect x="132" y="425" width="176" height="1" fill="#272727"/><rect x="132" y="426" width="176" height="1" fill="#282828"/><rect x="132" y="427" width="176" height="1" fill="#262626"/><rect x="132" y="428" width="176" height="1" fill="#2a2a2a"/><rect x="132" y="429" width="176" height="1" fill="#282828"/><rect x="132" y="430" width="176" height="1" fill="#292929"/><rect x="132" y="431" width="176" height="1" fill="#292929"/><rect x="132" y="432" width="176" height="1" fill="#2b2b2b"/><rect x="132" y="433" width="176" height="1" fill="#2a2a2a"/><rect x="132" y="434" width="176" height="1" fill="#262626"/><rect x="132" y="435" width="176" height="1" fill="#282828"/><rect x="132" y="436" width="176" height="1" fill="#252525"/><rect x="132" y="437" width="176" height="1" fill="#2a2a2a"/><rect x="132" y="438" width="176" height="1" fill="#272727"/><rect x="132" y="439" width="176" height="1" fill="#2b2b2b"/><rect x="132" y="440" width="176" height="1" fill="#272727"/><rect x="132" y="441" width="176" height="1" fill="#282828"/><rect x="132" y="445" width="176" height="1" fill="#2b2b2b"/><rect x="132" y="446" width="176" height="1" fill="#272727"/><rect x="132" y="447" width="176" height="1" fill="#262626"/><rect x="132" y="448" width="176" height="1" fill="#262626"/><rect x="132" y="449" width="176" height="1" fill="#262626"/><rect x="132" y="450" width="176" height="1" fill="#2a2a2a"/><rect x="132" y="451" width="176" height="1" fill="#292929"/><rect x="132" y="452" width="176" height="1" fill="#2a2a2a"/><rect x="132" y="453" width="176" height="1" fill="#2a2a2a"/><rect x="132" y="454" width="176" height="1" fill="#262626"/><rect x="132" y="455" width="176" height="1" fill="#262626"/><rect x="132" y="456" width="176" height="1" fill="#292929"/><rect x="132" y="457" width="176" height="1" fill="#252525"/><rect x="132" y="458" width="176" height="1" fill="#272727"/><rect x="132" y="459" width="176" height="1" fill="#292929"/><rect x="132" y="460" width="176" height="1" fill="#292929"/><rect x="132" y="461" width="176" height="1" fill="#292929"/><rect x="132" y="462" width="176" height="1" fill="#2b2b2b"/><rect x="132" y="463" width="176" height="1" fill="#2b2b2b"/><rect x="132" y="464" width="176" height="1" fill="#272727"/><rect x="132" y="465" width="176" height="1" fill="#272727"/><rect x="132" y="466" width="176" height="1" fill="#252525"/><rect x="132" y="467" width="176" height="1" fill="#262626"/><rect x="132" y="468" width="176" height="1" fill="#282828"/><rect x="132" y="469" width="176" height="1" fill="#292929"/><rect x="132" y="470" width="176" height="1" fill="#272727"/><rect x="132" y="471" width="176" height="1" fill="#262626"/><rect x="132" y="472" width="176" height="1" fill="#292929"/><rect x="132" y="473" width="176" height="1" fill="#292929"/><rect x="132" y="474" width="176" height="1" fill="#282828"/><rect x="132" y="475" width="176" height="1" fill="#262626"/><rect x="132" y="476" width="176" height="1" fill="#262626"/><rect x="132" y="477" width="176" height="1" fill="#2b2b2b"/><rect x="132" y="478" width="176" height="1" fill="#2a2a2a"/><rect x="132" y="479" width="176" height="1" fill="#2a2a2a"/><rect x="132" y="480" width="176" height="1" fill="#252525"/><rect x="132" y="481" width="176" height="1" fill="#2a2a2a"/><rect x="132" y="482" width="176" height="1" fill="#2a2a2a"/><rect x="132" y="483" width="176" height="1" fill="#292929"/><rect x="132" y="484" width="176" height="1" fill="#262626"/><rect x="132" y="485" width="176" height="1" fill="#2a2a2a"/><rect x="132" y="486" width="176" height="1" fill="#292929"/><rect x="132" y="487" width="176" height="1" fill="#252525"/><rect x="132" y="488" width="176" height="1" fill="#252525"/><rect x="132" y="489" width="176" height="1" fill="#272727"/><rect x="132" y="490" width="176" height="1" fill="#282828"/><rect x="132" y="491" width="176" height="1" fill="#252525"/><rect x="132" y="492" width="176" height="1" fill="#2a2a2a"/><rect x="132" y="493" width="176" height="1" fill="#292929"/><rect x="132" y="494" width="176" height="1" fill="#282828"/><rect x="132" y="495" width="176" height="1" fill="#272727"/><rect x="132" y="496" width="176" height="1" fill="#252525"/><rect x="132" y="497" width="176" height="1" fill="#292929"/><rect x="132" y="498" width="176" height="1" fill="#292929"/><rect x="132" y="499" width="176" height="1" fill="#252525"/><rect x="132" y="500" width="176" height="1" fill="#292929"/><rect x="132" y="501" width="176" height="1" fill="#272727"/><rect x="132" y="502" width="176" height="1" fill="#2a2a2a"/><rect x="132" y="503" width="176" height="1" fill="#272727"/><rect x="132" y="504" width="176" height="1" fill="#262626"/><rect x="132" y="505" width="176" height="1" fill="#262626"/><rect x="132" y="506" width="176" height="1" fill="#262626"/><rect x="132" y="507" width="176" height="1" fill="#252525"/><rect x="132" y="508" width="176" height="1" fill="#252525"/><rect x="132" y="509" width="176" height="1" fill="#272727"/><rect x="132" y="510" width="176" height="1" fill="#282828"/><rect x="132" y="511" width="176" height="1" fill="#282828"/><rect x="132" y="512" width="176" height="1" fill="#252525"/><rect x="132" y="513" width="176" height="1" fill="#252525"/><rect x="132" y="514" width="176" height="1" fill="#252525"/><rect x="132" y="515" width="176" height="1" fill="#2a2a2a"/><rect x="132" y="516" width="176" height="1" fill="#252525"/><rect x="132" y="517" width="176" height="1" fill="#292929"/><rect x="132" y="518" width="176" height="1" fill="#282828"/><rect x="132" y="519" width="176" height="1" fill="#282828"/><rect x="132" y="520" width="176" height="1" fill="#2a2a2a"/><rect x="132" y="521" width="176" height="1" fill="#262626"/><rect x="132" y="522" width="176" height="1" fill="#292929"/><rect x="132" y="523" width="176" height="1" fill="#282828"/><rect x="132" y="524" width="176" height="1" fill="#272727"/><rect x="132" y="525" width="176" height="1" fill="#272727"/><rect x="132" y="526" width="176" height="1" fill="#262626"/><rect x="132" y="527" width="176" height="1" fill="#252525"/><rect x="132" y="528" width="176" height="1" fill="#2a2a2a"/><rect x="132" y="529" width="176" height="1" fill="#282828"/><rect x="132" y="530" width="176" height="1" fill="#262626"/><rect x="132" y="531" width="176" height="1" fill="#292929"/><rect x="132" y="532" width="176" height="1" fill="#262626"/><rect x="132" y="533" width="176" height="1" fill="#292929"/><rect x="132" y="534" width="176" height="1" fill="#282828"/><rect x="132" y="535" width="176" height="1" fill="#292929"/><rect x="132" y="536" width="176" height="1" fill="#272727"/><rect x="132" y="537" width="176" height="1" fill="#2a2a2a"/><rect x="132" y="538" width="176" height="1" fill="#292929"/><rect x="132" y="539" width="176" height="1" fill="#272727"/><rect x="132" y="540" width="176" height="1" fill="#252525"/><rect x="132" y="541" width="176" height="1" fill="#262626"/><rect x="132" y="542" width="176" height="1" fill="#252525"/><rect x="132" y="543" width="176" height="1" fill="#282828"/><rect x="132" y="544" width="176" height="1" fill="#292929"/><rect x="132" y="545" width="176" height="1" fill="#292929"/><rect x="132" y="546" width="176" height="1" fill="#282828"/><rect x="132" y="547" width="176" height="1" fill="#272727"/><rect x="132" y="548" width="176" height="1" fill="#262626"/><rect x="132" y="549" width="176" height="1" fill="#292929"/><rect x="132" y="550" width="176" height="1" fill="#292929"/><rect x="132" y="551" width="176" height="1" fill="#292929"/><rect x="132" y="552" width="176" height="1" fill="#282828"/><rect x="132" y="553" width="176" height="1" fill="#292929"/><rect x="132" y="554" width="176" height="1" fill="#282828"/><rect x="132" y="555" width="176" height="1" fill="#262626"/><rect x="132" y="556" width="176" height="1" fill="#272727"/><rect x="132" y="557" width="176" height="1" fill="#262626"/><rect x="132" y="558" width="176" height="1" fill="#262626"/><rect x="132" y="559" width="176" height="1" fill="#2a2a2a"/><rect x="132" y="560" width="176" height="1" fill="#292929"/><rect x="132" y="561" width="176" height="1" fill="#282828"/><rect x="132" y="562" width="176" height="1" fill="#272727"/><rect x="132" y="563" width="176" height="1" fill="#272727"/><rect x="132" y="564" width="176" height="1" fill="#252525"/><rect x="132" y="565" width="176" height="1" fill="#272727"/><rect x="132" y="566" width="176" height="1" fill="#282828"/><rect x="132" y="567" width="176" height="1" fill="#272727"/><rect x="132" y="568" width="176" height="1" fill="#282828"/><rect x="132" y="569" width="176" height="1" fill="#2b2b2b"/><rect x="132" y="570" width="176" height="1" fill="#2a2a2a"/><rect x="132" y="571" width="176" height="1" fill="#252525"/><rect x="132" y="572" width="176" height="1" fill="#2a2a2a"/><rect x="132" y="573" width="176" height="1" fill="#292929"/><rect x="132" y="574" width="176" height="1" fill="#292929"/><rect x="132" y="575" width="176" height="1" fill="#292929"/><rect x="132" y="576" width="176" height="1" fill="#262626"/><rect x="132" y="577" width="176" height="1" fill="#252525"/><rect x="132" y="578" width="176" height="1" fill="#282828"/><rect x="132" y="579" width="176" height="1" fill="#2a2a2a"/><rect x="132" y="580" width="176" height="1" fill="#252525"/><rect x="132" y="581" width="176" height="1" fill="#252525"/><rect x="132" y="582" width="176" height="1" fill="#2a2a2a"/><rect x="132" y="583" width="176" height="1" fill="#2a2a2a"/><rect x="132" y="584" width="176" height="1" fill="#262626"/><rect x="132" y="585" width="176" height="1" fill="#2a2a2a"/><rect x="132" y="586" width="176" height="1" fill="#2a2a2a"/><rect x="132" y="587" width="176" height="1" fill="#2d2d2d"/><rect x="132" y="588" width="176" height="1" fill="#282828"/><rect x="132" y="589" width="176" height="1" fill="#2c2c2c"/><rect x="132" y="590" width="176" height="1" fill="#2a2a2a"/><rect x="132" y="591" width="176" height="1" fill="#2c2c2c"/><rect x="132" y="592" width="176" height="1" fill="#282828"/><rect x="132" y="593" width="176" height="1" fill="#2c2c2c"/><rect x="132" y="594" width="176" height="1" fill="#292929"/><rect x="132" y="595" width="176" height="1" fill="#2b2b2b"/><rect x="132" y="596" width="176" height="1" fill="#292929"/><rect x="132" y="597" width="176" height="1" fill="#2b2b2b"/><rect x="132" y="598" width="176" height="1" fill="#2b2b2b"/><rect x="132" y="603" width="176" height="1" fill="#2d2d2d"/><rect x="132" y="610" width="176" height="1" fill="#2c2c2c"/><rect x="132" y="611" width="176" height="1" fill="#2a2a2a"/><rect x="132" y="612" width="176" height="1" fill="#2c2c2c"/><rect x="132" y="613" width="176" height="1" fill="#2f2f2f"/><rect x="132" y="622" width="176" height="1" fill="#2c2c2c"/><rect x="132" y="639" width="176" height="1" fill="#2c2c2c"/><rect x="132" y="641" width="176" height="1" fill="#2e2e2e"/><rect x="132" y="642" width="176" height="1" fill="#2f2f2f"/><rect x="132" y="643" width="176" height="1" fill="#2e2e2e"/><rect x="132" y="644" width="176" height="1" fill="#2b2b2b"/><rect x="132" y="645" width="176" height="1" fill="#282828"/><rect x="132" y="646" width="176" height="1" fill="#2d2d2d"/><rect x="132" y="647" width="176" height="1" fill="#2b2b2b"/><rect x="132" y="648" width="176" height="1" fill="#2c2c2c"/><rect x="132" y="649" width="176" height="1" fill="#2c2c2c"/><rect x="132" y="650" width="176" height="1" fill="#2d2d2d"/><rect x="132" y="651" width="176" height="1" fill="#282828"/><rect x="132" y="652" width="176" height="1" fill="#282828"/><rect x="132" y="653" width="176" height="1" fill="#262626"/><rect x="132" y="654" width="176" height="1" fill="#252525"/><rect x="132" y="655" width="176" height="1" fill="#262626"/><rect x="132" y="656" width="176" height="1" fill="#262626"/><rect x="132" y="657" width="176" height="1" fill="#2b2b2b"/><rect x="132" y="658" width="176" height="1" fill="#292929"/><rect x="132" y="659" width="176" height="1" fill="#252525"/><rect x="132" y="660" width="176" height="1" fill="#272727"/><rect x="132" y="661" width="176" height="1" fill="#282828"/><rect x="132" y="662" width="176" height="1" fill="#2a2a2a"/><rect x="132" y="663" width="176" height="1" fill="#282828"/><rect x="132" y="664" width="176" height="1" fill="#292929"/><rect x="132" y="665" width="176" height="1" fill="#272727"/><rect x="132" y="666" width="176" height="1" fill="#272727"/><rect x="132" y="667" width="176" height="1" fill="#262626"/><rect x="132" y="668" width="176" height="1" fill="#2a2a2a"/><rect x="132" y="669" width="176" height="1" fill="#282828"/><rect x="132" y="670" width="176" height="1" fill="#2a2a2a"/><rect x="132" y="671" width="176" height="1" fill="#292929"/><rect x="132" y="672" width="176" height="1" fill="#262626"/><rect x="132" y="673" width="176" height="1" fill="#272727"/><rect x="132" y="674" width="176" height="1" fill="#272727"/><rect x="132" y="675" width="176" height="1" fill="#2a2a2a"/><rect x="132" y="676" width="176" height="1" fill="#272727"/><rect x="132" y="677" width="176" height="1" fill="#2b2b2b"/><rect x="132" y="678" width="176" height="1" fill="#2a2a2a"/><rect x="132" y="679" width="176" height="1" fill="#292929"/><rect x="132" y="680" width="176" height="1" fill="#282828"/><rect x="132" y="681" width="176" height="1" fill="#292929"/><rect x="132" y="682" width="176" height="1" fill="#272727"/><rect x="132" y="683" width="176" height="1" fill="#262626"/><rect x="132" y="684" width="176" height="1" fill="#2a2a2a"/><rect x="132" y="685" width="176" height="1" fill="#282828"/><rect x="132" y="686" width="176" height="1" fill="#2b2b2b"/><rect x="132" y="687" width="176" height="1" fill="#2a2a2a"/><rect x="132" y="688" width="176" height="1" fill="#292929"/><rect x="132" y="689" width="176" height="1" fill="#282828"/><rect x="132" y="690" width="176" height="1" fill="#292929"/><rect x="132" y="691" width="176" height="1" fill="#272727"/><rect x="132" y="692" width="176" height="1" fill="#272727"/><rect x="132" y="693" width="176" height="1" fill="#272727"/><rect x="132" y="694" width="176" height="1" fill="#2a2a2a"/><rect x="132" y="695" width="176" height="1" fill="#2b2b2b"/><rect x="132" y="696" width="176" height="1" fill="#262626"/><rect x="132" y="697" width="176" height="1" fill="#252525"/><rect x="132" y="698" width="176" height="1" fill="#272727"/><rect x="132" y="699" width="176" height="1" fill="#292929"/><rect x="132" y="700" width="176" height="1" fill="#282828"/><rect x="132" y="701" width="176" height="1" fill="#2a2a2a"/><rect x="132" y="702" width="176" height="1" fill="#2b2b2b"/><rect x="132" y="703" width="176" height="1" fill="#292929"/><rect x="132" y="704" width="176" height="1" fill="#292929"/><rect x="132" y="705" width="176" height="1" fill="#262626"/><rect x="132" y="706" width="176" height="1" fill="#292929"/><rect x="132" y="707" width="176" height="1" fill="#292929"/><rect x="132" y="708" width="176" height="1" fill="#262626"/><rect x="132" y="709" width="176" height="1" fill="#252525"/><rect x="132" y="710" width="176" height="1" fill="#292929"/><rect x="132" y="711" width="176" height="1" fill="#2b2b2b"/><rect x="132" y="712" width="176" height="1" fill="#292929"/><rect x="132" y="713" width="176" height="1" fill="#262626"/><rect x="132" y="714" width="176" height="1" fill="#2b2b2b"/><rect x="132" y="715" width="176" height="1" fill="#272727"/><rect x="132" y="716" width="176" height="1" fill="#272727"/><rect x="132" y="717" width="176" height="1" fill="#2a2a2a"/><rect x="132" y="718" width="176" height="1" fill="#2a2a2a"/><rect x="132" y="719" width="176" height="1" fill="#2b2b2b"/></g>
<g filter="url(#nr0)"><rect x="243.85" y="82" width="11.30" height="1" fill="#4c4c4c"/><rect x="257.45" y="82" width="11.60" height="1" fill="#4c4c4c"/><rect x="271.15" y="82" width="11.80" height="1" fill="#4c4c4c"/><rect x="284.95" y="82" width="11.80" height="1" fill="#4c4c4c"/><rect x="243.85" y="84" width="11.30" height="8" fill="#474747"/><rect x="257.45" y="84" width="11.60" height="8" fill="#474747"/><rect x="271.15" y="84" width="11.80" height="8" fill="#474747"/><rect x="284.95" y="84" width="11.80" height="8" fill="#474747"/><rect x="243.85" y="93" width="11.30" height="5" fill="#424242"/><rect x="257.45" y="93" width="11.60" height="5" fill="#424242"/><rect x="271.15" y="93" width="11.80" height="5" fill="#424242"/><rect x="284.95" y="93" width="11.80" height="5" fill="#424242"/><rect x="243.85" y="99" width="11.30" height="7" fill="#474747"/><rect x="257.45" y="99" width="11.60" height="7" fill="#474747"/><rect x="271.15" y="99" width="11.80" height="7" fill="#474747"/><rect x="284.95" y="99" width="11.80" height="7" fill="#474747"/><rect x="243.85" y="107" width="11.30" height="6" fill="#454545"/><rect x="257.45" y="107" width="11.60" height="6" fill="#454545"/><rect x="271.15" y="107" width="11.80" height="6" fill="#454545"/><rect x="284.95" y="107" width="11.80" height="6" fill="#454545"/><rect x="243.85" y="114" width="11.30" height="4" fill="#3b3b3b"/><rect x="257.45" y="114" width="11.60" height="4" fill="#3b3b3b"/><rect x="271.15" y="114" width="11.80" height="4" fill="#3b3b3b"/><rect x="284.95" y="114" width="11.80" height="4" fill="#3b3b3b"/><rect x="243.85" y="121" width="11.30" height="14" fill="#474747"/><rect x="257.45" y="121" width="11.60" height="14" fill="#474747"/><rect x="271.15" y="121" width="11.80" height="14" fill="#474747"/><rect x="284.95" y="121" width="11.80" height="14" fill="#474747"/><rect x="243.85" y="143" width="11.30" height="6" fill="#404040"/><rect x="257.45" y="143" width="11.60" height="6" fill="#404040"/><rect x="271.15" y="143" width="11.80" height="6" fill="#404040"/><rect x="284.95" y="143" width="11.80" height="6" fill="#404040"/><rect x="243.85" y="152" width="11.30" height="9" fill="#383838"/><rect x="257.45" y="152" width="11.60" height="9" fill="#383838"/><rect x="271.15" y="152" width="11.80" height="9" fill="#383838"/><rect x="284.95" y="152" width="11.80" height="9" fill="#383838"/><rect x="243.85" y="162" width="11.30" height="5" fill="#333333"/><rect x="257.45" y="162" width="11.60" height="5" fill="#333333"/><rect x="271.15" y="162" width="11.80" height="5" fill="#333333"/><rect x="284.95" y="162" width="11.80" height="5" fill="#333333"/><rect x="243.85" y="173" width="11.30" height="1" fill="#9e9e9e"/><rect x="257.45" y="173" width="11.60" height="1" fill="#9e9e9e"/><rect x="271.15" y="173" width="11.80" height="1" fill="#9e9e9e"/><rect x="284.95" y="173" width="11.80" height="1" fill="#9e9e9e"/><rect x="243.85" y="174" width="11.30" height="3" fill="#6b6b6b"/><rect x="257.45" y="174" width="11.60" height="3" fill="#6b6b6b"/><rect x="271.15" y="174" width="11.80" height="3" fill="#6b6b6b"/><rect x="284.95" y="174" width="11.80" height="3" fill="#6b6b6b"/><rect x="243.85" y="178" width="11.30" height="1" fill="#949494"/><rect x="257.45" y="178" width="11.60" height="1" fill="#949494"/><rect x="271.15" y="178" width="11.80" height="1" fill="#949494"/><rect x="284.95" y="178" width="11.80" height="1" fill="#949494"/><rect x="243.85" y="179" width="11.30" height="5" fill="#666666"/><rect x="257.45" y="179" width="11.60" height="5" fill="#666666"/><rect x="271.15" y="179" width="11.80" height="5" fill="#666666"/><rect x="284.95" y="179" width="11.80" height="5" fill="#666666"/><rect x="243.85" y="185" width="11.30" height="4" fill="#6b6b6b"/><rect x="257.45" y="185" width="11.60" height="4" fill="#6b6b6b"/><rect x="271.15" y="185" width="11.80" height="4" fill="#6b6b6b"/><rect x="284.95" y="185" width="11.80" height="4" fill="#6b6b6b"/><rect x="243.85" y="190" width="11.30" height="6" fill="#6b6b6b"/><rect x="257.45" y="190" width="11.60" height="6" fill="#6b6b6b"/><rect x="271.15" y="190" width="11.80" height="6" fill="#6b6b6b"/><rect x="284.95" y="190" width="11.80" height="6" fill="#6b6b6b"/><rect x="243.85" y="204" width="11.30" height="1" fill="#4c4c4c"/><rect x="257.45" y="204" width="11.60" height="1" fill="#4c4c4c"/><rect x="271.15" y="204" width="11.80" height="1" fill="#4c4c4c"/><rect x="284.95" y="204" width="11.80" height="1" fill="#4c4c4c"/><rect x="243.85" y="206" width="11.30" height="5" fill="#5c5c5c"/><rect x="257.45" y="206" width="11.60" height="5" fill="#5c5c5c"/><rect x="271.15" y="206" width="11.80" height="5" fill="#5c5c5c"/><rect x="284.95" y="206" width="11.80" height="5" fill="#5c5c5c"/><rect x="243.85" y="212" width="11.30" height="4" fill="#575757"/><rect x="257.45" y="212" width="11.60" height="4" fill="#575757"/><rect x="271.15" y="212" width="11.80" height="4" fill="#575757"/><rect x="284.95" y="212" width="11.80" height="4" fill="#575757"/><rect x="243.85" y="219" width="11.30" height="12" fill="#404040"/><rect x="257.45" y="219" width="11.60" height="12" fill="#404040"/><rect x="271.15" y="219" width="11.80" height="12" fill="#404040"/><rect x="284.95" y="219" width="11.80" height="12" fill="#404040"/><rect x="243.85" y="238" width="11.30" height="80" fill="#444444"/><rect x="257.45" y="238" width="11.60" height="80" fill="#444444"/><rect x="271.15" y="238" width="11.80" height="80" fill="#444444"/><rect x="284.95" y="238" width="11.80" height="80" fill="#444444"/><rect x="243.85" y="321" width="11.30" height="158" fill="#3e3e3e"/><rect x="257.45" y="321" width="11.60" height="158" fill="#3e3e3e"/><rect x="271.15" y="321" width="11.80" height="158" fill="#3e3e3e"/><rect x="284.95" y="321" width="11.80" height="158" fill="#3e3e3e"/><rect x="243.85" y="479" width="11.30" height="5" fill="#333333"/><rect x="257.45" y="479" width="11.60" height="5" fill="#333333"/><rect x="271.15" y="479" width="11.80" height="5" fill="#333333"/><rect x="284.95" y="479" width="11.80" height="5" fill="#333333"/><rect x="243.85" y="484" width="11.30" height="2" fill="#545454"/><rect x="257.45" y="484" width="11.60" height="2" fill="#545454"/><rect x="271.15" y="484" width="11.80" height="2" fill="#545454"/><rect x="284.95" y="484" width="11.80" height="2" fill="#545454"/><rect x="243.85" y="490" width="11.30" height="1" fill="#4c4c4c"/><rect x="257.45" y="490" width="11.60" height="1" fill="#4c4c4c"/><rect x="271.15" y="490" width="11.80" height="1" fill="#4c4c4c"/><rect x="284.95" y="490" width="11.80" height="1" fill="#4c4c4c"/><rect x="243.85" y="494" width="11.30" height="2" fill="#6e6e6e"/><rect x="257.45" y="494" width="11.60" height="2" fill="#6e6e6e"/><rect x="271.15" y="494" width="11.80" height="2" fill="#6e6e6e"/><rect x="284.95" y="494" width="11.80" height="2" fill="#6e6e6e"/><rect x="243.85" y="497" width="11.30" height="1" fill="#6e6e6e"/><rect x="257.45" y="497" width="11.60" height="1" fill="#6e6e6e"/><rect x="271.15" y="497" width="11.80" height="1" fill="#6e6e6e"/><rect x="284.95" y="497" width="11.80" height="1" fill="#6e6e6e"/><rect x="243.85" y="499" width="11.30" height="2" fill="#6e6e6e"/><rect x="257.45" y="499" width="11.60" height="2" fill="#6e6e6e"/><rect x="271.15" y="499" width="11.80" height="2" fill="#6e6e6e"/><rect x="284.95" y="499" width="11.80" height="2" fill="#6e6e6e"/><rect x="243.85" y="505" width="11.30" height="3" fill="#808080"/><rect x="257.45" y="505" width="11.60" height="3" fill="#808080"/><rect x="271.15" y="505" width="11.80" height="3" fill="#808080"/><rect x="284.95" y="505" width="11.80" height="3" fill="#808080"/><rect x="243.85" y="509" width="11.30" height="2" fill="#808080"/><rect x="257.45" y="509" width="11.60" height="2" fill="#808080"/><rect x="271.15" y="509" width="11.80" height="2" fill="#808080"/><rect x="284.95" y="509" width="11.80" height="2" fill="#808080"/><rect x="243.85" y="518" width="11.30" height="3" fill="#616161"/><rect x="257.45" y="518" width="11.60" height="3" fill="#616161"/><rect x="271.15" y="518" width="11.80" height="3" fill="#616161"/><rect x="284.95" y="518" width="11.80" height="3" fill="#616161"/><rect x="243.85" y="524" width="11.30" height="3" fill="#4c4c4c"/><rect x="257.45" y="524" width="11.60" height="3" fill="#4c4c4c"/><rect x="271.15" y="524" width="11.80" height="3" fill="#4c4c4c"/><rect x="284.95" y="524" width="11.80" height="3" fill="#4c4c4c"/><rect x="243.85" y="530" width="11.30" height="5" fill="#5e5e5e"/><rect x="257.45" y="530" width="11.60" height="5" fill="#5e5e5e"/><rect x="271.15" y="530" width="11.80" height="5" fill="#5e5e5e"/><rect x="284.95" y="530" width="11.80" height="5" fill="#5e5e5e"/><rect x="243.85" y="536" width="11.30" height="3" fill="#4c4c4c"/><rect x="257.45" y="536" width="11.60" height="3" fill="#4c4c4c"/><rect x="271.15" y="536" width="11.80" height="3" fill="#4c4c4c"/><rect x="284.95" y="536" width="11.80" height="3" fill="#4c4c4c"/><rect x="243.85" y="544" width="11.30" height="8" fill="#4c4c4c"/><rect x="257.45" y="544" width="11.60" height="8" fill="#4c4c4c"/><rect x="271.15" y="544" width="11.80" height="8" fill="#4c4c4c"/><rect x="284.95" y="544" width="11.80" height="8" fill="#4c4c4c"/><rect x="243.85" y="553" width="11.30" height="5" fill="#4a4a4a"/><rect x="257.45" y="553" width="11.60" height="5" fill="#4a4a4a"/><rect x="271.15" y="553" width="11.80" height="5" fill="#4a4a4a"/><rect x="284.95" y="553" width="11.80" height="5" fill="#4a4a4a"/><rect x="243.85" y="560" width="11.30" height="24" fill="#3b3b3b"/><rect x="257.45" y="560" width="11.60" height="24" fill="#3b3b3b"/><rect x="271.15" y="560" width="11.80" height="24" fill="#3b3b3b"/><rect x="284.95" y="560" width="11.80" height="24" fill="#3b3b3b"/><rect x="243.85" y="586" width="11.30" height="12" fill="#424242"/><rect x="257.45" y="586" width="11.60" height="12" fill="#424242"/><rect x="271.15" y="586" width="11.80" height="12" fill="#424242"/><rect x="284.95" y="586" width="11.80" height="12" fill="#424242"/><rect x="243.85" y="599" width="11.30" height="12" fill="#4a4a4a"/><rect x="257.45" y="599" width="11.60" height="12" fill="#4a4a4a"/><rect x="271.15" y="599" width="11.80" height="12" fill="#4a4a4a"/><rect x="284.95" y="599" width="11.80" height="12" fill="#4a4a4a"/><rect x="243.85" y="614" width="11.30" height="25" fill="#444444"/><rect x="257.45" y="614" width="11.60" height="25" fill="#444444"/><rect x="271.15" y="614" width="11.80" height="25" fill="#444444"/><rect x="284.95" y="614" width="11.80" height="25" fill="#444444"/><rect x="243.85" y="640" width="11.30" height="11" fill="#2e2e2e"/><rect x="257.45" y="640" width="11.60" height="11" fill="#2e2e2e"/><rect x="271.15" y="640" width="11.80" height="11" fill="#2e2e2e"/><rect x="284.95" y="640" width="11.80" height="11" fill="#2e2e2e"/><rect x="249.25" y="614" width="58.90" height="25" fill="#434343"/></g>
<rect x="132" y="81" width="176" height="1" fill="#000"/><rect x="132" y="83" width="176" height="1" fill="#000"/><rect x="132" y="92" width="176" height="1" fill="#000"/><rect x="132" y="96" width="176" height="1" fill="#000"/><rect x="132" y="98" width="176" height="1" fill="#000"/><rect x="132" y="106" width="176" height="1" fill="#000"/><rect x="132" y="113" width="176" height="1" fill="#000"/><rect x="132" y="118" width="176" height="1" fill="#000"/><rect x="132" y="119" width="176" height="2" fill="#fff"/><rect x="132" y="124" width="176" height="1" fill="#000"/><rect x="132" y="127" width="176" height="1" fill="#000"/><rect x="132" y="136" width="176" height="2" fill="#fff"/><rect x="132" y="138" width="176" height="1" fill="#000"/><rect x="132" y="139" width="176" height="2" fill="#fff"/><rect x="132" y="142" width="176" height="1" fill="#fff"/><rect x="132" y="149" width="176" height="1" fill="#000"/><rect x="132" y="150" width="176" height="2" fill="#fff"/><rect x="132" y="161" width="176" height="1" fill="#000"/><rect x="132" y="165" width="176" height="1" fill="#000"/><rect x="132" y="167" width="176" height="1" fill="#000"/><rect x="132" y="170" width="176" height="3" fill="#000"/><rect x="132" y="177" width="176" height="1" fill="#000"/><rect x="132" y="184" width="176" height="1" fill="#000"/><rect x="132" y="189" width="176" height="1" fill="#000"/><rect x="132" y="196" width="176" height="1" fill="#000"/><rect x="132" y="197" width="176" height="1" fill="#fff"/><rect x="132" y="199" width="176" height="4" fill="#fff"/><rect x="132" y="203" width="176" height="1" fill="#000"/><rect x="132" y="205" width="176" height="1" fill="#000"/><rect x="132" y="211" width="176" height="1" fill="#000"/><rect x="132" y="216" width="176" height="1" fill="#000"/><rect x="132" y="217" width="176" height="2" fill="#fff"/><rect x="132" y="221" width="176" height="1" fill="#fff"/><rect x="132" y="223" width="176" height="3" fill="#fff"/><rect x="132" y="231" width="176" height="1" fill="#000"/><rect x="132" y="232" width="176" height="6" fill="#fff"/><rect x="132" y="240" width="176" height="1" fill="#fff"/><rect x="132" y="244" width="176" height="1" fill="#000"/><rect x="132" y="245" width="176" height="2" fill="#fff"/><rect x="132" y="249" width="176" height="1" fill="#fff"/><rect x="132" y="252" width="176" height="1" fill="#fff"/><rect x="132" y="260" width="176" height="1" fill="#fff"/><rect x="132" y="261" width="176" height="1" fill="#000"/><rect x="132" y="264" width="176" height="1" fill="#fff"/><rect x="132" y="267" width="176" height="2" fill="#000"/><rect x="132" y="269" width="176" height="2" fill="#fff"/><rect x="132" y="275" width="176" height="1" fill="#000"/><rect x="132" y="280" width="176" height="1" fill="#000"/><rect x="132" y="282" width="176" height="1" fill="#000"/><rect x="132" y="285" width="176" height="1" fill="#000"/><rect x="132" y="287" width="176" height="1" fill="#000"/><rect x="132" y="292" width="176" height="1" fill="#000"/><rect x="132" y="295" width="176" height="2" fill="#000"/><rect x="132" y="300" width="176" height="1" fill="#000"/><rect x="132" y="301" width="176" height="1" fill="#fff"/><rect x="132" y="303" width="176" height="2" fill="#fff"/><rect x="132" y="307" width="176" height="1" fill="#fff"/><rect x="132" y="313" width="176" height="1" fill="#000"/><rect x="132" y="318" width="176" height="3" fill="#fff"/><rect x="132" y="330" width="176" height="1" fill="#fff"/><rect x="132" y="333" width="176" height="1" fill="#000"/><rect x="132" y="340" width="176" height="3" fill="#fff"/><rect x="132" y="345" width="176" height="1" fill="#fff"/><rect x="132" y="348" width="176" height="1" fill="#000"/><rect x="132" y="351" width="176" height="2" fill="#000"/><rect x="132" y="358" width="176" height="2" fill="#000"/><rect x="132" y="366" width="176" height="1" fill="#000"/><rect x="132" y="367" width="176" height="1" fill="#fff"/><rect x="132" y="371" width="176" height="1" fill="#fff"/><rect x="132" y="375" width="176" height="1" fill="#fff"/><rect x="132" y="376" width="176" height="2" fill="#000"/><rect x="132" y="379" width="176" height="1" fill="#000"/><rect x="132" y="381" width="176" height="3" fill="#000"/><rect x="132" y="384" width="176" height="1" fill="#fff"/><rect x="132" y="388" width="176" height="1" fill="#000"/><rect x="132" y="390" width="176" height="1" fill="#000"/><rect x="132" y="391" width="176" height="1" fill="#fff"/><rect x="132" y="392" width="176" height="1" fill="#000"/><rect x="132" y="405" width="176" height="1" fill="#fff"/><rect x="132" y="406" width="176" height="2" fill="#000"/><rect x="132" y="414" width="176" height="1" fill="#fff"/><rect x="132" y="415" width="176" height="2" fill="#000"/><rect x="132" y="424" width="176" height="1" fill="#000"/><rect x="132" y="426" width="176" height="1" fill="#000"/><rect x="132" y="432" width="176" height="1" fill="#000"/><rect x="132" y="435" width="176" height="1" fill="#000"/><rect x="132" y="441" width="176" height="1" fill="#000"/><rect x="132" y="445" width="176" height="4" fill="#fff"/><rect x="132" y="449" width="176" height="2" fill="#000"/><rect x="132" y="457" width="176" height="1" fill="#000"/><rect x="132" y="461" width="176" height="1" fill="#000"/><rect x="132" y="464" width="176" height="2" fill="#000"/><rect x="132" y="468" width="176" height="1" fill="#000"/><rect x="132" y="472" width="176" height="1" fill="#000"/><rect x="132" y="476" width="176" height="1" fill="#000"/><rect x="132" y="478" width="176" height="1" fill="#000"/><rect x="132" y="481" width="176" height="1" fill="#000"/><rect x="132" y="483" width="176" height="1" fill="#000"/><rect x="132" y="486" width="176" height="3" fill="#000"/><rect x="132" y="489" width="176" height="1" fill="#fff"/><rect x="132" y="491" width="176" height="2" fill="#fff"/><rect x="132" y="493" width="176" height="1" fill="#000"/><rect x="132" y="496" width="176" height="1" fill="#000"/><rect x="132" y="498" width="176" height="1" fill="#000"/><rect x="132" y="501" width="176" height="2" fill="#000"/><rect x="132" y="503" width="176" height="1" fill="#fff"/><rect x="132" y="504" width="176" height="1" fill="#000"/><rect x="132" y="508" width="176" height="1" fill="#000"/><rect x="132" y="511" width="176" height="6" fill="#fff"/><rect x="132" y="517" width="176" height="1" fill="#000"/><rect x="132" y="521" width="176" height="1" fill="#000"/><rect x="132" y="522" width="176" height="1" fill="#fff"/><rect x="132" y="523" width="176" height="1" fill="#000"/><rect x="132" y="527" width="176" height="2" fill="#000"/><rect x="132" y="529" width="176" height="1" fill="#fff"/><rect x="132" y="535" width="176" height="1" fill="#fff"/><rect x="132" y="539" width="176" height="2" fill="#000"/><rect x="132" y="541" width="176" height="1" fill="#fff"/><rect x="132" y="542" width="176" height="2" fill="#000"/><rect x="132" y="546" width="176" height="1" fill="#fff"/><rect x="132" y="552" width="176" height="1" fill="#000"/><rect x="132" y="555" width="176" height="1" fill="#000"/><rect x="132" y="558" width="176" height="2" fill="#000"/><rect x="132" y="563" width="176" height="1" fill="#000"/><rect x="132" y="566" width="176" height="1" fill="#000"/><rect x="132" y="569" width="176" height="4" fill="#000"/><rect x="132" y="574" width="176" height="4" fill="#000"/><rect x="132" y="579" width="176" height="1" fill="#000"/><rect x="132" y="583" width="176" height="3" fill="#000"/><rect x="132" y="592" width="176" height="1" fill="#fff"/><rect x="132" y="598" width="176" height="1" fill="#000"/><rect x="132" y="603" width="176" height="1" fill="#fff"/><rect x="132" y="610" width="176" height="2" fill="#000"/><rect x="132" y="612" width="176" height="2" fill="#fff"/><rect x="132" y="622" width="176" height="1" fill="#fff"/><rect x="132" y="637" width="176" height="1" fill="#000"/><rect x="132" y="639" width="176" height="1" fill="#fff"/><rect x="132" y="641" width="176" height="2" fill="#fff"/><rect x="132" y="650" width="176" height="2" fill="#000"/><rect x="132" y="653" width="176" height="3" fill="#000"/><rect x="132" y="659" width="176" height="1" fill="#000"/><rect x="132" y="662" width="176" height="2" fill="#000"/><rect x="132" y="664" width="176" height="1" fill="#fff"/><rect x="132" y="665" width="176" height="3" fill="#000"/><rect x="132" y="669" width="176" height="1" fill="#000"/><rect x="132" y="673" width="176" height="2" fill="#000"/><rect x="132" y="676" width="176" height="4" fill="#000"/><rect x="132" y="680" width="176" height="1" fill="#fff"/><rect x="132" y="681" width="176" height="2" fill="#000"/><rect x="132" y="684" width="176" height="3" fill="#000"/><rect x="132" y="688" width="176" height="3" fill="#000"/><rect x="132" y="695" width="176" height="3" fill="#000"/><rect x="132" y="699" width="176" height="1" fill="#000"/><rect x="132" y="701" width="176" height="1" fill="#000"/><rect x="132" y="705" width="176" height="2" fill="#000"/><rect x="132" y="707" width="176" height="1" fill="#fff"/><rect x="132" y="708" width="176" height="6" fill="#000"/><rect x="132" y="717" width="176" height="1" fill="#000"/>
<rect x="131.5" y="80.5" width="177" height="640" fill="none" stroke="#000" stroke-width="1"/>
<g filter="url(#ns1)"><rect x="345" y="82" width="175" height="1" fill="#545454"/><rect x="345" y="84" width="175" height="1" fill="#414141"/><rect x="345" y="85" width="175" height="1" fill="#515151"/><rect x="345" y="86" width="175" height="1" fill="#585858"/><rect x="345" y="87" width="175" height="1" fill="#575757"/><rect x="345" y="88" width="175" height="1" fill="#575757"/><rect x="345" y="89" width="175" height="1" fill="#595959"/><rect x="345" y="90" width="175" height="1" fill="#424242"/><rect x="345" y="91" width="175" height="1" fill="#444444"/><rect x="345" y="102" width="175" height="1" fill="#4d4d4d"/><rect x="345" y="103" width="175" height="1" fill="#4e4e4e"/><rect x="345" y="104" width="175" height="1" fill="#545454"/><rect x="345" y="105" width="175" height="1" fill="#4d4d4d"/><rect x="345" y="110" width="175" height="1" fill="#515151"/><rect x="345" y="111" width="175" height="1" fill="#4e4e4e"/><rect x="345" y="114" width="175" height="1" fill="#3e3e3e"/><rect x="345" y="115" width="175" height="1" fill="#474747"/><rect x="345" y="116" width="175" height="1" fill="#575757"/><rect x="345" y="117" width="175" height="1" fill="#4f4f4f"/><rect x="345" y="121" width="175" height="1" fill="#4d4d4d"/><rect x="345" y="122" width="175" height="1" fill="#4f4f4f"/><rect x="345" y="123" width="175" height="1" fill="#4f4f4f"/><rect x="345" y="125" width="175" height="1" fill="#515151"/><rect x="345" y="126" width="175" height="1" fill="#555555"/><rect x="345" y="128" width="175" height="1" fill="#434343"/><rect x="345" y="129" width="175" height="1" fill="#434343"/><rect x="345" y="130" width="175" height="1" fill="#515151"/><rect x="345" y="131" width="175" height="1" fill="#4a4a4a"/><rect x="345" y="132" width="175" height="1" fill="#4e4e4e"/><rect x="345" y="133" width="175" height="1" fill="#515151"/><rect x="345" y="134" width="175" height="1" fill="#3d3d3d"/><rect x="345" y="141" width="175" height="1" fill="#575757"/><rect x="345" y="143" width="175" height="1" fill="#515151"/><rect x="345" y="144" width="175" height="1" fill="#4d4d4d"/><rect x="345" y="145" width="175" height="1" fill="#4d4d4d"/><rect x="345" y="146" width="175" height="1" fill="#484848"/><rect x="345" y="147" width="175" height="1" fill="#4b4b4b"/><rect x="345" y="148" width="175" height="1" fill="#4d4d4d"/><rect x="345" y="168" width="175" height="1" fill="#505050"/><rect x="345" y="169" width="175" height="1" fill="#4f4f4f"/><rect x="345" y="226" width="175" height="1" fill="#464646"/><rect x="345" y="227" width="175" height="1" fill="#444444"/><rect x="345" y="228" width="175" height="1" fill="#474747"/><rect x="345" y="229" width="175" height="1" fill="#484848"/><rect x="345" y="230" width="175" height="1" fill="#484848"/><rect x="345" y="297" width="175" height="1" fill="#424242"/><rect x="345" y="298" width="175" height="1" fill="#3c3c3c"/><rect x="345" y="299" width="175" height="1" fill="#424242"/><rect x="345" y="314" width="175" height="1" fill="#424242"/><rect x="345" y="315" width="175" height="1" fill="#414141"/><rect x="345" y="316" width="175" height="1" fill="#494949"/><rect x="345" y="317" width="175" height="1" fill="#444444"/><rect x="345" y="334" width="175" height="1" fill="#444444"/><rect x="345" y="335" width="175" height="1" fill="#4b4b4b"/><rect x="345" y="336" width="175" height="1" fill="#494949"/><rect x="345" y="337" width="175" height="1" fill="#4a4a4a"/><rect x="345" y="338" width="175" height="1" fill="#494949"/><rect x="345" y="339" width="175" height="1" fill="#454545"/><rect x="345" y="441" width="175" height="1" fill="#4c4c4c"/><rect x="345" y="442" width="175" height="1" fill="#434343"/><rect x="345" y="443" width="175" height="1" fill="#494949"/><rect x="345" y="444" width="175" height="1" fill="#4c4c4c"/><rect x="345" y="599" width="175" height="1" fill="#525252"/><rect x="345" y="600" width="175" height="1" fill="#505050"/><rect x="345" y="601" width="175" height="1" fill="#525252"/><rect x="345" y="602" width="175" height="1" fill="#565656"/><rect x="345" y="603" width="175" height="1" fill="#545454"/><rect x="345" y="604" width="175" height="1" fill="#565656"/><rect x="345" y="605" width="175" height="1" fill="#515151"/><rect x="345" y="606" width="175" height="1" fill="#4e4e4e"/><rect x="345" y="607" width="175" height="1" fill="#4f4f4f"/><rect x="345" y="608" width="175" height="1" fill="#4f4f4f"/><rect x="345" y="609" width="175" height="1" fill="#545454"/><rect x="345" y="614" width="175" height="1" fill="#4c4c4c"/><rect x="345" y="615" width="175" height="1" fill="#535353"/><rect x="345" y="616" width="175" height="1" fill="#545454"/><rect x="345" y="617" width="175" height="1" fill="#4b4b4b"/><rect x="345" y="618" width="175" height="1" fill="#525252"/><rect x="345" y="619" width="175" height="1" fill="#545454"/><rect x="345" y="620" width="175" height="1" fill="#4d4d4d"/><rect x="345" y="621" width="175" height="1" fill="#4e4e4e"/><rect x="345" y="622" width="175" height="1" fill="#4c4c4c"/><rect x="345" y="623" width="175" height="1" fill="#4c4c4c"/><rect x="345" y="624" width="175" height="1" fill="#525252"/><rect x="345" y="625" width="175" height="1" fill="#4e4e4e"/><rect x="345" y="626" width="175" height="1" fill="#4d4d4d"/><rect x="345" y="627" width="175" height="1" fill="#4e4e4e"/><rect x="345" y="628" width="175" height="1" fill="#535353"/><rect x="345" y="629" width="175" height="1" fill="#545454"/><rect x="345" y="630" width="175" height="1" fill="#4d4d4d"/><rect x="345" y="631" width="175" height="1" fill="#4d4d4d"/><rect x="345" y="632" width="175" height="1" fill="#4d4d4d"/><rect x="345" y="633" width="175" height="1" fill="#525252"/><rect x="345" y="634" width="175" height="1" fill="#535353"/><rect x="345" y="635" width="175" height="1" fill="#4c4c4c"/><rect x="345" y="636" width="175" height="1" fill="#4b4b4b"/><rect x="345" y="637" width="175" height="1" fill="#4d4d4d"/><rect x="345" y="638" width="175" height="1" fill="#525252"/><rect x="345" y="640" width="175" height="1" fill="#515151"/></g>
<g filter="url(#nz1)"><rect x="345" y="81" width="175" height="1" fill="#2f2f2f"/><rect x="345" y="83" width="175" height="1" fill="#2b2b2b"/><rect x="345" y="92" width="175" height="1" fill="#2c2c2c"/><rect x="345" y="93" width="175" height="1" fill="#3b3b3b"/><rect x="345" y="94" width="175" height="1" fill="#3d3d3d"/><rect x="345" y="95" width="175" height="1" fill="#404040"/><rect x="345" y="96" width="175" height="1" fill="#3e3e3e"/><rect x="345" y="97" width="175" height="1" fill="#3c3c3c"/><rect x="345" y="98" width="175" height="1" fill="#2a2a2a"/><rect x="345" y="99" width="175" height="1" fill="#3b3b3b"/><rect x="345" y="100" width="175" height="1" fill="#3b3b3b"/><rect x="345" y="101" width="175" height="1" fill="#3e3e3e"/><rect x="345" y="106" width="175" height="1" fill="#2e2e2e"/><rect x="345" y="107" width="175" height="1" fill="#3c3c3c"/><rect x="345" y="108" width="175" height="1" fill="#3c3c3c"/><rect x="345" y="109" width="175" height="1" fill="#3d3d3d"/><rect x="345" y="112" width="175" height="1" fill="#3e3e3e"/><rect x="345" y="113" width="175" height="1" fill="#2d2d2d"/><rect x="345" y="118" width="175" height="1" fill="#2c2c2c"/><rect x="345" y="119" width="175" height="1" fill="#2e2e2e"/><rect x="345" y="120" width="175" height="1" fill="#2d2d2d"/><rect x="345" y="124" width="175" height="1" fill="#2b2b2b"/><rect x="345" y="127" width="175" height="1" fill="#2f2f2f"/><rect x="345" y="135" width="175" height="1" fill="#2a2a2a"/><rect x="345" y="136" width="175" height="1" fill="#2d2d2d"/><rect x="345" y="137" width="175" height="1" fill="#2e2e2e"/><rect x="345" y="138" width="175" height="1" fill="#303030"/><rect x="345" y="139" width="175" height="1" fill="#2e2e2e"/><rect x="345" y="140" width="175" height="1" fill="#2c2c2c"/><rect x="345" y="142" width="175" height="1" fill="#2e2e2e"/><rect x="345" y="149" width="175" height="1" fill="#2e2e2e"/><rect x="345" y="150" width="175" height="1" fill="#2c2c2c"/><rect x="345" y="151" width="175" height="1" fill="#2f2f2f"/><rect x="345" y="152" width="175" height="1" fill="#2d2d2d"/><rect x="345" y="153" width="175" height="1" fill="#2d2d2d"/><rect x="345" y="154" width="175" height="1" fill="#2b2b2b"/><rect x="345" y="155" width="175" height="1" fill="#2e2e2e"/><rect x="345" y="156" width="175" height="1" fill="#2a2a2a"/><rect x="345" y="157" width="175" height="1" fill="#2c2c2c"/><rect x="345" y="158" width="175" height="1" fill="#2f2f2f"/><rect x="345" y="159" width="175" height="1" fill="#2f2f2f"/><rect x="345" y="160" width="175" height="1" fill="#2f2f2f"/><rect x="345" y="161" width="175" height="1" fill="#2b2b2b"/><rect x="345" y="162" width="175" height="1" fill="#2f2f2f"/><rect x="345" y="163" width="175" height="1" fill="#2c2c2c"/><rect x="345" y="164" width="175" height="1" fill="#2b2b2b"/><rect x="345" y="165" width="175" height="1" fill="#2f2f2f"/><rect x="345" y="166" width="175" height="1" fill="#2f2f2f"/><rect x="345" y="167" width="175" height="1" fill="#303030"/><rect x="345" y="170" width="175" height="1" fill="#2f2f2f"/><rect x="345" y="171" width="175" height="1" fill="#2e2e2e"/><rect x="345" y="172" width="175" height="1" fill="#2f2f2f"/><rect x="345" y="173" width="175" height="1" fill="#2e2e2e"/><rect x="345" y="174" width="175" height="1" fill="#303030"/><rect x="345" y="175" width="175" height="1" fill="#2e2e2e"/><rect x="345" y="176" width="175" height="1" fill="#2f2f2f"/><rect x="345" y="177" width="175" height="1" fill="#2f2f2f"/><rect x="345" y="178" width="175" height="1" fill="#2c2c2c"/><rect x="345" y="179" width="175" height="1" fill="#2f2f2f"/><rect x="345" y="180" width="175" height="1" fill="#2c2c2c"/><rect x="345" y="181" width="175" height="1" fill="#2f2f2f"/><rect x="345" y="182" width="175" height="1" fill="#2d2d2d"/><rect x="345" y="183" width="175" height="1" fill="#2d2d2d"/><rect x="345" y="184" width="175" height="1" fill="#2a2a2a"/><rect x="345" y="185" width="175" height="1" fill="#2c2c2c"/><rect x="345" y="186" width="175" height="1" fill="#2b2b2b"/><rect x="345" y="187" width="175" height="1" fill="#2a2a2a"/><rect x="345" y="188" width="175" height="1" fill="#2b2b2b"/><rect x="345" y="189" width="175" height="1" fill="#2b2b2b"/><rect x="345" y="190" width="175" height="1" fill="#2a2a2a"/><rect x="345" y="191" width="175" height="1" fill="#2b2b2b"/><rect x="345" y="192" width="175" height="1" fill="#2f2f2f"/><rect x="345" y="193" width="175" height="1" fill="#2b2b2b"/><rect x="345" y="194" width="175" height="1" fill="#2e2e2e"/><rect x="345" y="195" width="175" height="1" fill="#303030"/><rect x="345" y="196" width="175" height="1" fill="#2a2a2a"/><rect x="345" y="197" width="175" height="1" fill="#2e2e2e"/><rect x="345" y="198" width="175" height="1" fill="#2a2a2a"/><rect x="345" y="199" width="175" height="1" fill="#2b2b2b"/><rect x="345" y="200" width="175" height="1" fill="#2b2b2b"/><rect x="345" y="201" width="175" height="1" fill="#2f2f2f"/><rect x="345" y="202" width="175" height="1" fill="#2f2f2f"/><rect x="345" y="203" width="175" height="1" fill="#2a2a2a"/><rect x="345" y="204" width="175" height="1" fill="#2e2e2e"/><rect x="345" y="205" width="175" height="1" fill="#2a2a2a"/><rect x="345" y="206" width="175" height="1" fill="#2c2c2c"/><rect x="345" y="207" width="175" height="1" fill="#303030"/><rect x="345" y="208" width="175" height="1" fill="#2f2f2f"/><rect x="345" y="209" width="175" height="1" fill="#2a2a2a"/><rect x="345" y="210" width="175" height="1" fill="#2d2d2d"/><rect x="345" y="211" width="175" height="1" fill="#2c2c2c"/><rect x="345" y="212" width="175" height="1" fill="#2e2e2e"/><rect x="345" y="213" width="175" height="1" fill="#2f2f2f"/><rect x="345" y="214" width="175" height="1" fill="#2d2d2d"/><rect x="345" y="215" width="175" height="1" fill="#2f2f2f"/><rect x="345" y="216" width="175" height="1" fill="#2f2f2f"/><rect x="345" y="217" width="175" height="1" fill="#2b2b2b"/><rect x="345" y="218" width="175" height="1" fill="#2a2a2a"/><rect x="345" y="219" width="175" height="1" fill="#2c2c2c"/><rect x="345" y="220" width="175" height="1" fill="#2e2e2e"/><rect x="345" y="221" width="175" height="1" fill="#2f2f2f"/><rect x="345" y="222" width="175" height="1" fill="#303030"/><rect x="345" y="223" width="175" height="1" fill="#2e2e2e"/><rect x="345" y="224" width="175" height="1" fill="#2e2e2e"/><rect x="345" y="225" width="175" height="1" fill="#2d2d2d"/><rect x="345" y="231" width="175" height="1" fill="#2e2e2e"/><rect x="345" y="232" width="175" height="1" fill="#2e2e2e"/><rect x="345" y="233" width="175" height="1" fill="#2a2a2a"/><rect x="345" y="234" width="175" height="1" fill="#2c2c2c"/><rect x="345" y="235" width="175" height="1" fill="#2c2c2c"/><rect x="345" y="236" width="175" height="1" fill="#2b2b2b"/><rect x="345" y="237" width="175" height="1" fill="#2b2b2b"/><rect x="345" y="238" width="175" height="1" fill="#373737"/><rect x="345" y="239" width="175" height="1" fill="#3a3a3a"/><rect x="345" y="240" width="175" height="1" fill="#373737"/><rect x="345" y="241" width="175" height="1" fill="#3b3b3b"/><rect x="345" y="242" width="175" height="1" fill="#353535"/><rect x="345" y="243" width="175" height="1" fill="#383838"/><rect x="345" y="244" width="175" height="1" fill="#2e2e2e"/><rect x="345" y="245" width="175" height="1" fill="#2e2e2e"/><rect x="345" y="246" width="175" height="1" fill="#2a2a2a"/><rect x="345" y="247" width="175" height="1" fill="#2e2e2e"/><rect x="345" y="248" width="175" height="1" fill="#2e2e2e"/><rect x="345" y="249" width="175" height="1" fill="#313131"/><rect x="345" y="250" width="175" height="1" fill="#2e2e2e"/><rect x="345" y="251" width="175" height="1" fill="#303030"/><rect x="345" y="252" width="175" height="1" fill="#2f2f2f"/><rect x="345" y="253" width="175" height="1" fill="#2a2a2a"/><rect x="345" y="254" width="175" height="1" fill="#2c2c2c"/><rect x="345" y="255" width="175" height="1" fill="#2c2c2c"/><rect x="345" y="256" width="175" height="1" fill="#2d2d2d"/><rect x="345" y="257" width="175" height="1" fill="#2c2c2c"/><rect x="345" y="258" width="175" height="1" fill="#2a2a2a"/><rect x="345" y="259" width="175" height="1" fill="#2c2c2c"/><rect x="345" y="260" width="175" height="1" fill="#2e2e2e"/><rect x="345" y="261" width="175" height="1" fill="#353535"/><rect x="345" y="262" width="175" height="1" fill="#383838"/><rect x="345" y="263" width="175" height="1" fill="#353535"/><rect x="345" y="264" width="175" height="1" fill="#2f2f2f"/><rect x="345" y="265" width="175" height="1" fill="#313131"/><rect x="345" y="266" width="175" height="1" fill="#333333"/><rect x="345" y="267" width="175" height="1" fill="#2a2a2a"/><rect x="345" y="268" width="175" height="1" fill="#2d2d2d"/><rect x="345" y="269" width="175" height="1" fill="#2e2e2e"/><rect x="345" y="270" width="175" height="1" fill="#2f2f2f"/><rect x="345" y="271" width="175" height="1" fill="#2e2e2e"/><rect x="345" y="272" width="175" height="1" fill="#2f2f2f"/><rect x="345" y="273" width="175" height="1" fill="#2a2a2a"/><rect x="345" y="274" width="175" height="1" fill="#2e2e2e"/><rect x="345" y="275" width="175" height="1" fill="#2a2a2a"/><rect x="345" y="276" width="175" height="1" fill="#2f2f2f"/><rect x="345" y="277" width="175" height="1" fill="#303030"/><rect x="345" y="278" width="175" height="1" fill="#2e2e2e"/><rect x="345" y="279" width="175" height="1" fill="#2d2d2d"/><rect x="345" y="280" width="175" height="1" fill="#2e2e2e"/><rect x="345" y="281" width="175" height="1" fill="#2a2a2a"/><rect x="345" y="282" width="175" height="1" fill="#2f2f2f"/><rect x="345" y="283" width="175" height="1" fill="#2a2a2a"/><rect x="345" y="284" width="175" height="1" fill="#2b2b2b"/><rect x="345" y="285" width="175" height="1" fill="#2b2b2b"/><rect x="345" y="286" width="175" height="1" fill="#2e2e2e"/><rect x="345" y="287" width="175" height="1" fill="#2c2c2c"/><rect x="345" y="288" width="175" height="1" fill="#2c2c2c"/><rect x="345" y="289" width="175" height="1" fill="#2d2d2d"/><rect x="345" y="290" width="175" height="1" fill="#2e2e2e"/><rect x="345" y="291" width="175" height="1" fill="#2f2f2f"/><rect x="345" y="292" width="175" height="1" fill="#2f2f2f"/><rect x="345" y="293" width="175" height="1" fill="#2b2b2b"/><rect x="345" y="294" width="175" height="1" fill="#2a2a2a"/><rect x="345" y="295" width="175" height="1" fill="#2a2a2a"/><rect x="345" y="296" width="175" height="1" fill="#2a2a2a"/><rect x="345" y="300" width="175" height="1" fill="#2a2a2a"/><rect x="345" y="301" width="175" height="1" fill="#2e2e2e"/><rect x="345" y="302" width="175" height="1" fill="#2b2b2b"/><rect x="345" y="303" width="175" height="1" fill="#393939"/><rect x="345" y="304" width="175" height="1" fill="#3a3a3a"/><rect x="345" y="305" width="175" height="1" fill="#393939"/><rect x="345" y="306" width="175" height="1" fill="#353535"/><rect x="345" y="307" width="175" height="1" fill="#2a2a2a"/><rect x="345" y="308" width="175" height="1" fill="#2c2c2c"/><rect x="345" y="309" width="175" height="1" fill="#2f2f2f"/><rect x="345" y="310" width="175" height="1" fill="#2c2c2c"/><rect x="345" y="311" width="175" height="1" fill="#2b2b2b"/><rect x="345" y="312" width="175" height="1" fill="#2c2c2c"/><rect x="345" y="313" width="175" height="1" fill="#2f2f2f"/><rect x="345" y="318" width="175" height="1" fill="#2c2c2c"/><rect x="345" y="319" width="175" height="1" fill="#2b2b2b"/><rect x="345" y="320" width="175" height="1" fill="#2b2b2b"/><rect x="345" y="321" width="175" height="1" fill="#2f2f2f"/><rect x="345" y="322" width="175" height="1" fill="#2e2e2e"/><rect x="345" y="323" width="175" height="1" fill="#2b2b2b"/><rect x="345" y="324" width="175" height="1" fill="#2e2e2e"/><rect x="345" y="325" width="175" height="1" fill="#2f2f2f"/><rect x="345" y="326" width="175" height="1" fill="#2c2c2c"/><rect x="345" y="327" width="175" height="1" fill="#303030"/><rect x="345" y="328" width="175" height="1" fill="#2a2a2a"/><rect x="345" y="329" width="175" height="1" fill="#2f2f2f"/><rect x="345" y="330" width="175" height="1" fill="#2f2f2f"/><rect x="345" y="331" width="175" height="1" fill="#313131"/><rect x="345" y="332" width="175" height="1" fill="#323232"/><rect x="345" y="333" width="175" height="1" fill="#2b2b2b"/><rect x="345" y="340" width="175" height="1" fill="#262626"/><rect x="345" y="341" width="175" height="1" fill="#272727"/><rect x="345" y="342" width="175" height="1" fill="#2a2a2a"/><rect x="345" y="343" width="175" height="1" fill="#303030"/><rect x="345" y="344" width="175" height="1" fill="#333333"/><rect x="345" y="345" width="175" height="1" fill="#272727"/><rect x="345" y="346" width="175" height="1" fill="#272727"/><rect x="345" y="347" width="175" height="1" fill="#272727"/><rect x="345" y="348" width="175" height="1" fill="#292929"/><rect x="345" y="349" width="175" height="1" fill="#262626"/><rect x="345" y="350" width="175" height="1" fill="#262626"/><rect x="345" y="351" width="175" height="1" fill="#2a2a2a"/><rect x="345" y="352" width="175" height="1" fill="#2a2a2a"/><rect x="345" y="353" width="175" height="1" fill="#272727"/><rect x="345" y="354" width="175" height="1" fill="#272727"/><rect x="345" y="355" width="175" height="1" fill="#292929"/><rect x="345" y="356" width="175" height="1" fill="#2b2b2b"/><rect x="345" y="357" width="175" height="1" fill="#2a2a2a"/><rect x="345" y="358" width="175" height="1" fill="#282828"/><rect x="345" y="359" width="175" height="1" fill="#292929"/><rect x="345" y="360" width="175" height="1" fill="#272727"/><rect x="345" y="361" width="175" height="1" fill="#2a2a2a"/><rect x="345" y="362" width="175" height="1" fill="#282828"/><rect x="345" y="363" width="175" height="1" fill="#252525"/><rect x="345" y="364" width="175" height="1" fill="#292929"/><rect x="345" y="365" width="175" height="1" fill="#2b2b2b"/><rect x="345" y="366" width="175" height="1" fill="#282828"/><rect x="345" y="367" width="175" height="1" fill="#262626"/><rect x="345" y="368" width="175" height="1" fill="#272727"/><rect x="345" y="369" width="175" height="1" fill="#262626"/><rect x="345" y="370" width="175" height="1" fill="#2a2a2a"/><rect x="345" y="371" width="175" height="1" fill="#2a2a2a"/><rect x="345" y="372" width="175" height="1" fill="#272727"/><rect x="345" y="373" width="175" height="1" fill="#272727"/><rect x="345" y="374" width="175" height="1" fill="#262626"/><rect x="345" y="375" width="175" height="1" fill="#282828"/><rect x="345" y="376" width="175" height="1" fill="#2b2b2b"/><rect x="345" y="377" width="175" height="1" fill="#2a2a2a"/><rect x="345" y="378" width="175" height="1" fill="#2b2b2b"/><rect x="345" y="379" width="175" height="1" fill="#262626"/><rect x="345" y="380" width="175" height="1" fill="#2b2b2b"/><rect x="345" y="381" width="175" height="1" fill="#2b2b2b"/><rect x="345" y="382" width="175" height="1" fill="#2a2a2a"/><rect x="345" y="383" width="175" height="1" fill="#262626"/><rect x="345" y="384" width="175" height="1" fill="#2b2b2b"/><rect x="345" y="385" width="175" height="1" fill="#2b2b2b"/><rect x="345" y="386" width="175" height="1" fill="#2a2a2a"/><rect x="345" y="387" width="175" height="1" fill="#282828"/><rect x="345" y="388" width="175" height="1" fill="#272727"/><rect x="345" y="389" width="175" height="1" fill="#2b2b2b"/><rect x="345" y="390" width="175" height="1" fill="#292929"/><rect x="345" y="391" width="175" height="1" fill="#272727"/><rect x="345" y="392" width="175" height="1" fill="#262626"/><rect x="345" y="393" width="175" height="1" fill="#252525"/><rect x="345" y="394" width="175" height="1" fill="#2a2a2a"/><rect x="345" y="395" width="175" height="1" fill="#272727"/><rect x="345" y="396" width="175" height="1" fill="#262626"/><rect x="345" y="397" width="175" height="1" fill="#272727"/><rect x="345" y="398" width="175" height="1" fill="#282828"/><rect x="345" y="399" width="175" height="1" fill="#2a2a2a"/><rect x="345" y="400" width="175" height="1" fill="#282828"/><rect x="345" y="401" width="175" height="1" fill="#262626"/><rect x="345" y="402" width="175" height="1" fill="#2a2a2a"/><rect x="345" y="403" width="175" height="1" fill="#292929"/><rect x="345" y="404" width="175" height="1" fill="#292929"/><rect x="345" y="405" width="175" height="1" fill="#2b2b2b"/><rect x="345" y="406" width="175" height="1" fill="#282828"/><rect x="345" y="407" width="175" height="1" fill="#282828"/><rect x="345" y="408" width="175" height="1" fill="#262626"/><rect x="345" y="409" width="175" height="1" fill="#292929"/><rect x="345" y="410" width="175" height="1" fill="#292929"/><rect x="345" y="411" width="175" height="1" fill="#2b2b2b"/><rect x="345" y="412" width="175" height="1" fill="#252525"/><rect x="345" y="413" width="175" height="1" fill="#282828"/><rect x="345" y="414" width="175" height="1" fill="#282828"/><rect x="345" y="415" width="175" height="1" fill="#282828"/><rect x="345" y="416" width="175" height="1" fill="#252525"/><rect x="345" y="417" width="175" height="1" fill="#2a2a2a"/><rect x="345" y="418" width="175" height="1" fill="#252525"/><rect x="345" y="419" width="175" height="1" fill="#292929"/><rect x="345" y="420" width="175" height="1" fill="#272727"/><rect x="345" y="421" width="175" height="1" fill="#282828"/><rect x="345" y="422" width="175" height="1" fill="#2a2a2a"/><rect x="345" y="423" width="175" height="1" fill="#262626"/><rect x="345" y="424" width="175" height="1" fill="#282828"/><rect x="345" y="425" width="175" height="1" fill="#272727"/><rect x="345" y="426" width="175" height="1" fill="#292929"/><rect x="345" y="427" width="175" height="1" fill="#292929"/><rect x="345" y="428" width="175" height="1" fill="#292929"/><rect x="345" y="429" width="175" height="1" fill="#262626"/><rect x="345" y="430" width="175" height="1" fill="#292929"/><rect x="345" y="431" width="175" height="1" fill="#292929"/><rect x="345" y="432" width="175" height="1" fill="#262626"/><rect x="345" y="433" width="175" height="1" fill="#2b2b2b"/><rect x="345" y="434" width="175" height="1" fill="#2a2a2a"/><rect x="345" y="435" width="175" height="1" fill="#2a2a2a"/><rect x="345" y="436" width="175" height="1" fill="#2a2a2a"/><rect x="345" y="437" width="175" height="1" fill="#282828"/><rect x="345" y="438" width="175" height="1" fill="#2b2b2b"/><rect x="345" y="439" width="175" height="1" fill="#262626"/><rect x="345" y="440" width="175" height="1" fill="#2a2a2a"/><rect x="345" y="445" width="175" height="1" fill="#262626"/><rect x="345" y="446" width="175" height="1" fill="#292929"/><rect x="345" y="447" width="175" height="1" fill="#2b2b2b"/><rect x="345" y="448" width="175" height="1" fill="#272727"/><rect x="345" y="449" width="175" height="1" fill="#272727"/><rect x="345" y="450" width="175" height="1" fill="#2a2a2a"/><rect x="345" y="451" width="175" height="1" fill="#2a2a2a"/><rect x="345" y="452" width="175" height="1" fill="#2b2b2b"/><rect x="345" y="453" width="175" height="1" fill="#292929"/><rect x="345" y="454" width="175" height="1" fill="#262626"/><rect x="345" y="455" width="175" height="1" fill="#2a2a2a"/><rect x="345" y="456" width="175" height="1" fill="#272727"/><rect x="345" y="457" width="175" height="1" fill="#292929"/><rect x="345" y="458" width="175" height="1" fill="#2a2a2a"/><rect x="345" y="459" width="175" height="1" fill="#2b2b2b"/><rect x="345" y="460" width="175" height="1" fill="#292929"/><rect x="345" y="461" width="175" height="1" fill="#262626"/><rect x="345" y="462" width="175" height="1" fill="#282828"/><rect x="345" y="463" width="175" height="1" fill="#292929"/><rect x="345" y="464" width="175" height="1" fill="#2a2a2a"/><rect x="345" y="465" width="175" height="1" fill="#262626"/><rect x="345" y="466" width="175" height="1" fill="#292929"/><rect x="345" y="467" width="175" height="1" fill="#262626"/><rect x="345" y="468" width="175" height="1" fill="#2b2b2b"/><rect x="345" y="469" width="175" height="1" fill="#252525"/><rect x="345" y="470" width="175" height="1" fill="#292929"/><rect x="345" y="471" width="175" height="1" fill="#262626"/><rect x="345" y="472" width="175" height="1" fill="#272727"/><rect x="345" y="473" width="175" height="1" fill="#282828"/><rect x="345" y="474" width="175" height="1" fill="#272727"/><rect x="345" y="475" width="175" height="1" fill="#272727"/><rect x="345" y="476" width="175" height="1" fill="#272727"/><rect x="345" y="477" width="175" height="1" fill="#2d2d2d"/><rect x="345" y="478" width="175" height="1" fill="#2a2a2a"/><rect x="345" y="479" width="175" height="1" fill="#262626"/><rect x="345" y="480" width="175" height="1" fill="#262626"/><rect x="345" y="481" width="175" height="1" fill="#252525"/><rect x="345" y="482" width="175" height="1" fill="#2a2a2a"/><rect x="345" y="483" width="175" height="1" fill="#292929"/><rect x="345" y="484" width="175" height="1" fill="#2a2a2a"/><rect x="345" y="485" width="175" height="1" fill="#252525"/><rect x="345" y="486" width="175" height="1" fill="#272727"/><rect x="345" y="487" width="175" height="1" fill="#292929"/><rect x="345" y="488" width="175" height="1" fill="#282828"/><rect x="345" y="489" width="175" height="1" fill="#292929"/><rect x="345" y="490" width="175" height="1" fill="#262626"/><rect x="345" y="491" width="175" height="1" fill="#2a2a2a"/><rect x="345" y="492" width="175" height="1" fill="#282828"/><rect x="345" y="493" width="175" height="1" fill="#282828"/><rect x="345" y="494" width="175" height="1" fill="#282828"/><rect x="345" y="495" width="175" height="1" fill="#272727"/><rect x="345" y="496" width="175" height="1" fill="#252525"/><rect x="345" y="497" width="175" height="1" fill="#252525"/><rect x="345" y="498" width="175" height="1" fill="#272727"/><rect x="345" y="499" width="175" height="1" fill="#252525"/><rect x="345" y="500" width="175" height="1" fill="#282828"/><rect x="345" y="501" width="175" height="1" fill="#262626"/><rect x="345" y="502" width="175" height="1" fill="#292929"/><rect x="345" y="503" width="175" height="1" fill="#272727"/><rect x="345" y="504" width="175" height="1" fill="#282828"/><rect x="345" y="505" width="175" height="1" fill="#262626"/><rect x="345" y="506" width="175" height="1" fill="#252525"/><rect x="345" y="507" width="175" height="1" fill="#292929"/><rect x="345" y="508" width="175" height="1" fill="#2a2a2a"/><rect x="345" y="509" width="175" height="1" fill="#262626"/><rect x="345" y="510" width="175" height="1" fill="#252525"/><rect x="345" y="511" width="175" height="1" fill="#2a2a2a"/><rect x="345" y="512" width="175" height="1" fill="#292929"/><rect x="345" y="513" width="175" height="1" fill="#292929"/><rect x="345" y="514" width="175" height="1" fill="#292929"/><rect x="345" y="515" width="175" height="1" fill="#272727"/><rect x="345" y="516" width="175" height="1" fill="#2a2a2a"/><rect x="345" y="517" width="175" height="1" fill="#292929"/><rect x="345" y="518" width="175" height="1" fill="#292929"/><rect x="345" y="519" width="175" height="1" fill="#2a2a2a"/><rect x="345" y="520" width="175" height="1" fill="#2a2a2a"/><rect x="345" y="521" width="175" height="1" fill="#282828"/><rect x="345" y="522" width="175" height="1" fill="#252525"/><rect x="345" y="523" width="175" height="1" fill="#282828"/><rect x="345" y="524" width="175" height="1" fill="#272727"/><rect x="345" y="525" width="175" height="1" fill="#252525"/><rect x="345" y="526" width="175" height="1" fill="#262626"/><rect x="345" y="527" width="175" height="1" fill="#292929"/><rect x="345" y="528" width="175" height="1" fill="#282828"/><rect x="345" y="529" width="175" height="1" fill="#2a2a2a"/><rect x="345" y="530" width="175" height="1" fill="#292929"/><rect x="345" y="531" width="175" height="1" fill="#262626"/><rect x="345" y="532" width="175" height="1" fill="#292929"/><rect x="345" y="533" width="175" height="1" fill="#252525"/><rect x="345" y="534" width="175" height="1" fill="#2a2a2a"/><rect x="345" y="535" width="175" height="1" fill="#262626"/><rect x="345" y="536" width="175" height="1" fill="#2a2a2a"/><rect x="345" y="537" width="175" height="1" fill="#252525"/><rect x="345" y="538" width="175" height="1" fill="#292929"/><rect x="345" y="539" width="175" height="1" fill="#252525"/><rect x="345" y="540" width="175" height="1" fill="#2a2a2a"/><rect x="345" y="541" width="175" height="1" fill="#292929"/><rect x="345" y="542" width="175" height="1" fill="#282828"/><rect x="345" y="543" width="175" height="1" fill="#282828"/><rect x="345" y="544" width="175" height="1" fill="#262626"/><rect x="345" y="545" width="175" height="1" fill="#272727"/><rect x="345" y="546" width="175" height="1" fill="#252525"/><rect x="345" y="547" width="175" height="1" fill="#272727"/><rect x="345" y="548" width="175" height="1" fill="#252525"/><rect x="345" y="549" width="175" height="1" fill="#282828"/><rect x="345" y="550" width="175" height="1" fill="#272727"/><rect x="345" y="551" width="175" height="1" fill="#272727"/><rect x="345" y="552" width="175" height="1" fill="#272727"/><rect x="345" y="553" width="175" height="1" fill="#2a2a2a"/><rect x="345" y="554" width="175" height="1" fill="#2a2a2a"/><rect x="345" y="555" width="175" height="1" fill="#2a2a2a"/><rect x="345" y="556" width="175" height="1" fill="#272727"/><rect x="345" y="557" width="175" height="1" fill="#252525"/><rect x="345" y="558" width="175" height="1" fill="#252525"/><rect x="345" y="559" width="175" height="1" fill="#2a2a2a"/><rect x="345" y="560" width="175" height="1" fill="#272727"/><rect x="345" y="561" width="175" height="1" fill="#252525"/><rect x="345" y="562" width="175" height="1" fill="#2a2a2a"/><rect x="345" y="563" width="175" height="1" fill="#262626"/><rect x="345" y="564" width="175" height="1" fill="#282828"/><rect x="345" y="565" width="175" height="1" fill="#272727"/><rect x="345" y="566" width="175" height="1" fill="#252525"/><rect x="345" y="567" width="175" height="1" fill="#272727"/><rect x="345" y="568" width="175" height="1" fill="#292929"/><rect x="345" y="569" width="175" height="1" fill="#282828"/><rect x="345" y="570" width="175" height="1" fill="#2a2a2a"/><rect x="345" y="571" width="175" height="1" fill="#252525"/><rect x="345" y="572" width="175" height="1" fill="#252525"/><rect x="345" y="573" width="175" height="1" fill="#272727"/><rect x="345" y="574" width="175" height="1" fill="#282828"/><rect x="345" y="575" width="175" height="1" fill="#272727"/><rect x="345" y="576" width="175" height="1" fill="#262626"/><rect x="345" y="577" width="175" height="1" fill="#292929"/><rect x="345" y="578" width="175" height="1" fill="#2a2a2a"/><rect x="345" y="579" width="175" height="1" fill="#282828"/><rect x="345" y="580" width="175" height="1" fill="#252525"/><rect x="345" y="581" width="175" height="1" fill="#292929"/><rect x="345" y="582" width="175" height="1" fill="#282828"/><rect x="345" y="583" width="175" height="1" fill="#292929"/><rect x="345" y="584" width="175" height="1" fill="#292929"/><rect x="345" y="585" width="175" height="1" fill="#282828"/><rect x="345" y="586" width="175" height="1" fill="#303030"/><rect x="345" y="587" width="175" height="1" fill="#333333"/><rect x="345" y="588" width="175" height="1" fill="#333333"/><rect x="345" y="589" width="175" height="1" fill="#333333"/><rect x="345" y="590" width="175" height="1" fill="#2f2f2f"/><rect x="345" y="591" width="175" height="1" fill="#2f2f2f"/><rect x="345" y="592" width="175" height="1" fill="#2f2f2f"/><rect x="345" y="593" width="175" height="1" fill="#323232"/><rect x="345" y="594" width="175" height="1" fill="#333333"/><rect x="345" y="595" width="175" height="1" fill="#2f2f2f"/><rect x="345" y="596" width="175" height="1" fill="#303030"/><rect x="345" y="597" width="175" height="1" fill="#313131"/><rect x="345" y="598" width="175" height="1" fill="#2c2c2c"/><rect x="345" y="610" width="175" height="1" fill="#2b2b2b"/><rect x="345" y="611" width="175" height="1" fill="#2d2d2d"/><rect x="345" y="612" width="175" height="1" fill="#2f2f2f"/><rect x="345" y="613" width="175" height="1" fill="#2c2c2c"/><rect x="345" y="639" width="175" height="1" fill="#2f2f2f"/><rect x="345" y="641" width="175" height="1" fill="#2c2c2c"/><rect x="345" y="642" width="175" height="1" fill="#2a2a2a"/><rect x="345" y="643" width="175" height="1" fill="#292929"/><rect x="345" y="644" width="175" height="1" fill="#2d2d2d"/><rect x="345" y="645" width="175" height="1" fill="#2b2b2b"/><rect x="345" y="646" width="175" height="1" fill="#292929"/><rect x="345" y="647" width="175" height="1" fill="#2a2a2a"/><rect x="345" y="648" width="175" height="1" fill="#292929"/><rect x="345" y="649" width="175" height="1" fill="#2e2e2e"/><rect x="345" y="650" width="175" height="1" fill="#2b2b2b"/><rect x="345" y="651" width="175" height="1" fill="#282828"/><rect x="345" y="652" width="175" height="1" fill="#262626"/><rect x="345" y="653" width="175" height="1" fill="#282828"/><rect x="345" y="654" width="175" height="1" fill="#272727"/><rect x="345" y="655" width="175" height="1" fill="#2b2b2b"/><rect x="345" y="656" width="175" height="1" fill="#2b2b2b"/><rect x="345" y="657" width="175" height="1" fill="#2a2a2a"/><rect x="345" y="658" width="175" height="1" fill="#292929"/><rect x="345" y="659" width="175" height="1" fill="#2a2a2a"/><rect x="345" y="660" width="175" height="1" fill="#262626"/><rect x="345" y="661" width="175" height="1" fill="#272727"/><rect x="345" y="662" width="175" height="1" fill="#2b2b2b"/><rect x="345" y="663" width="175" height="1" fill="#2a2a2a"/><rect x="345" y="664" width="175" height="1" fill="#272727"/><rect x="345" y="665" width="175" height="1" fill="#282828"/><rect x="345" y="666" width="175" height="1" fill="#262626"/><rect x="345" y="667" width="175" height="1" fill="#252525"/><rect x="345" y="668" width="175" height="1" fill="#2b2b2b"/><rect x="345" y="669" width="175" height="1" fill="#262626"/><rect x="345" y="670" width="175" height="1" fill="#2a2a2a"/><rect x="345" y="671" width="175" height="1" fill="#262626"/><rect x="345" y="672" width="175" height="1" fill="#282828"/><rect x="345" y="673" width="175" height="1" fill="#292929"/><rect x="345" y="674" width="175" height="1" fill="#262626"/><rect x="345" y="675" width="175" height="1" fill="#272727"/><rect x="345" y="676" width="175" height="1" fill="#262626"/><rect x="345" y="677" width="175" height="1" fill="#252525"/><rect x="345" y="678" width="175" height="1" fill="#272727"/><rect x="345" y="679" width="175" height="1" fill="#2a2a2a"/><rect x="345" y="680" width="175" height="1" fill="#272727"/><rect x="345" y="681" width="175" height="1" fill="#282828"/><rect x="345" y="682" width="175" height="1" fill="#282828"/><rect x="345" y="683" width="175" height="1" fill="#282828"/><rect x="345" y="684" width="175" height="1" fill="#272727"/><rect x="345" y="685" width="175" height="1" fill="#262626"/><rect x="345" y="686" width="175" height="1" fill="#272727"/><rect x="345" y="687" width="175" height="1" fill="#2b2b2b"/><rect x="345" y="688" width="175" height="1" fill="#292929"/><rect x="345" y="689" width="175" height="1" fill="#282828"/><rect x="345" y="690" width="175" height="1" fill="#272727"/><rect x="345" y="691" width="175" height="1" fill="#2a2a2a"/><rect x="345" y="692" width="175" height="1" fill="#262626"/><rect x="345" y="693" width="175" height="1" fill="#292929"/><rect x="345" y="694" width="175" height="1" fill="#282828"/><rect x="345" y="695" width="175" height="1" fill="#262626"/><rect x="345" y="696" width="175" height="1" fill="#282828"/><rect x="345" y="697" width="175" height="1" fill="#272727"/><rect x="345" y="698" width="175" height="1" fill="#252525"/><rect x="345" y="699" width="175" height="1" fill="#282828"/><rect x="345" y="700" width="175" height="1" fill="#262626"/><rect x="345" y="701" width="175" height="1" fill="#262626"/><rect x="345" y="702" width="175" height="1" fill="#292929"/><rect x="345" y="703" width="175" height="1" fill="#292929"/><rect x="345" y="704" width="175" height="1" fill="#282828"/><rect x="345" y="705" width="175" height="1" fill="#2a2a2a"/><rect x="345" y="706" width="175" height="1" fill="#2b2b2b"/><rect x="345" y="707" width="175" height="1" fill="#272727"/><rect x="345" y="708" width="175" height="1" fill="#282828"/><rect x="345" y="709" width="175" height="1" fill="#2b2b2b"/><rect x="345" y="710" width="175" height="1" fill="#272727"/><rect x="345" y="711" width="175" height="1" fill="#282828"/><rect x="345" y="712" width="175" height="1" fill="#282828"/><rect x="345" y="713" width="175" height="1" fill="#272727"/><rect x="345" y="714" width="175" height="1" fill="#292929"/><rect x="345" y="715" width="175" height="1" fill="#2a2a2a"/><rect x="345" y="716" width="175" height="1" fill="#2b2b2b"/><rect x="345" y="717" width="175" height="1" fill="#282828"/><rect x="345" y="718" width="175" height="1" fill="#272727"/><rect x="345" y="719" width="175" height="1" fill="#2a2a2a"/></g>
<g filter="url(#nr1)"><rect x="456.10" y="82" width="11.30" height="1" fill="#525252"/><rect x="469.70" y="82" width="11.60" height="1" fill="#525252"/><rect x="483.40" y="82" width="11.80" height="1" fill="#525252"/><rect x="497.20" y="82" width="11.80" height="1" fill="#525252"/><rect x="456.10" y="84" width="11.30" height="8" fill="#4f4f4f"/><rect x="469.70" y="84" width="11.60" height="8" fill="#4f4f4f"/><rect x="483.40" y="84" width="11.80" height="8" fill="#4f4f4f"/><rect x="497.20" y="84" width="11.80" height="8" fill="#4f4f4f"/><rect x="456.10" y="93" width="11.30" height="5" fill="#4c4c4c"/><rect x="469.70" y="93" width="11.60" height="5" fill="#4c4c4c"/><rect x="483.40" y="93" width="11.80" height="5" fill="#4c4c4c"/><rect x="497.20" y="93" width="11.80" height="5" fill="#4c4c4c"/><rect x="456.10" y="99" width="11.30" height="7" fill="#4f4f4f"/><rect x="469.70" y="99" width="11.60" height="7" fill="#4f4f4f"/><rect x="483.40" y="99" width="11.80" height="7" fill="#4f4f4f"/><rect x="497.20" y="99" width="11.80" height="7" fill="#4f4f4f"/><rect x="456.10" y="107" width="11.30" height="6" fill="#4c4c4c"/><rect x="469.70" y="107" width="11.60" height="6" fill="#4c4c4c"/><rect x="483.40" y="107" width="11.80" height="6" fill="#4c4c4c"/><rect x="497.20" y="107" width="11.80" height="6" fill="#4c4c4c"/><rect x="456.10" y="114" width="11.30" height="4" fill="#404040"/><rect x="469.70" y="114" width="11.60" height="4" fill="#404040"/><rect x="483.40" y="114" width="11.80" height="4" fill="#404040"/><rect x="497.20" y="114" width="11.80" height="4" fill="#404040"/><rect x="456.10" y="121" width="11.30" height="14" fill="#4a4a4a"/><rect x="469.70" y="121" width="11.60" height="14" fill="#4a4a4a"/><rect x="483.40" y="121" width="11.80" height="14" fill="#4a4a4a"/><rect x="497.20" y="121" width="11.80" height="14" fill="#4a4a4a"/><rect x="456.10" y="143" width="11.30" height="6" fill="#424242"/><rect x="469.70" y="143" width="11.60" height="6" fill="#424242"/><rect x="483.40" y="143" width="11.80" height="6" fill="#424242"/><rect x="497.20" y="143" width="11.80" height="6" fill="#424242"/><rect x="456.10" y="152" width="11.30" height="9" fill="#474747"/><rect x="469.70" y="152" width="11.60" height="9" fill="#474747"/><rect x="483.40" y="152" width="11.80" height="9" fill="#474747"/><rect x="497.20" y="152" width="11.80" height="9" fill="#474747"/><rect x="456.10" y="162" width="11.30" height="5" fill="#3d3d3d"/><rect x="469.70" y="162" width="11.60" height="5" fill="#3d3d3d"/><rect x="483.40" y="162" width="11.80" height="5" fill="#3d3d3d"/><rect x="497.20" y="162" width="11.80" height="5" fill="#3d3d3d"/><rect x="456.10" y="173" width="11.30" height="1" fill="#9e9e9e"/><rect x="469.70" y="173" width="11.60" height="1" fill="#9e9e9e"/><rect x="483.40" y="173" width="11.80" height="1" fill="#9e9e9e"/><rect x="497.20" y="173" width="11.80" height="1" fill="#9e9e9e"/><rect x="456.10" y="174" width="11.30" height="3" fill="#6b6b6b"/><rect x="469.70" y="174" width="11.60" height="3" fill="#6b6b6b"/><rect x="483.40" y="174" width="11.80" height="3" fill="#6b6b6b"/><rect x="497.20" y="174" width="11.80" height="3" fill="#6b6b6b"/><rect x="456.10" y="178" width="11.30" height="1" fill="#949494"/><rect x="469.70" y="178" width="11.60" height="1" fill="#949494"/><rect x="483.40" y="178" width="11.80" height="1" fill="#949494"/><rect x="497.20" y="178" width="11.80" height="1" fill="#949494"/><rect x="456.10" y="179" width="11.30" height="5" fill="#666666"/><rect x="469.70" y="179" width="11.60" height="5" fill="#666666"/><rect x="483.40" y="179" width="11.80" height="5" fill="#666666"/><rect x="497.20" y="179" width="11.80" height="5" fill="#666666"/><rect x="456.10" y="185" width="11.30" height="4" fill="#6b6b6b"/><rect x="469.70" y="185" width="11.60" height="4" fill="#6b6b6b"/><rect x="483.40" y="185" width="11.80" height="4" fill="#6b6b6b"/><rect x="497.20" y="185" width="11.80" height="4" fill="#6b6b6b"/><rect x="456.10" y="190" width="11.30" height="6" fill="#6b6b6b"/><rect x="469.70" y="190" width="11.60" height="6" fill="#6b6b6b"/><rect x="483.40" y="190" width="11.80" height="6" fill="#6b6b6b"/><rect x="497.20" y="190" width="11.80" height="6" fill="#6b6b6b"/><rect x="456.10" y="204" width="11.30" height="1" fill="#4c4c4c"/><rect x="469.70" y="204" width="11.60" height="1" fill="#4c4c4c"/><rect x="483.40" y="204" width="11.80" height="1" fill="#4c4c4c"/><rect x="497.20" y="204" width="11.80" height="1" fill="#4c4c4c"/><rect x="456.10" y="206" width="11.30" height="5" fill="#616161"/><rect x="469.70" y="206" width="11.60" height="5" fill="#616161"/><rect x="483.40" y="206" width="11.80" height="5" fill="#616161"/><rect x="497.20" y="206" width="11.80" height="5" fill="#616161"/><rect x="456.10" y="212" width="11.30" height="4" fill="#5c5c5c"/><rect x="469.70" y="212" width="11.60" height="4" fill="#5c5c5c"/><rect x="483.40" y="212" width="11.80" height="4" fill="#5c5c5c"/><rect x="497.20" y="212" width="11.80" height="4" fill="#5c5c5c"/><rect x="456.10" y="219" width="11.30" height="12" fill="#424242"/><rect x="469.70" y="219" width="11.60" height="12" fill="#424242"/><rect x="483.40" y="219" width="11.80" height="12" fill="#424242"/><rect x="497.20" y="219" width="11.80" height="12" fill="#424242"/><rect x="456.10" y="238" width="11.30" height="23" fill="#444444"/><rect x="469.70" y="238" width="11.60" height="23" fill="#444444"/><rect x="483.40" y="238" width="11.80" height="23" fill="#444444"/><rect x="497.20" y="238" width="11.80" height="23" fill="#444444"/><rect x="456.10" y="261" width="11.30" height="6" fill="#545454"/><rect x="469.70" y="261" width="11.60" height="6" fill="#545454"/><rect x="483.40" y="261" width="11.80" height="6" fill="#545454"/><rect x="497.20" y="261" width="11.80" height="6" fill="#545454"/><rect x="456.10" y="267" width="11.30" height="38" fill="#444444"/><rect x="469.70" y="267" width="11.60" height="38" fill="#444444"/><rect x="483.40" y="267" width="11.80" height="38" fill="#444444"/><rect x="497.20" y="267" width="11.80" height="38" fill="#444444"/><rect x="456.10" y="305" width="11.30" height="2" fill="#6b6b6b"/><rect x="469.70" y="305" width="11.60" height="2" fill="#6b6b6b"/><rect x="483.40" y="305" width="11.80" height="2" fill="#6b6b6b"/><rect x="497.20" y="305" width="11.80" height="2" fill="#6b6b6b"/><rect x="456.10" y="307" width="11.30" height="1" fill="#444444"/><rect x="469.70" y="307" width="11.60" height="1" fill="#444444"/><rect x="483.40" y="307" width="11.80" height="1" fill="#444444"/><rect x="497.20" y="307" width="11.80" height="1" fill="#444444"/><rect x="456.10" y="308" width="11.30" height="5" fill="#6b6b6b"/><rect x="469.70" y="308" width="11.60" height="5" fill="#6b6b6b"/><rect x="483.40" y="308" width="11.80" height="5" fill="#6b6b6b"/><rect x="497.20" y="308" width="11.80" height="5" fill="#6b6b6b"/><rect x="456.10" y="313" width="11.30" height="5" fill="#444444"/><rect x="469.70" y="313" width="11.60" height="5" fill="#444444"/><rect x="483.40" y="313" width="11.80" height="5" fill="#444444"/><rect x="497.20" y="313" width="11.80" height="5" fill="#444444"/><rect x="456.10" y="321" width="11.30" height="156" fill="#3e3e3e"/><rect x="469.70" y="321" width="11.60" height="156" fill="#3e3e3e"/><rect x="483.40" y="321" width="11.80" height="156" fill="#3e3e3e"/><rect x="497.20" y="321" width="11.80" height="156" fill="#3e3e3e"/><rect x="456.10" y="477" width="11.30" height="9" fill="#6b6b6b"/><rect x="469.70" y="477" width="11.60" height="9" fill="#6b6b6b"/><rect x="483.40" y="477" width="11.80" height="9" fill="#6b6b6b"/><rect x="497.20" y="477" width="11.80" height="9" fill="#6b6b6b"/><rect x="456.10" y="490" width="11.30" height="1" fill="#4c4c4c"/><rect x="469.70" y="490" width="11.60" height="1" fill="#4c4c4c"/><rect x="483.40" y="490" width="11.80" height="1" fill="#4c4c4c"/><rect x="497.20" y="490" width="11.80" height="1" fill="#4c4c4c"/><rect x="456.10" y="494" width="11.30" height="7" fill="#6e6e6e"/><rect x="469.70" y="494" width="11.60" height="7" fill="#6e6e6e"/><rect x="483.40" y="494" width="11.80" height="7" fill="#6e6e6e"/><rect x="497.20" y="494" width="11.80" height="7" fill="#6e6e6e"/><rect x="456.10" y="505" width="11.30" height="6" fill="#787878"/><rect x="469.70" y="505" width="11.60" height="6" fill="#787878"/><rect x="483.40" y="505" width="11.80" height="6" fill="#787878"/><rect x="497.20" y="505" width="11.80" height="6" fill="#787878"/><rect x="456.10" y="518" width="11.30" height="17" fill="#525252"/><rect x="469.70" y="518" width="11.60" height="17" fill="#525252"/><rect x="483.40" y="518" width="11.80" height="17" fill="#525252"/><rect x="497.20" y="518" width="11.80" height="17" fill="#525252"/><rect x="456.10" y="536" width="11.30" height="3" fill="#4c4c4c"/><rect x="469.70" y="536" width="11.60" height="3" fill="#4c4c4c"/><rect x="483.40" y="536" width="11.80" height="3" fill="#4c4c4c"/><rect x="497.20" y="536" width="11.80" height="3" fill="#4c4c4c"/><rect x="456.10" y="544" width="11.30" height="14" fill="#4a4a4a"/><rect x="469.70" y="544" width="11.60" height="14" fill="#4a4a4a"/><rect x="483.40" y="544" width="11.80" height="14" fill="#4a4a4a"/><rect x="497.20" y="544" width="11.80" height="14" fill="#4a4a4a"/><rect x="456.10" y="560" width="11.30" height="24" fill="#424242"/><rect x="469.70" y="560" width="11.60" height="24" fill="#424242"/><rect x="483.40" y="560" width="11.80" height="24" fill="#424242"/><rect x="497.20" y="560" width="11.80" height="24" fill="#424242"/><rect x="456.10" y="586" width="11.30" height="12" fill="#454545"/><rect x="469.70" y="586" width="11.60" height="12" fill="#454545"/><rect x="483.40" y="586" width="11.80" height="12" fill="#454545"/><rect x="497.20" y="586" width="11.80" height="12" fill="#454545"/><rect x="456.10" y="599" width="11.30" height="12" fill="#4c4c4c"/><rect x="469.70" y="599" width="11.60" height="12" fill="#4c4c4c"/><rect x="483.40" y="599" width="11.80" height="12" fill="#4c4c4c"/><rect x="497.20" y="599" width="11.80" height="12" fill="#4c4c4c"/><rect x="456.10" y="614" width="11.30" height="25" fill="#474747"/><rect x="469.70" y="614" width="11.60" height="25" fill="#474747"/><rect x="483.40" y="614" width="11.80" height="25" fill="#474747"/><rect x="497.20" y="614" width="11.80" height="25" fill="#474747"/><rect x="456.10" y="640" width="11.30" height="11" fill="#2e2e2e"/><rect x="469.70" y="640" width="11.60" height="11" fill="#2e2e2e"/><rect x="483.40" y="640" width="11.80" height="11" fill="#2e2e2e"/><rect x="497.20" y="640" width="11.80" height="11" fill="#2e2e2e"/><rect x="461.50" y="599" width="58.90" height="11" fill="#4a4a4a"/><rect x="461.50" y="614" width="58.90" height="25" fill="#474747"/></g>
<rect x="345" y="81" width="175" height="1" fill="#000"/><rect x="345" y="83" width="175" height="1" fill="#000"/><rect x="345" y="92" width="175" height="1" fill="#000"/><rect x="345" y="96" width="175" height="1" fill="#000"/><rect x="345" y="98" width="175" height="1" fill="#000"/><rect x="345" y="106" width="175" height="1" fill="#000"/><rect x="345" y="113" width="175" height="1" fill="#000"/><rect x="345" y="118" width="175" height="1" fill="#000"/><rect x="345" y="119" width="175" height="2" fill="#fff"/><rect x="345" y="124" width="175" height="1" fill="#000"/><rect x="345" y="127" width="175" height="1" fill="#000"/><rect x="345" y="136" width="175" height="2" fill="#fff"/><rect x="345" y="138" width="175" height="1" fill="#000"/><rect x="345" y="139" width="175" height="2" fill="#fff"/><rect x="345" y="142" width="175" height="1" fill="#fff"/><rect x="345" y="149" width="175" height="1" fill="#000"/><rect x="345" y="150" width="175" height="2" fill="#fff"/><rect x="345" y="161" width="175" height="1" fill="#000"/><rect x="345" y="165" width="175" height="1" fill="#000"/><rect x="345" y="167" width="175" height="1" fill="#000"/><rect x="345" y="170" width="175" height="3" fill="#000"/><rect x="345" y="177" width="175" height="1" fill="#000"/><rect x="345" y="184" width="175" height="1" fill="#000"/><rect x="345" y="189" width="175" height="1" fill="#000"/><rect x="345" y="196" width="175" height="1" fill="#000"/><rect x="345" y="197" width="175" height="1" fill="#fff"/><rect x="345" y="199" width="175" height="4" fill="#fff"/><rect x="345" y="203" width="175" height="1" fill="#000"/><rect x="345" y="205" width="175" height="1" fill="#000"/><rect x="345" y="211" width="175" height="1" fill="#000"/><rect x="345" y="216" width="175" height="1" fill="#000"/><rect x="345" y="217" width="175" height="2" fill="#fff"/><rect x="345" y="221" width="175" height="1" fill="#fff"/><rect x="345" y="223" width="175" height="3" fill="#fff"/><rect x="345" y="231" width="175" height="1" fill="#000"/><rect x="345" y="232" width="175" height="6" fill="#fff"/><rect x="345" y="240" width="175" height="1" fill="#fff"/><rect x="345" y="244" width="175" height="1" fill="#000"/><rect x="345" y="245" width="175" height="2" fill="#fff"/><rect x="345" y="249" width="175" height="1" fill="#fff"/><rect x="345" y="252" width="175" height="1" fill="#fff"/><rect x="345" y="260" width="175" height="1" fill="#fff"/><rect x="345" y="261" width="175" height="1" fill="#000"/><rect x="345" y="264" width="175" height="1" fill="#fff"/><rect x="345" y="267" width="175" height="2" fill="#000"/><rect x="345" y="269" width="175" height="2" fill="#fff"/><rect x="345" y="275" width="175" height="1" fill="#000"/><rect x="345" y="280" width="175" height="1" fill="#000"/><rect x="345" y="282" width="175" height="1" fill="#000"/><rect x="345" y="285" width="175" height="1" fill="#000"/><rect x="345" y="287" width="175" height="1" fill="#000"/><rect x="345" y="292" width="175" height="1" fill="#000"/><rect x="345" y="295" width="175" height="2" fill="#000"/><rect x="345" y="300" width="175" height="1" fill="#000"/><rect x="345" y="301" width="175" height="1" fill="#fff"/><rect x="345" y="303" width="175" height="2" fill="#fff"/><rect x="345" y="307" width="175" height="1" fill="#fff"/><rect x="345" y="313" width="175" height="1" fill="#000"/><rect x="345" y="318" width="175" height="3" fill="#fff"/><rect x="345" y="330" width="175" height="1" fill="#fff"/><rect x="345" y="333" width="175" height="1" fill="#000"/><rect x="345" y="340" width="175" height="3" fill="#fff"/><rect x="345" y="345" width="175" height="1" fill="#fff"/><rect x="345" y="348" width="175" height="1" fill="#000"/><rect x="345" y="351" width="175" height="2" fill="#000"/><rect x="345" y="358" width="175" height="2" fill="#000"/><rect x="345" y="366" width="175" height="1" fill="#000"/><rect x="345" y="367" width="175" height="1" fill="#fff"/><rect x="345" y="371" width="175" height="1" fill="#fff"/><rect x="345" y="375" width="175" height="1" fill="#fff"/><rect x="345" y="376" width="175" height="2" fill="#000"/><rect x="345" y="379" width="175" height="1" fill="#000"/><rect x="345" y="381" width="175" height="3" fill="#000"/><rect x="345" y="384" width="175" height="1" fill="#fff"/><rect x="345" y="388" width="175" height="1" fill="#000"/><rect x="345" y="390" width="175" height="1" fill="#000"/><rect x="345" y="391" width="175" height="1" fill="#fff"/><rect x="345" y="392" width="175" height="1" fill="#000"/><rect x="345" y="405" width="175" height="1" fill="#fff"/><rect x="345" y="406" width="175" height="2" fill="#000"/><rect x="345" y="414" width="175" height="1" fill="#fff"/><rect x="345" y="415" width="175" height="2" fill="#000"/><rect x="345" y="424" width="175" height="1" fill="#000"/><rect x="345" y="426" width="175" height="1" fill="#000"/><rect x="345" y="432" width="175" height="1" fill="#000"/><rect x="345" y="435" width="175" height="1" fill="#000"/><rect x="345" y="441" width="175" height="1" fill="#000"/><rect x="345" y="445" width="175" height="4" fill="#fff"/><rect x="345" y="449" width="175" height="2" fill="#000"/><rect x="345" y="457" width="175" height="1" fill="#000"/><rect x="345" y="461" width="175" height="1" fill="#000"/><rect x="345" y="464" width="175" height="2" fill="#000"/><rect x="345" y="468" width="175" height="1" fill="#000"/><rect x="345" y="472" width="175" height="1" fill="#000"/><rect x="345" y="476" width="175" height="1" fill="#000"/><rect x="345" y="478" width="175" height="1" fill="#000"/><rect x="345" y="481" width="175" height="1" fill="#000"/><rect x="345" y="483" width="175" height="1" fill="#000"/><rect x="345" y="486" width="175" height="3" fill="#000"/><rect x="345" y="489" width="175" height="1" fill="#fff"/><rect x="345" y="491" width="175" height="2" fill="#fff"/><rect x="345" y="493" width="175" height="1" fill="#000"/><rect x="345" y="496" width="175" height="1" fill="#000"/><rect x="345" y="498" width="175" height="1" fill="#000"/><rect x="345" y="501" width="175" height="2" fill="#000"/><rect x="345" y="503" width="175" height="1" fill="#fff"/><rect x="345" y="504" width="175" height="1" fill="#000"/><rect x="345" y="508" width="175" height="1" fill="#000"/><rect x="345" y="511" width="175" height="6" fill="#fff"/><rect x="345" y="517" width="175" height="1" fill="#000"/><rect x="345" y="521" width="175" height="1" fill="#000"/><rect x="345" y="522" width="175" height="1" fill="#fff"/><rect x="345" y="523" width="175" height="1" fill="#000"/><rect x="345" y="527" width="175" height="2" fill="#000"/><rect x="345" y="529" width="175" height="1" fill="#fff"/><rect x="345" y="535" width="175" height="1" fill="#fff"/><rect x="345" y="539" width="175" height="2" fill="#000"/><rect x="345" y="541" width="175" height="1" fill="#fff"/><rect x="345" y="542" width="175" height="2" fill="#000"/><rect x="345" y="546" width="175" height="1" fill="#fff"/><rect x="345" y="552" width="175" height="1" fill="#000"/><rect x="345" y="555" width="175" height="1" fill="#000"/><rect x="345" y="558" width="175" height="2" fill="#000"/><rect x="345" y="563" width="175" height="1" fill="#000"/><rect x="345" y="566" width="175" height="1" fill="#000"/><rect x="345" y="569" width="175" height="4" fill="#000"/><rect x="345" y="574" width="175" height="4" fill="#000"/><rect x="345" y="579" width="175" height="1" fill="#000"/><rect x="345" y="583" width="175" height="3" fill="#000"/><rect x="345" y="592" width="175" height="1" fill="#fff"/><rect x="345" y="598" width="175" height="1" fill="#000"/><rect x="345" y="603" width="175" height="1" fill="#fff"/><rect x="345" y="610" width="175" height="2" fill="#000"/><rect x="345" y="612" width="175" height="2" fill="#fff"/><rect x="345" y="622" width="175" height="1" fill="#fff"/><rect x="345" y="637" width="175" height="1" fill="#000"/><rect x="345" y="639" width="175" height="1" fill="#fff"/><rect x="345" y="641" width="175" height="2" fill="#fff"/><rect x="345" y="650" width="175" height="2" fill="#000"/><rect x="345" y="653" width="175" height="3" fill="#000"/><rect x="345" y="659" width="175" height="1" fill="#000"/><rect x="345" y="662" width="175" height="2" fill="#000"/><rect x="345" y="664" width="175" height="1" fill="#fff"/><rect x="345" y="665" width="175" height="3" fill="#000"/><rect x="345" y="669" width="175" height="1" fill="#000"/><rect x="345" y="673" width="175" height="2" fill="#000"/><rect x="345" y="676" width="175" height="4" fill="#000"/><rect x="345" y="680" width="175" height="1" fill="#fff"/><rect x="345" y="681" width="175" height="2" fill="#000"/><rect x="345" y="684" width="175" height="3" fill="#000"/><rect x="345" y="688" width="175" height="3" fill="#000"/><rect x="345" y="695" width="175" height="3" fill="#000"/><rect x="345" y="699" width="175" height="1" fill="#000"/><rect x="345" y="701" width="175" height="1" fill="#000"/><rect x="345" y="705" width="175" height="2" fill="#000"/><rect x="345" y="707" width="175" height="1" fill="#fff"/><rect x="345" y="708" width="175" height="6" fill="#000"/><rect x="345" y="717" width="175" height="1" fill="#000"/>
<rect x="344.5" y="80.5" width="176" height="640" fill="none" stroke="#000" stroke-width="1"/>
<g filter="url(#ns2)"></g>
<g filter="url(#nz2)"><rect x="557" y="81" width="176" height="1" fill="#2e2e2e"/><rect x="557" y="82" width="176" height="1" fill="#373737"/><rect x="557" y="83" width="176" height="1" fill="#2c2c2c"/><rect x="557" y="84" width="176" height="1" fill="#2f2f2f"/><rect x="557" y="85" width="176" height="1" fill="#313131"/><rect x="557" y="86" width="176" height="1" fill="#2f2f2f"/><rect x="557" y="87" width="176" height="1" fill="#2e2e2e"/><rect x="557" y="88" width="176" height="1" fill="#2f2f2f"/><rect x="557" y="89" width="176" height="1" fill="#2e2e2e"/><rect x="557" y="90" width="176" height="1" fill="#2f2f2f"/><rect x="557" y="91" width="176" height="1" fill="#2f2f2f"/><rect x="557" y="92" width="176" height="1" fill="#2f2f2f"/><rect x="557" y="93" width="176" height="1" fill="#333333"/><rect x="557" y="94" width="176" height="1" fill="#323232"/><rect x="557" y="95" width="176" height="1" fill="#2f2f2f"/><rect x="557" y="96" width="176" height="1" fill="#333333"/><rect x="557" y="97" width="176" height="1" fill="#303030"/><rect x="557" y="98" width="176" height="1" fill="#2d2d2d"/><rect x="557" y="99" width="176" height="1" fill="#303030"/><rect x="557" y="100" width="176" height="1" fill="#2e2e2e"/><rect x="557" y="101" width="176" height="1" fill="#2f2f2f"/><rect x="557" y="102" width="176" height="1" fill="#333333"/><rect x="557" y="103" width="176" height="1" fill="#313131"/><rect x="557" y="104" width="176" height="1" fill="#333333"/><rect x="557" y="105" width="176" height="1" fill="#303030"/><rect x="557" y="106" width="176" height="1" fill="#2f2f2f"/><rect x="557" y="107" width="176" height="1" fill="#2f2f2f"/><rect x="557" y="108" width="176" height="1" fill="#2f2f2f"/><rect x="557" y="109" width="176" height="1" fill="#323232"/><rect x="557" y="110" width="176" height="1" fill="#313131"/><rect x="557" y="111" width="176" height="1" fill="#333333"/><rect x="557" y="112" width="176" height="1" fill="#303030"/><rect x="557" y="113" width="176" height="1" fill="#333333"/><rect x="557" y="114" width="176" height="1" fill="#333333"/><rect x="557" y="115" width="176" height="1" fill="#2e2e2e"/><rect x="557" y="116" width="176" height="1" fill="#313131"/><rect x="557" y="117" width="176" height="1" fill="#2e2e2e"/><rect x="557" y="118" width="176" height="1" fill="#303030"/><rect x="557" y="119" width="176" height="1" fill="#2e2e2e"/><rect x="557" y="120" width="176" height="1" fill="#313131"/><rect x="557" y="121" width="176" height="1" fill="#2e2e2e"/><rect x="557" y="122" width="176" height="1" fill="#2e2e2e"/><rect x="557" y="123" width="176" height="1" fill="#323232"/><rect x="557" y="124" width="176" height="1" fill="#323232"/><rect x="557" y="125" width="176" height="1" fill="#333333"/><rect x="557" y="126" width="176" height="1" fill="#333333"/><rect x="557" y="127" width="176" height="1" fill="#323232"/><rect x="557" y="128" width="176" height="1" fill="#323232"/><rect x="557" y="129" width="176" height="1" fill="#2f2f2f"/><rect x="557" y="130" width="176" height="1" fill="#303030"/><rect x="557" y="131" width="176" height="1" fill="#313131"/><rect x="557" y="132" width="176" height="1" fill="#303030"/><rect x="557" y="133" width="176" height="1" fill="#303030"/><rect x="557" y="134" width="176" height="1" fill="#303030"/><rect x="557" y="135" width="176" height="1" fill="#313131"/><rect x="557" y="136" width="176" height="1" fill="#2e2e2e"/><rect x="557" y="137" width="176" height="1" fill="#2e2e2e"/><rect x="557" y="138" width="176" height="1" fill="#323232"/><rect x="557" y="139" width="176" height="1" fill="#333333"/><rect x="557" y="140" width="176" height="1" fill="#2f2f2f"/><rect x="557" y="141" width="176" height="1" fill="#2e2e2e"/><rect x="557" y="142" width="176" height="1" fill="#2f2f2f"/><rect x="557" y="143" width="176" height="1" fill="#333333"/><rect x="557" y="144" width="176" height="1" fill="#303030"/><rect x="557" y="145" width="176" height="1" fill="#333333"/><rect x="557" y="146" width="176" height="1" fill="#303030"/><rect x="557" y="147" width="176" height="1" fill="#2e2e2e"/><rect x="557" y="148" width="176" height="1" fill="#323232"/><rect x="557" y="149" width="176" height="1" fill="#2a2a2a"/><rect x="557" y="150" width="176" height="1" fill="#2e2e2e"/><rect x="557" y="151" width="176" height="1" fill="#303030"/><rect x="557" y="152" width="176" height="1" fill="#2e2e2e"/><rect x="557" y="153" width="176" height="1" fill="#2f2f2f"/><rect x="557" y="154" width="176" height="1" fill="#2c2c2c"/><rect x="557" y="155" width="176" height="1" fill="#2a2a2a"/><rect x="557" y="156" width="176" height="1" fill="#2b2b2b"/><rect x="557" y="157" width="176" height="1" fill="#2f2f2f"/><rect x="557" y="158" width="176" height="1" fill="#2e2e2e"/><rect x="557" y="159" width="176" height="1" fill="#2d2d2d"/><rect x="557" y="160" width="176" height="1" fill="#2b2b2b"/><rect x="557" y="161" width="176" height="1" fill="#2c2c2c"/><rect x="557" y="162" width="176" height="1" fill="#2f2f2f"/><rect x="557" y="163" width="176" height="1" fill="#2a2a2a"/><rect x="557" y="164" width="176" height="1" fill="#2f2f2f"/><rect x="557" y="165" width="176" height="1" fill="#2a2a2a"/><rect x="557" y="166" width="176" height="1" fill="#2e2e2e"/><rect x="557" y="167" width="176" height="1" fill="#2a2a2a"/><rect x="557" y="168" width="176" height="1" fill="#2f2f2f"/><rect x="557" y="169" width="176" height="1" fill="#2b2b2b"/><rect x="557" y="170" width="176" height="1" fill="#2d2d2d"/><rect x="557" y="171" width="176" height="1" fill="#2a2a2a"/><rect x="557" y="172" width="176" height="1" fill="#2e2e2e"/><rect x="557" y="173" width="176" height="1" fill="#303030"/><rect x="557" y="174" width="176" height="1" fill="#2b2b2b"/><rect x="557" y="175" width="176" height="1" fill="#2f2f2f"/><rect x="557" y="176" width="176" height="1" fill="#2a2a2a"/><rect x="557" y="177" width="176" height="1" fill="#2a2a2a"/><rect x="557" y="178" width="176" height="1" fill="#2e2e2e"/><rect x="557" y="179" width="176" height="1" fill="#2b2b2b"/><rect x="557" y="180" width="176" height="1" fill="#2e2e2e"/><rect x="557" y="181" width="176" height="1" fill="#2a2a2a"/><rect x="557" y="182" width="176" height="1" fill="#2a2a2a"/><rect x="557" y="183" width="176" height="1" fill="#2b2b2b"/><rect x="557" y="184" width="176" height="1" fill="#2d2d2d"/><rect x="557" y="185" width="176" height="1" fill="#2b2b2b"/><rect x="557" y="186" width="176" height="1" fill="#2a2a2a"/><rect x="557" y="187" width="176" height="1" fill="#2a2a2a"/><rect x="557" y="188" width="176" height="1" fill="#2c2c2c"/><rect x="557" y="189" width="176" height="1" fill="#2a2a2a"/><rect x="557" y="190" width="176" height="1" fill="#2d2d2d"/><rect x="557" y="191" width="176" height="1" fill="#2a2a2a"/><rect x="557" y="192" width="176" height="1" fill="#2d2d2d"/><rect x="557" y="193" width="176" height="1" fill="#2c2c2c"/><rect x="557" y="194" width="176" height="1" fill="#2a2a2a"/><rect x="557" y="195" width="176" height="1" fill="#2a2a2a"/><rect x="557" y="196" width="176" height="1" fill="#2d2d2d"/><rect x="557" y="197" width="176" height="1" fill="#2e2e2e"/><rect x="557" y="198" width="176" height="1" fill="#2b2b2b"/><rect x="557" y="199" width="176" height="1" fill="#2d2d2d"/><rect x="557" y="200" width="176" height="1" fill="#2a2a2a"/><rect x="557" y="201" width="176" height="1" fill="#2c2c2c"/><rect x="557" y="202" width="176" height="1" fill="#2f2f2f"/><rect x="557" y="203" width="176" height="1" fill="#2b2b2b"/><rect x="557" y="204" width="176" height="1" fill="#2c2c2c"/><rect x="557" y="205" width="176" height="1" fill="#2f2f2f"/><rect x="557" y="206" width="176" height="1" fill="#2b2b2b"/><rect x="557" y="207" width="176" height="1" fill="#2e2e2e"/><rect x="557" y="208" width="176" height="1" fill="#2a2a2a"/><rect x="557" y="209" width="176" height="1" fill="#2b2b2b"/><rect x="557" y="210" width="176" height="1" fill="#2e2e2e"/><rect x="557" y="211" width="176" height="1" fill="#2f2f2f"/><rect x="557" y="212" width="176" height="1" fill="#2b2b2b"/><rect x="557" y="213" width="176" height="1" fill="#2c2c2c"/><rect x="557" y="214" width="176" height="1" fill="#2c2c2c"/><rect x="557" y="215" width="176" height="1" fill="#2b2b2b"/><rect x="557" y="216" width="176" height="1" fill="#2c2c2c"/><rect x="557" y="217" width="176" height="1" fill="#2f2f2f"/><rect x="557" y="218" width="176" height="1" fill="#2d2d2d"/><rect x="557" y="219" width="176" height="1" fill="#2f2f2f"/><rect x="557" y="220" width="176" height="1" fill="#2d2d2d"/><rect x="557" y="221" width="176" height="1" fill="#2e2e2e"/><rect x="557" y="222" width="176" height="1" fill="#2d2d2d"/><rect x="557" y="223" width="176" height="1" fill="#2b2b2b"/><rect x="557" y="224" width="176" height="1" fill="#2d2d2d"/><rect x="557" y="225" width="176" height="1" fill="#2c2c2c"/><rect x="557" y="226" width="176" height="1" fill="#2b2b2b"/><rect x="557" y="227" width="176" height="1" fill="#2b2b2b"/><rect x="557" y="228" width="176" height="1" fill="#2f2f2f"/><rect x="557" y="229" width="176" height="1" fill="#2f2f2f"/><rect x="557" y="230" width="176" height="1" fill="#2f2f2f"/><rect x="557" y="231" width="176" height="1" fill="#2d2d2d"/><rect x="557" y="232" width="176" height="1" fill="#2b2b2b"/><rect x="557" y="233" width="176" height="1" fill="#2c2c2c"/><rect x="557" y="234" width="176" height="1" fill="#2b2b2b"/><rect x="557" y="235" width="176" height="1" fill="#2f2f2f"/><rect x="557" y="236" width="176" height="1" fill="#2f2f2f"/><rect x="557" y="237" width="176" height="1" fill="#2e2e2e"/><rect x="557" y="238" width="176" height="1" fill="#2f2f2f"/><rect x="557" y="239" width="176" height="1" fill="#2f2f2f"/><rect x="557" y="240" width="176" height="1" fill="#313131"/><rect x="557" y="241" width="176" height="1" fill="#323232"/><rect x="557" y="242" width="176" height="1" fill="#313131"/><rect x="557" y="243" width="176" height="1" fill="#323232"/><rect x="557" y="244" width="176" height="1" fill="#303030"/><rect x="557" y="245" width="176" height="1" fill="#313131"/><rect x="557" y="246" width="176" height="1" fill="#303030"/><rect x="557" y="247" width="176" height="1" fill="#2f2f2f"/><rect x="557" y="248" width="176" height="1" fill="#313131"/><rect x="557" y="249" width="176" height="1" fill="#2f2f2f"/><rect x="557" y="250" width="176" height="1" fill="#313131"/><rect x="557" y="251" width="176" height="1" fill="#2e2e2e"/><rect x="557" y="252" width="176" height="1" fill="#323232"/><rect x="557" y="253" width="176" height="1" fill="#313131"/><rect x="557" y="254" width="176" height="1" fill="#2d2d2d"/><rect x="557" y="255" width="176" height="1" fill="#303030"/><rect x="557" y="256" width="176" height="1" fill="#2e2e2e"/><rect x="557" y="257" width="176" height="1" fill="#2d2d2d"/><rect x="557" y="258" width="176" height="1" fill="#2d2d2d"/><rect x="557" y="259" width="176" height="1" fill="#2f2f2f"/><rect x="557" y="260" width="176" height="1" fill="#323232"/><rect x="557" y="261" width="176" height="1" fill="#2e2e2e"/><rect x="557" y="262" width="176" height="1" fill="#2f2f2f"/><rect x="557" y="263" width="176" height="1" fill="#2f2f2f"/><rect x="557" y="264" width="176" height="1" fill="#2d2d2d"/><rect x="557" y="265" width="176" height="1" fill="#303030"/><rect x="557" y="266" width="176" height="1" fill="#2e2e2e"/><rect x="557" y="267" width="176" height="1" fill="#2c2c2c"/><rect x="557" y="268" width="176" height="1" fill="#313131"/><rect x="557" y="269" width="176" height="1" fill="#313131"/><rect x="557" y="270" width="176" height="1" fill="#2c2c2c"/><rect x="557" y="271" width="176" height="1" fill="#2f2f2f"/><rect x="557" y="272" width="176" height="1" fill="#2e2e2e"/><rect x="557" y="273" width="176" height="1" fill="#303030"/><rect x="557" y="274" width="176" height="1" fill="#2e2e2e"/><rect x="557" y="275" width="176" height="1" fill="#303030"/><rect x="557" y="276" width="176" height="1" fill="#2c2c2c"/><rect x="557" y="277" width="176" height="1" fill="#323232"/><rect x="557" y="278" width="176" height="1" fill="#303030"/><rect x="557" y="279" width="176" height="1" fill="#2f2f2f"/><rect x="557" y="280" width="176" height="1" fill="#313131"/><rect x="557" y="281" width="176" height="1" fill="#313131"/><rect x="557" y="282" width="176" height="1" fill="#2e2e2e"/><rect x="557" y="283" width="176" height="1" fill="#2d2d2d"/><rect x="557" y="284" width="176" height="1" fill="#303030"/><rect x="557" y="285" width="176" height="1" fill="#2f2f2f"/><rect x="557" y="286" width="176" height="1" fill="#313131"/><rect x="557" y="287" width="176" height="1" fill="#2d2d2d"/><rect x="557" y="288" width="176" height="1" fill="#313131"/><rect x="557" y="289" width="176" height="1" fill="#313131"/><rect x="557" y="290" width="176" height="1" fill="#2d2d2d"/><rect x="557" y="291" width="176" height="1" fill="#2e2e2e"/><rect x="557" y="292" width="176" height="1" fill="#303030"/><rect x="557" y="293" width="176" height="1" fill="#2e2e2e"/><rect x="557" y="294" width="176" height="1" fill="#2f2f2f"/><rect x="557" y="295" width="176" height="1" fill="#2f2f2f"/><rect x="557" y="296" width="176" height="1" fill="#2f2f2f"/><rect x="557" y="297" width="176" height="1" fill="#2d2d2d"/><rect x="557" y="298" width="176" height="1" fill="#2e2e2e"/><rect x="557" y="299" width="176" height="1" fill="#313131"/><rect x="557" y="300" width="176" height="1" fill="#313131"/><rect x="557" y="301" width="176" height="1" fill="#2d2d2d"/><rect x="557" y="302" width="176" height="1" fill="#303030"/><rect x="557" y="303" width="176" height="1" fill="#313131"/><rect x="557" y="304" width="176" height="1" fill="#303030"/><rect x="557" y="305" width="176" height="1" fill="#323232"/><rect x="557" y="306" width="176" height="1" fill="#303030"/><rect x="557" y="307" width="176" height="1" fill="#2f2f2f"/><rect x="557" y="308" width="176" height="1" fill="#2f2f2f"/><rect x="557" y="309" width="176" height="1" fill="#303030"/><rect x="557" y="310" width="176" height="1" fill="#303030"/><rect x="557" y="311" width="176" height="1" fill="#323232"/><rect x="557" y="312" width="176" height="1" fill="#2d2d2d"/><rect x="557" y="313" width="176" height="1" fill="#2e2e2e"/><rect x="557" y="314" width="176" height="1" fill="#323232"/><rect x="557" y="315" width="176" height="1" fill="#303030"/><rect x="557" y="316" width="176" height="1" fill="#2e2e2e"/><rect x="557" y="317" width="176" height="1" fill="#303030"/><rect x="557" y="318" width="176" height="1" fill="#2c2c2c"/><rect x="557" y="319" width="176" height="1" fill="#2d2d2d"/><rect x="557" y="320" width="176" height="1" fill="#2c2c2c"/><rect x="557" y="321" width="176" height="1" fill="#313131"/><rect x="557" y="322" width="176" height="1" fill="#2d2d2d"/><rect x="557" y="323" width="176" height="1" fill="#2e2e2e"/><rect x="557" y="324" width="176" height="1" fill="#2e2e2e"/><rect x="557" y="325" width="176" height="1" fill="#303030"/><rect x="557" y="326" width="176" height="1" fill="#2d2d2d"/><rect x="557" y="327" width="176" height="1" fill="#2c2c2c"/><rect x="557" y="328" width="176" height="1" fill="#2d2d2d"/><rect x="557" y="329" width="176" height="1" fill="#303030"/><rect x="557" y="330" width="176" height="1" fill="#2e2e2e"/><rect x="557" y="331" width="176" height="1" fill="#2a2a2a"/><rect x="557" y="332" width="176" height="1" fill="#2b2b2b"/><rect x="557" y="333" width="176" height="1" fill="#2b2b2b"/><rect x="557" y="334" width="176" height="1" fill="#2e2e2e"/><rect x="557" y="335" width="176" height="1" fill="#2e2e2e"/><rect x="557" y="336" width="176" height="1" fill="#2a2a2a"/><rect x="557" y="337" width="176" height="1" fill="#2f2f2f"/><rect x="557" y="338" width="176" height="1" fill="#2a2a2a"/><rect x="557" y="339" width="176" height="1" fill="#2c2c2c"/><rect x="557" y="340" width="176" height="1" fill="#282828"/><rect x="557" y="341" width="176" height="1" fill="#252525"/><rect x="557" y="342" width="176" height="1" fill="#262626"/><rect x="557" y="343" width="176" height="1" fill="#2a2a2a"/><rect x="557" y="344" width="176" height="1" fill="#292929"/><rect x="557" y="345" width="176" height="1" fill="#2a2a2a"/><rect x="557" y="346" width="176" height="1" fill="#2b2b2b"/><rect x="557" y="347" width="176" height="1" fill="#2b2b2b"/><rect x="557" y="348" width="176" height="1" fill="#272727"/><rect x="557" y="349" width="176" height="1" fill="#292929"/><rect x="557" y="350" width="176" height="1" fill="#292929"/><rect x="557" y="351" width="176" height="1" fill="#272727"/><rect x="557" y="352" width="176" height="1" fill="#2a2a2a"/><rect x="557" y="353" width="176" height="1" fill="#2b2b2b"/><rect x="557" y="354" width="176" height="1" fill="#292929"/><rect x="557" y="355" width="176" height="1" fill="#2a2a2a"/><rect x="557" y="356" width="176" height="1" fill="#272727"/><rect x="557" y="357" width="176" height="1" fill="#2a2a2a"/><rect x="557" y="358" width="176" height="1" fill="#272727"/><rect x="557" y="359" width="176" height="1" fill="#272727"/><rect x="557" y="360" width="176" height="1" fill="#292929"/><rect x="557" y="361" width="176" height="1" fill="#292929"/><rect x="557" y="362" width="176" height="1" fill="#282828"/><rect x="557" y="363" width="176" height="1" fill="#2a2a2a"/><rect x="557" y="364" width="176" height="1" fill="#2a2a2a"/><rect x="557" y="365" width="176" height="1" fill="#282828"/><rect x="557" y="366" width="176" height="1" fill="#2b2b2b"/><rect x="557" y="367" width="176" height="1" fill="#282828"/><rect x="557" y="368" width="176" height="1" fill="#282828"/><rect x="557" y="369" width="176" height="1" fill="#2b2b2b"/><rect x="557" y="370" width="176" height="1" fill="#272727"/><rect x="557" y="371" width="176" height="1" fill="#262626"/><rect x="557" y="372" width="176" height="1" fill="#2a2a2a"/><rect x="557" y="373" width="176" height="1" fill="#292929"/><rect x="557" y="374" width="176" height="1" fill="#272727"/><rect x="557" y="375" width="176" height="1" fill="#2a2a2a"/><rect x="557" y="376" width="176" height="1" fill="#292929"/><rect x="557" y="377" width="176" height="1" fill="#282828"/><rect x="557" y="378" width="176" height="1" fill="#282828"/><rect x="557" y="379" width="176" height="1" fill="#2b2b2b"/><rect x="557" y="380" width="176" height="1" fill="#292929"/><rect x="557" y="381" width="176" height="1" fill="#262626"/><rect x="557" y="382" width="176" height="1" fill="#282828"/><rect x="557" y="383" width="176" height="1" fill="#272727"/><rect x="557" y="384" width="176" height="1" fill="#2b2b2b"/><rect x="557" y="385" width="176" height="1" fill="#282828"/><rect x="557" y="386" width="176" height="1" fill="#282828"/><rect x="557" y="387" width="176" height="1" fill="#2a2a2a"/><rect x="557" y="388" width="176" height="1" fill="#2a2a2a"/><rect x="557" y="389" width="176" height="1" fill="#262626"/><rect x="557" y="390" width="176" height="1" fill="#292929"/><rect x="557" y="391" width="176" height="1" fill="#2b2b2b"/><rect x="557" y="392" width="176" height="1" fill="#292929"/><rect x="557" y="393" width="176" height="1" fill="#272727"/><rect x="557" y="394" width="176" height="1" fill="#2b2b2b"/><rect x="557" y="395" width="176" height="1" fill="#262626"/><rect x="557" y="396" width="176" height="1" fill="#282828"/><rect x="557" y="397" width="176" height="1" fill="#262626"/><rect x="557" y="398" width="176" height="1" fill="#292929"/><rect x="557" y="399" width="176" height="1" fill="#282828"/><rect x="557" y="400" width="176" height="1" fill="#2b2b2b"/><rect x="557" y="401" width="176" height="1" fill="#262626"/><rect x="557" y="402" width="176" height="1" fill="#282828"/><rect x="557" y="403" width="176" height="1" fill="#272727"/><rect x="557" y="404" width="176" height="1" fill="#262626"/><rect x="557" y="405" width="176" height="1" fill="#2a2a2a"/><rect x="557" y="406" width="176" height="1" fill="#292929"/><rect x="557" y="407" width="176" height="1" fill="#272727"/><rect x="557" y="408" width="176" height="1" fill="#282828"/><rect x="557" y="409" width="176" height="1" fill="#282828"/><rect x="557" y="410" width="176" height="1" fill="#262626"/><rect x="557" y="411" width="176" height="1" fill="#272727"/><rect x="557" y="412" width="176" height="1" fill="#252525"/><rect x="557" y="413" width="176" height="1" fill="#262626"/><rect x="557" y="414" width="176" height="1" fill="#2a2a2a"/><rect x="557" y="415" width="176" height="1" fill="#2a2a2a"/><rect x="557" y="416" width="176" height="1" fill="#272727"/><rect x="557" y="417" width="176" height="1" fill="#252525"/><rect x="557" y="418" width="176" height="1" fill="#2b2b2b"/><rect x="557" y="419" width="176" height="1" fill="#262626"/><rect x="557" y="420" width="176" height="1" fill="#272727"/><rect x="557" y="421" width="176" height="1" fill="#2a2a2a"/><rect x="557" y="422" width="176" height="1" fill="#292929"/><rect x="557" y="423" width="176" height="1" fill="#282828"/><rect x="557" y="424" width="176" height="1" fill="#2a2a2a"/><rect x="557" y="425" width="176" height="1" fill="#2b2b2b"/><rect x="557" y="426" width="176" height="1" fill="#292929"/><rect x="557" y="427" width="176" height="1" fill="#2b2b2b"/><rect x="557" y="428" width="176" height="1" fill="#262626"/><rect x="557" y="429" width="176" height="1" fill="#282828"/><rect x="557" y="430" width="176" height="1" fill="#292929"/><rect x="557" y="431" width="176" height="1" fill="#2a2a2a"/><rect x="557" y="432" width="176" height="1" fill="#282828"/><rect x="557" y="433" width="176" height="1" fill="#292929"/><rect x="557" y="434" width="176" height="1" fill="#272727"/><rect x="557" y="435" width="176" height="1" fill="#2a2a2a"/><rect x="557" y="436" width="176" height="1" fill="#292929"/><rect x="557" y="437" width="176" height="1" fill="#2b2b2b"/><rect x="557" y="438" width="176" height="1" fill="#282828"/><rect x="557" y="439" width="176" height="1" fill="#262626"/><rect x="557" y="440" width="176" height="1" fill="#2a2a2a"/><rect x="557" y="441" width="176" height="1" fill="#282828"/><rect x="557" y="442" width="176" height="1" fill="#262626"/><rect x="557" y="443" width="176" height="1" fill="#2b2b2b"/><rect x="557" y="444" width="176" height="1" fill="#282828"/><rect x="557" y="445" width="176" height="1" fill="#262626"/><rect x="557" y="446" width="176" height="1" fill="#262626"/><rect x="557" y="447" width="176" height="1" fill="#272727"/><rect x="557" y="448" width="176" height="1" fill="#2b2b2b"/><rect x="557" y="449" width="176" height="1" fill="#2a2a2a"/><rect x="557" y="450" width="176" height="1" fill="#252525"/><rect x="557" y="451" width="176" height="1" fill="#2a2a2a"/><rect x="557" y="452" width="176" height="1" fill="#272727"/><rect x="557" y="453" width="176" height="1" fill="#282828"/><rect x="557" y="454" width="176" height="1" fill="#2a2a2a"/><rect x="557" y="455" width="176" height="1" fill="#272727"/><rect x="557" y="456" width="176" height="1" fill="#272727"/><rect x="557" y="457" width="176" height="1" fill="#2b2b2b"/><rect x="557" y="458" width="176" height="1" fill="#2a2a2a"/><rect x="557" y="459" width="176" height="1" fill="#2a2a2a"/><rect x="557" y="460" width="176" height="1" fill="#2a2a2a"/><rect x="557" y="461" width="176" height="1" fill="#2b2b2b"/><rect x="557" y="462" width="176" height="1" fill="#2a2a2a"/><rect x="557" y="463" width="176" height="1" fill="#2a2a2a"/><rect x="557" y="464" width="176" height="1" fill="#272727"/><rect x="557" y="465" width="176" height="1" fill="#2a2a2a"/><rect x="557" y="466" width="176" height="1" fill="#2b2b2b"/><rect x="557" y="467" width="176" height="1" fill="#292929"/><rect x="557" y="468" width="176" height="1" fill="#2a2a2a"/><rect x="557" y="469" width="176" height="1" fill="#262626"/><rect x="557" y="470" width="176" height="1" fill="#282828"/><rect x="557" y="471" width="176" height="1" fill="#282828"/><rect x="557" y="472" width="176" height="1" fill="#2a2a2a"/><rect x="557" y="473" width="176" height="1" fill="#282828"/><rect x="557" y="474" width="176" height="1" fill="#272727"/><rect x="557" y="475" width="176" height="1" fill="#2b2b2b"/><rect x="557" y="476" width="176" height="1" fill="#282828"/><rect x="557" y="477" width="176" height="1" fill="#2a2a2a"/><rect x="557" y="478" width="176" height="1" fill="#2a2a2a"/><rect x="557" y="479" width="176" height="1" fill="#272727"/><rect x="557" y="480" width="176" height="1" fill="#2a2a2a"/><rect x="557" y="481" width="176" height="1" fill="#252525"/><rect x="557" y="482" width="176" height="1" fill="#292929"/><rect x="557" y="483" width="176" height="1" fill="#292929"/><rect x="557" y="484" width="176" height="1" fill="#292929"/><rect x="557" y="485" width="176" height="1" fill="#252525"/><rect x="557" y="486" width="176" height="1" fill="#282828"/><rect x="557" y="487" width="176" height="1" fill="#282828"/><rect x="557" y="488" width="176" height="1" fill="#262626"/><rect x="557" y="489" width="176" height="1" fill="#252525"/><rect x="557" y="490" width="176" height="1" fill="#282828"/><rect x="557" y="491" width="176" height="1" fill="#272727"/><rect x="557" y="492" width="176" height="1" fill="#2a2a2a"/><rect x="557" y="493" width="176" height="1" fill="#262626"/><rect x="557" y="494" width="176" height="1" fill="#272727"/><rect x="557" y="495" width="176" height="1" fill="#282828"/><rect x="557" y="496" width="176" height="1" fill="#252525"/><rect x="557" y="497" width="176" height="1" fill="#252525"/><rect x="557" y="498" width="176" height="1" fill="#252525"/><rect x="557" y="499" width="176" height="1" fill="#2a2a2a"/><rect x="557" y="500" width="176" height="1" fill="#292929"/><rect x="557" y="501" width="176" height="1" fill="#252525"/><rect x="557" y="502" width="176" height="1" fill="#262626"/><rect x="557" y="503" width="176" height="1" fill="#292929"/><rect x="557" y="504" width="176" height="1" fill="#252525"/><rect x="557" y="505" width="176" height="1" fill="#252525"/><rect x="557" y="506" width="176" height="1" fill="#262626"/><rect x="557" y="507" width="176" height="1" fill="#292929"/><rect x="557" y="508" width="176" height="1" fill="#262626"/><rect x="557" y="509" width="176" height="1" fill="#292929"/><rect x="557" y="510" width="176" height="1" fill="#252525"/><rect x="557" y="511" width="176" height="1" fill="#282828"/><rect x="557" y="512" width="176" height="1" fill="#292929"/><rect x="557" y="513" width="176" height="1" fill="#282828"/><rect x="557" y="514" width="176" height="1" fill="#262626"/><rect x="557" y="515" width="176" height="1" fill="#272727"/><rect x="557" y="516" width="176" height="1" fill="#262626"/><rect x="557" y="517" width="176" height="1" fill="#262626"/><rect x="557" y="518" width="176" height="1" fill="#262626"/><rect x="557" y="519" width="176" height="1" fill="#2a2a2a"/><rect x="557" y="520" width="176" height="1" fill="#262626"/><rect x="557" y="521" width="176" height="1" fill="#272727"/><rect x="557" y="522" width="176" height="1" fill="#292929"/><rect x="557" y="523" width="176" height="1" fill="#252525"/><rect x="557" y="524" width="176" height="1" fill="#292929"/><rect x="557" y="525" width="176" height="1" fill="#2a2a2a"/><rect x="557" y="526" width="176" height="1" fill="#282828"/><rect x="557" y="527" width="176" height="1" fill="#2a2a2a"/><rect x="557" y="528" width="176" height="1" fill="#272727"/><rect x="557" y="529" width="176" height="1" fill="#292929"/><rect x="557" y="530" width="176" height="1" fill="#2b2b2b"/><rect x="557" y="531" width="176" height="1" fill="#272727"/><rect x="557" y="532" width="176" height="1" fill="#272727"/><rect x="557" y="533" width="176" height="1" fill="#2a2a2a"/><rect x="557" y="534" width="176" height="1" fill="#292929"/><rect x="557" y="535" width="176" height="1" fill="#282828"/><rect x="557" y="536" width="176" height="1" fill="#272727"/><rect x="557" y="537" width="176" height="1" fill="#292929"/><rect x="557" y="538" width="176" height="1" fill="#2a2a2a"/><rect x="557" y="539" width="176" height="1" fill="#282828"/><rect x="557" y="540" width="176" height="1" fill="#272727"/><rect x="557" y="541" width="176" height="1" fill="#282828"/><rect x="557" y="542" width="176" height="1" fill="#252525"/><rect x="557" y="543" width="176" height="1" fill="#2a2a2a"/><rect x="557" y="544" width="176" height="1" fill="#292929"/><rect x="557" y="545" width="176" height="1" fill="#282828"/><rect x="557" y="546" width="176" height="1" fill="#292929"/><rect x="557" y="547" width="176" height="1" fill="#292929"/><rect x="557" y="548" width="176" height="1" fill="#272727"/><rect x="557" y="549" width="176" height="1" fill="#282828"/><rect x="557" y="550" width="176" height="1" fill="#262626"/><rect x="557" y="551" width="176" height="1" fill="#282828"/><rect x="557" y="552" width="176" height="1" fill="#282828"/><rect x="557" y="553" width="176" height="1" fill="#282828"/><rect x="557" y="554" width="176" height="1" fill="#262626"/><rect x="557" y="555" width="176" height="1" fill="#262626"/><rect x="557" y="556" width="176" height="1" fill="#252525"/><rect x="557" y="557" width="176" height="1" fill="#272727"/><rect x="557" y="558" width="176" height="1" fill="#282828"/><rect x="557" y="559" width="176" height="1" fill="#272727"/><rect x="557" y="560" width="176" height="1" fill="#292929"/><rect x="557" y="561" width="176" height="1" fill="#272727"/><rect x="557" y="562" width="176" height="1" fill="#272727"/><rect x="557" y="563" width="176" height="1" fill="#262626"/><rect x="557" y="564" width="176" height="1" fill="#282828"/><rect x="557" y="565" width="176" height="1" fill="#262626"/><rect x="557" y="566" width="176" height="1" fill="#262626"/><rect x="557" y="567" width="176" height="1" fill="#272727"/><rect x="557" y="568" width="176" height="1" fill="#282828"/><rect x="557" y="569" width="176" height="1" fill="#282828"/><rect x="557" y="570" width="176" height="1" fill="#262626"/><rect x="557" y="571" width="176" height="1" fill="#282828"/><rect x="557" y="572" width="176" height="1" fill="#292929"/><rect x="557" y="573" width="176" height="1" fill="#262626"/><rect x="557" y="574" width="176" height="1" fill="#252525"/><rect x="557" y="575" width="176" height="1" fill="#2a2a2a"/><rect x="557" y="576" width="176" height="1" fill="#272727"/><rect x="557" y="577" width="176" height="1" fill="#282828"/><rect x="557" y="578" width="176" height="1" fill="#272727"/><rect x="557" y="579" width="176" height="1" fill="#282828"/><rect x="557" y="580" width="176" height="1" fill="#262626"/><rect x="557" y="581" width="176" height="1" fill="#252525"/><rect x="557" y="582" width="176" height="1" fill="#292929"/><rect x="557" y="583" width="176" height="1" fill="#292929"/><rect x="557" y="584" width="176" height="1" fill="#2a2a2a"/><rect x="557" y="585" width="176" height="1" fill="#282828"/><rect x="557" y="586" width="176" height="1" fill="#2a2a2a"/><rect x="557" y="587" width="176" height="1" fill="#282828"/><rect x="557" y="588" width="176" height="1" fill="#2b2b2b"/><rect x="557" y="589" width="176" height="1" fill="#252525"/><rect x="557" y="590" width="176" height="1" fill="#262626"/><rect x="557" y="591" width="176" height="1" fill="#2e2e2e"/><rect x="557" y="592" width="176" height="1" fill="#2c2c2c"/><rect x="557" y="593" width="176" height="1" fill="#2d2d2d"/><rect x="557" y="594" width="176" height="1" fill="#2f2f2f"/><rect x="557" y="595" width="176" height="1" fill="#2b2b2b"/><rect x="557" y="596" width="176" height="1" fill="#2a2a2a"/><rect x="557" y="597" width="176" height="1" fill="#2a2a2a"/><rect x="557" y="598" width="176" height="1" fill="#2d2d2d"/><rect x="557" y="599" width="176" height="1" fill="#2f2f2f"/><rect x="557" y="600" width="176" height="1" fill="#2b2b2b"/><rect x="557" y="601" width="176" height="1" fill="#2d2d2d"/><rect x="557" y="602" width="176" height="1" fill="#2c2c2c"/><rect x="557" y="603" width="176" height="1" fill="#2d2d2d"/><rect x="557" y="604" width="176" height="1" fill="#2f2f2f"/><rect x="557" y="605" width="176" height="1" fill="#2f2f2f"/><rect x="557" y="606" width="176" height="1" fill="#2d2d2d"/><rect x="557" y="607" width="176" height="1" fill="#2c2c2c"/><rect x="557" y="608" width="176" height="1" fill="#2f2f2f"/><rect x="557" y="609" width="176" height="1" fill="#2c2c2c"/><rect x="557" y="610" width="176" height="1" fill="#2b2b2b"/><rect x="557" y="611" width="176" height="1" fill="#2c2c2c"/><rect x="557" y="612" width="176" height="1" fill="#2e2e2e"/><rect x="557" y="613" width="176" height="1" fill="#2b2b2b"/><rect x="557" y="614" width="176" height="1" fill="#2e2e2e"/><rect x="557" y="615" width="176" height="1" fill="#2c2c2c"/><rect x="557" y="616" width="176" height="1" fill="#2a2a2a"/><rect x="557" y="617" width="176" height="1" fill="#2e2e2e"/><rect x="557" y="618" width="176" height="1" fill="#2f2f2f"/><rect x="557" y="619" width="176" height="1" fill="#2f2f2f"/><rect x="557" y="620" width="176" height="1" fill="#303030"/><rect x="557" y="621" width="176" height="1" fill="#2a2a2a"/><rect x="557" y="622" width="176" height="1" fill="#303030"/><rect x="557" y="623" width="176" height="1" fill="#2f2f2f"/><rect x="557" y="624" width="176" height="1" fill="#2f2f2f"/><rect x="557" y="625" width="176" height="1" fill="#2a2a2a"/><rect x="557" y="626" width="176" height="1" fill="#2e2e2e"/><rect x="557" y="627" width="176" height="1" fill="#2b2b2b"/><rect x="557" y="628" width="176" height="1" fill="#2f2f2f"/><rect x="557" y="629" width="176" height="1" fill="#2b2b2b"/><rect x="557" y="630" width="176" height="1" fill="#2a2a2a"/><rect x="557" y="631" width="176" height="1" fill="#2d2d2d"/><rect x="557" y="632" width="176" height="1" fill="#2e2e2e"/><rect x="557" y="633" width="176" height="1" fill="#2d2d2d"/><rect x="557" y="634" width="176" height="1" fill="#2c2c2c"/><rect x="557" y="635" width="176" height="1" fill="#2a2a2a"/><rect x="557" y="636" width="176" height="1" fill="#2e2e2e"/><rect x="557" y="637" width="176" height="1" fill="#2a2a2a"/><rect x="557" y="638" width="176" height="1" fill="#2d2d2d"/><rect x="557" y="639" width="176" height="1" fill="#2a2a2a"/><rect x="557" y="640" width="176" height="1" fill="#2c2c2c"/><rect x="557" y="641" width="176" height="1" fill="#2d2d2d"/><rect x="557" y="642" width="176" height="1" fill="#2b2b2b"/><rect x="557" y="643" width="176" height="1" fill="#2e2e2e"/><rect x="557" y="644" width="176" height="1" fill="#2b2b2b"/><rect x="557" y="645" width="176" height="1" fill="#2f2f2f"/><rect x="557" y="646" width="176" height="1" fill="#2c2c2c"/><rect x="557" y="647" width="176" height="1" fill="#2e2e2e"/><rect x="557" y="648" width="176" height="1" fill="#2c2c2c"/><rect x="557" y="649" width="176" height="1" fill="#2c2c2c"/><rect x="557" y="650" width="176" height="1" fill="#2a2a2a"/><rect x="557" y="651" width="176" height="1" fill="#292929"/><rect x="557" y="652" width="176" height="1" fill="#262626"/><rect x="557" y="653" width="176" height="1" fill="#282828"/><rect x="557" y="654" width="176" height="1" fill="#282828"/><rect x="557" y="655" width="176" height="1" fill="#272727"/><rect x="557" y="656" width="176" height="1" fill="#272727"/><rect x="557" y="657" width="176" height="1" fill="#282828"/><rect x="557" y="658" width="176" height="1" fill="#2b2b2b"/><rect x="557" y="659" width="176" height="1" fill="#2a2a2a"/><rect x="557" y="660" width="176" height="1" fill="#272727"/><rect x="557" y="661" width="176" height="1" fill="#292929"/><rect x="557" y="662" width="176" height="1" fill="#292929"/><rect x="557" y="663" width="176" height="1" fill="#2a2a2a"/><rect x="557" y="664" width="176" height="1" fill="#292929"/><rect x="557" y="665" width="176" height="1" fill="#262626"/><rect x="557" y="666" width="176" height="1" fill="#262626"/><rect x="557" y="667" width="176" height="1" fill="#2a2a2a"/><rect x="557" y="668" width="176" height="1" fill="#272727"/><rect x="557" y="669" width="176" height="1" fill="#292929"/><rect x="557" y="670" width="176" height="1" fill="#262626"/><rect x="557" y="671" width="176" height="1" fill="#292929"/><rect x="557" y="672" width="176" height="1" fill="#272727"/><rect x="557" y="673" width="176" height="1" fill="#252525"/><rect x="557" y="674" width="176" height="1" fill="#252525"/><rect x="557" y="675" width="176" height="1" fill="#272727"/><rect x="557" y="676" width="176" height="1" fill="#282828"/><rect x="557" y="677" width="176" height="1" fill="#2a2a2a"/><rect x="557" y="678" width="176" height="1" fill="#252525"/><rect x="557" y="679" width="176" height="1" fill="#282828"/><rect x="557" y="680" width="176" height="1" fill="#272727"/><rect x="557" y="681" width="176" height="1" fill="#292929"/><rect x="557" y="682" width="176" height="1" fill="#2a2a2a"/><rect x="557" y="683" width="176" height="1" fill="#262626"/><rect x="557" y="684" width="176" height="1" fill="#272727"/><rect x="557" y="685" width="176" height="1" fill="#2b2b2b"/><rect x="557" y="686" width="176" height="1" fill="#292929"/><rect x="557" y="687" width="176" height="1" fill="#262626"/><rect x="557" y="688" width="176" height="1" fill="#292929"/><rect x="557" y="689" width="176" height="1" fill="#272727"/><rect x="557" y="690" width="176" height="1" fill="#262626"/><rect x="557" y="691" width="176" height="1" fill="#282828"/><rect x="557" y="692" width="176" height="1" fill="#282828"/><rect x="557" y="693" width="176" height="1" fill="#292929"/><rect x="557" y="694" width="176" height="1" fill="#2b2b2b"/><rect x="557" y="695" width="176" height="1" fill="#272727"/><rect x="557" y="696" width="176" height="1" fill="#2b2b2b"/><rect x="557" y="697" width="176" height="1" fill="#272727"/><rect x="557" y="698" width="176" height="1" fill="#292929"/><rect x="557" y="699" width="176" height="1" fill="#282828"/><rect x="557" y="700" width="176" height="1" fill="#282828"/><rect x="557" y="701" width="176" height="1" fill="#292929"/><rect x="557" y="702" width="176" height="1" fill="#2a2a2a"/><rect x="557" y="703" width="176" height="1" fill="#262626"/><rect x="557" y="704" width="176" height="1" fill="#252525"/><rect x="557" y="705" width="176" height="1" fill="#272727"/><rect x="557" y="706" width="176" height="1" fill="#272727"/><rect x="557" y="707" width="176" height="1" fill="#282828"/><rect x="557" y="708" width="176" height="1" fill="#2b2b2b"/><rect x="557" y="709" width="176" height="1" fill="#272727"/><rect x="557" y="710" width="176" height="1" fill="#272727"/><rect x="557" y="711" width="176" height="1" fill="#282828"/><rect x="557" y="712" width="176" height="1" fill="#272727"/><rect x="557" y="713" width="176" height="1" fill="#282828"/><rect x="557" y="714" width="176" height="1" fill="#282828"/><rect x="557" y="715" width="176" height="1" fill="#262626"/><rect x="557" y="716" width="176" height="1" fill="#2a2a2a"/><rect x="557" y="717" width="176" height="1" fill="#292929"/><rect x="557" y="718" width="176" height="1" fill="#2a2a2a"/><rect x="557" y="719" width="176" height="1" fill="#282828"/></g>
<g filter="url(#nr2)"><rect x="668.35" y="84" width="11.30" height="8" fill="#4a4a4a"/><rect x="681.95" y="84" width="11.60" height="8" fill="#4a4a4a"/><rect x="695.65" y="84" width="11.80" height="8" fill="#4a4a4a"/><rect x="709.45" y="84" width="11.80" height="8" fill="#4a4a4a"/><rect x="668.35" y="93" width="11.30" height="5" fill="#454545"/><rect x="681.95" y="93" width="11.60" height="5" fill="#454545"/><rect x="695.65" y="93" width="11.80" height="5" fill="#454545"/><rect x="709.45" y="93" width="11.80" height="5" fill="#454545"/><rect x="668.35" y="99" width="11.30" height="7" fill="#4a4a4a"/><rect x="681.95" y="99" width="11.60" height="7" fill="#4a4a4a"/><rect x="695.65" y="99" width="11.80" height="7" fill="#4a4a4a"/><rect x="709.45" y="99" width="11.80" height="7" fill="#4a4a4a"/><rect x="668.35" y="107" width="11.30" height="6" fill="#454545"/><rect x="681.95" y="107" width="11.60" height="6" fill="#454545"/><rect x="695.65" y="107" width="11.80" height="6" fill="#454545"/><rect x="709.45" y="107" width="11.80" height="6" fill="#454545"/><rect x="668.35" y="114" width="11.30" height="4" fill="#3b3b3b"/><rect x="681.95" y="114" width="11.60" height="4" fill="#3b3b3b"/><rect x="695.65" y="114" width="11.80" height="4" fill="#3b3b3b"/><rect x="709.45" y="114" width="11.80" height="4" fill="#3b3b3b"/><rect x="668.35" y="121" width="11.30" height="14" fill="#383838"/><rect x="681.95" y="121" width="11.60" height="14" fill="#383838"/><rect x="695.65" y="121" width="11.80" height="14" fill="#383838"/><rect x="709.45" y="121" width="11.80" height="14" fill="#383838"/><rect x="668.35" y="143" width="11.30" height="6" fill="#3b3b3b"/><rect x="681.95" y="143" width="11.60" height="6" fill="#3b3b3b"/><rect x="695.65" y="143" width="11.80" height="6" fill="#3b3b3b"/><rect x="709.45" y="143" width="11.80" height="6" fill="#3b3b3b"/><rect x="668.35" y="152" width="11.30" height="9" fill="#404040"/><rect x="681.95" y="152" width="11.60" height="9" fill="#404040"/><rect x="695.65" y="152" width="11.80" height="9" fill="#404040"/><rect x="709.45" y="152" width="11.80" height="9" fill="#404040"/><rect x="668.35" y="162" width="11.30" height="5" fill="#3d3d3d"/><rect x="681.95" y="162" width="11.60" height="5" fill="#3d3d3d"/><rect x="695.65" y="162" width="11.80" height="5" fill="#3d3d3d"/><rect x="709.45" y="162" width="11.80" height="5" fill="#3d3d3d"/><rect x="668.35" y="173" width="11.30" height="1" fill="#999999"/><rect x="681.95" y="173" width="11.60" height="1" fill="#999999"/><rect x="695.65" y="173" width="11.80" height="1" fill="#999999"/><rect x="709.45" y="173" width="11.80" height="1" fill="#999999"/><rect x="668.35" y="174" width="11.30" height="3" fill="#6e6e6e"/><rect x="681.95" y="174" width="11.60" height="3" fill="#6e6e6e"/><rect x="695.65" y="174" width="11.80" height="3" fill="#6e6e6e"/><rect x="709.45" y="174" width="11.80" height="3" fill="#6e6e6e"/><rect x="668.35" y="178" width="11.30" height="1" fill="#8c8c8c"/><rect x="681.95" y="178" width="11.60" height="1" fill="#8c8c8c"/><rect x="695.65" y="178" width="11.80" height="1" fill="#8c8c8c"/><rect x="709.45" y="178" width="11.80" height="1" fill="#8c8c8c"/><rect x="668.35" y="179" width="11.30" height="5" fill="#666666"/><rect x="681.95" y="179" width="11.60" height="5" fill="#666666"/><rect x="695.65" y="179" width="11.80" height="5" fill="#666666"/><rect x="709.45" y="179" width="11.80" height="5" fill="#666666"/><rect x="668.35" y="185" width="11.30" height="4" fill="#6b6b6b"/><rect x="681.95" y="185" width="11.60" height="4" fill="#6b6b6b"/><rect x="695.65" y="185" width="11.80" height="4" fill="#6b6b6b"/><rect x="709.45" y="185" width="11.80" height="4" fill="#6b6b6b"/><rect x="668.35" y="190" width="11.30" height="6" fill="#6b6b6b"/><rect x="681.95" y="190" width="11.60" height="6" fill="#6b6b6b"/><rect x="695.65" y="190" width="11.80" height="6" fill="#6b6b6b"/><rect x="709.45" y="190" width="11.80" height="6" fill="#6b6b6b"/><rect x="668.35" y="204" width="11.30" height="1" fill="#474747"/><rect x="681.95" y="204" width="11.60" height="1" fill="#474747"/><rect x="695.65" y="204" width="11.80" height="1" fill="#474747"/><rect x="709.45" y="204" width="11.80" height="1" fill="#474747"/><rect x="668.35" y="206" width="11.30" height="5" fill="#575757"/><rect x="681.95" y="206" width="11.60" height="5" fill="#575757"/><rect x="695.65" y="206" width="11.80" height="5" fill="#575757"/><rect x="709.45" y="206" width="11.80" height="5" fill="#575757"/><rect x="668.35" y="212" width="11.30" height="4" fill="#525252"/><rect x="681.95" y="212" width="11.60" height="4" fill="#525252"/><rect x="695.65" y="212" width="11.80" height="4" fill="#525252"/><rect x="709.45" y="212" width="11.80" height="4" fill="#525252"/><rect x="668.35" y="219" width="11.30" height="12" fill="#3d3d3d"/><rect x="681.95" y="219" width="11.60" height="12" fill="#3d3d3d"/><rect x="695.65" y="219" width="11.80" height="12" fill="#3d3d3d"/><rect x="709.45" y="219" width="11.80" height="12" fill="#3d3d3d"/><rect x="668.35" y="238" width="11.30" height="24" fill="#424242"/><rect x="681.95" y="238" width="11.60" height="24" fill="#424242"/><rect x="695.65" y="238" width="11.80" height="24" fill="#424242"/><rect x="709.45" y="238" width="11.80" height="24" fill="#424242"/><rect x="668.35" y="262" width="11.30" height="5" fill="#545454"/><rect x="681.95" y="262" width="11.60" height="5" fill="#545454"/><rect x="695.65" y="262" width="11.80" height="5" fill="#545454"/><rect x="709.45" y="262" width="11.80" height="5" fill="#545454"/><rect x="668.35" y="267" width="11.30" height="38" fill="#424242"/><rect x="681.95" y="267" width="11.60" height="38" fill="#424242"/><rect x="695.65" y="267" width="11.80" height="38" fill="#424242"/><rect x="709.45" y="267" width="11.80" height="38" fill="#424242"/><rect x="668.35" y="305" width="11.30" height="2" fill="#5c5c5c"/><rect x="681.95" y="305" width="11.60" height="2" fill="#5c5c5c"/><rect x="695.65" y="305" width="11.80" height="2" fill="#5c5c5c"/><rect x="709.45" y="305" width="11.80" height="2" fill="#5c5c5c"/><rect x="668.35" y="307" width="11.30" height="1" fill="#424242"/><rect x="681.95" y="307" width="11.60" height="1" fill="#424242"/><rect x="695.65" y="307" width="11.80" height="1" fill="#424242"/><rect x="709.45" y="307" width="11.80" height="1" fill="#424242"/><rect x="668.35" y="308" width="11.30" height="5" fill="#5c5c5c"/><rect x="681.95" y="308" width="11.60" height="5" fill="#5c5c5c"/><rect x="695.65" y="308" width="11.80" height="5" fill="#5c5c5c"/><rect x="709.45" y="308" width="11.80" height="5" fill="#5c5c5c"/><rect x="668.35" y="313" width="11.30" height="5" fill="#424242"/><rect x="681.95" y="313" width="11.60" height="5" fill="#424242"/><rect x="695.65" y="313" width="11.80" height="5" fill="#424242"/><rect x="709.45" y="313" width="11.80" height="5" fill="#424242"/><rect x="668.35" y="321" width="11.30" height="156" fill="#3e3e3e"/><rect x="681.95" y="321" width="11.60" height="156" fill="#3e3e3e"/><rect x="695.65" y="321" width="11.80" height="156" fill="#3e3e3e"/><rect x="709.45" y="321" width="11.80" height="156" fill="#3e3e3e"/><rect x="668.35" y="477" width="11.30" height="9" fill="#5c5c5c"/><rect x="681.95" y="477" width="11.60" height="9" fill="#5c5c5c"/><rect x="695.65" y="477" width="11.80" height="9" fill="#5c5c5c"/><rect x="709.45" y="477" width="11.80" height="9" fill="#5c5c5c"/><rect x="668.35" y="494" width="11.30" height="7" fill="#666666"/><rect x="681.95" y="494" width="11.60" height="7" fill="#666666"/><rect x="695.65" y="494" width="11.80" height="7" fill="#666666"/><rect x="709.45" y="494" width="11.80" height="7" fill="#666666"/><rect x="668.35" y="505" width="11.30" height="6" fill="#737373"/><rect x="681.95" y="505" width="11.60" height="6" fill="#737373"/><rect x="695.65" y="505" width="11.80" height="6" fill="#737373"/><rect x="709.45" y="505" width="11.80" height="6" fill="#737373"/><rect x="668.35" y="518" width="11.30" height="17" fill="#4c4c4c"/><rect x="681.95" y="518" width="11.60" height="17" fill="#4c4c4c"/><rect x="695.65" y="518" width="11.80" height="17" fill="#4c4c4c"/><rect x="709.45" y="518" width="11.80" height="17" fill="#4c4c4c"/><rect x="668.35" y="536" width="11.30" height="22" fill="#454545"/><rect x="681.95" y="536" width="11.60" height="22" fill="#454545"/><rect x="695.65" y="536" width="11.80" height="22" fill="#454545"/><rect x="709.45" y="536" width="11.80" height="22" fill="#454545"/><rect x="668.35" y="560" width="11.30" height="24" fill="#303030"/><rect x="681.95" y="560" width="11.60" height="24" fill="#303030"/><rect x="695.65" y="560" width="11.80" height="24" fill="#303030"/><rect x="709.45" y="560" width="11.80" height="24" fill="#303030"/><rect x="668.35" y="586" width="11.30" height="12" fill="#404040"/><rect x="681.95" y="586" width="11.60" height="12" fill="#404040"/><rect x="695.65" y="586" width="11.80" height="12" fill="#404040"/><rect x="709.45" y="586" width="11.80" height="12" fill="#404040"/><rect x="668.35" y="599" width="11.30" height="12" fill="#3d3d3d"/><rect x="681.95" y="599" width="11.60" height="12" fill="#3d3d3d"/><rect x="695.65" y="599" width="11.80" height="12" fill="#3d3d3d"/><rect x="709.45" y="599" width="11.80" height="12" fill="#3d3d3d"/><rect x="668.35" y="614" width="11.30" height="27" fill="#383838"/><rect x="681.95" y="614" width="11.60" height="27" fill="#383838"/><rect x="695.65" y="614" width="11.80" height="27" fill="#383838"/><rect x="709.45" y="614" width="11.80" height="27" fill="#383838"/><rect x="668.35" y="643" width="11.30" height="77" fill="#303030"/><rect x="681.95" y="643" width="11.60" height="77" fill="#303030"/><rect x="695.65" y="643" width="11.80" height="77" fill="#303030"/><rect x="709.45" y="643" width="11.80" height="77" fill="#303030"/></g>
<rect x="557" y="81" width="176" height="1" fill="#000"/><rect x="557" y="83" width="176" height="1" fill="#000"/><rect x="557" y="92" width="176" height="1" fill="#000"/><rect x="557" y="96" width="176" height="1" fill="#000"/><rect x="557" y="98" width="176" height="1" fill="#000"/><rect x="557" y="106" width="176" height="1" fill="#000"/><rect x="557" y="113" width="176" height="1" fill="#000"/><rect x="557" y="118" width="176" height="1" fill="#000"/><rect x="557" y="119" width="176" height="2" fill="#fff"/><rect x="557" y="124" width="176" height="1" fill="#000"/><rect x="557" y="127" width="176" height="1" fill="#000"/><rect x="557" y="136" width="176" height="2" fill="#fff"/><rect x="557" y="138" width="176" height="1" fill="#000"/><rect x="557" y="139" width="176" height="2" fill="#fff"/><rect x="557" y="142" width="176" height="1" fill="#fff"/><rect x="557" y="149" width="176" height="1" fill="#000"/><rect x="557" y="150" width="176" height="2" fill="#fff"/><rect x="557" y="161" width="176" height="1" fill="#000"/><rect x="557" y="165" width="176" height="1" fill="#000"/><rect x="557" y="167" width="176" height="1" fill="#000"/><rect x="557" y="170" width="176" height="3" fill="#000"/><rect x="557" y="177" width="176" height="1" fill="#000"/><rect x="557" y="184" width="176" height="1" fill="#000"/><rect x="557" y="189" width="176" height="1" fill="#000"/><rect x="557" y="196" width="176" height="1" fill="#000"/><rect x="557" y="197" width="176" height="1" fill="#fff"/><rect x="557" y="199" width="176" height="4" fill="#fff"/><rect x="557" y="203" width="176" height="1" fill="#000"/><rect x="557" y="205" width="176" height="1" fill="#000"/><rect x="557" y="211" width="176" height="1" fill="#000"/><rect x="557" y="216" width="176" height="1" fill="#000"/><rect x="557" y="217" width="176" height="2" fill="#fff"/><rect x="557" y="221" width="176" height="1" fill="#fff"/><rect x="557" y="223" width="176" height="3" fill="#fff"/><rect x="557" y="231" width="176" height="1" fill="#000"/><rect x="557" y="232" width="176" height="6" fill="#fff"/><rect x="557" y="240" width="176" height="1" fill="#fff"/><rect x="557" y="244" width="176" height="1" fill="#000"/><rect x="557" y="245" width="176" height="2" fill="#fff"/><rect x="557" y="249" width="176" height="1" fill="#fff"/><rect x="557" y="252" width="176" height="1" fill="#fff"/><rect x="557" y="260" width="176" height="1" fill="#fff"/><rect x="557" y="261" width="176" height="1" fill="#000"/><rect x="557" y="264" width="176" height="1" fill="#fff"/><rect x="557" y="267" width="176" height="2" fill="#000"/><rect x="557" y="269" width="176" height="2" fill="#fff"/><rect x="557" y="275" width="176" height="1" fill="#000"/><rect x="557" y="280" width="176" height="1" fill="#000"/><rect x="557" y="282" width="176" height="1" fill="#000"/><rect x="557" y="285" width="176" height="1" fill="#000"/><rect x="557" y="287" width="176" height="1" fill="#000"/><rect x="557" y="292" width="176" height="1" fill="#000"/><rect x="557" y="295" width="176" height="2" fill="#000"/><rect x="557" y="300" width="176" height="1" fill="#000"/><rect x="557" y="301" width="176" height="1" fill="#fff"/><rect x="557" y="303" width="176" height="2" fill="#fff"/><rect x="557" y="307" width="176" height="1" fill="#fff"/><rect x="557" y="313" width="176" height="1" fill="#000"/><rect x="557" y="318" width="176" height="3" fill="#fff"/><rect x="557" y="330" width="176" height="1" fill="#fff"/><rect x="557" y="333" width="176" height="1" fill="#000"/><rect x="557" y="340" width="176" height="3" fill="#fff"/><rect x="557" y="345" width="176" height="1" fill="#fff"/><rect x="557" y="348" width="176" height="1" fill="#000"/><rect x="557" y="351" width="176" height="2" fill="#000"/><rect x="557" y="358" width="176" height="2" fill="#000"/><rect x="557" y="366" width="176" height="1" fill="#000"/><rect x="557" y="367" width="176" height="1" fill="#fff"/><rect x="557" y="371" width="176" height="1" fill="#fff"/><rect x="557" y="375" width="176" height="1" fill="#fff"/><rect x="557" y="376" width="176" height="2" fill="#000"/><rect x="557" y="379" width="176" height="1" fill="#000"/><rect x="557" y="381" width="176" height="3" fill="#000"/><rect x="557" y="384" width="176" height="1" fill="#fff"/><rect x="557" y="388" width="176" height="1" fill="#000"/><rect x="557" y="390" width="176" height="1" fill="#000"/><rect x="557" y="391" width="176" height="1" fill="#fff"/><rect x="557" y="392" width="176" height="1" fill="#000"/><rect x="557" y="405" width="176" height="1" fill="#fff"/><rect x="557" y="406" width="176" height="2" fill="#000"/><rect x="557" y="414" width="176" height="1" fill="#fff"/><rect x="557" y="415" width="176" height="2" fill="#000"/><rect x="557" y="424" width="176" height="1" fill="#000"/><rect x="557" y="426" width="176" height="1" fill="#000"/><rect x="557" y="432" width="176" height="1" fill="#000"/><rect x="557" y="435" width="176" height="1" fill="#000"/><rect x="557" y="441" width="176" height="1" fill="#000"/><rect x="557" y="445" width="176" height="4" fill="#fff"/><rect x="557" y="449" width="176" height="2" fill="#000"/><rect x="557" y="457" width="176" height="1" fill="#000"/><rect x="557" y="461" width="176" height="1" fill="#000"/><rect x="557" y="464" width="176" height="2" fill="#000"/><rect x="557" y="468" width="176" height="1" fill="#000"/><rect x="557" y="472" width="176" height="1" fill="#000"/><rect x="557" y="476" width="176" height="1" fill="#000"/><rect x="557" y="478" width="176" height="1" fill="#000"/><rect x="557" y="481" width="176" height="1" fill="#000"/><rect x="557" y="483" width="176" height="1" fill="#000"/><rect x="557" y="486" width="176" height="3" fill="#000"/><rect x="557" y="489" width="176" height="1" fill="#fff"/><rect x="557" y="491" width="176" height="2" fill="#fff"/><rect x="557" y="493" width="176" height="1" fill="#000"/><rect x="557" y="496" width="176" height="1" fill="#000"/><rect x="557" y="498" width="176" height="1" fill="#000"/><rect x="557" y="501" width="176" height="2" fill="#000"/><rect x="557" y="503" width="176" height="1" fill="#fff"/><rect x="557" y="504" width="176" height="1" fill="#000"/><rect x="557" y="508" width="176" height="1" fill="#000"/><rect x="557" y="511" width="176" height="6" fill="#fff"/><rect x="557" y="517" width="176" height="1" fill="#000"/><rect x="557" y="521" width="176" height="1" fill="#000"/><rect x="557" y="522" width="176" height="1" fill="#fff"/><rect x="557" y="523" width="176" height="1" fill="#000"/><rect x="557" y="527" width="176" height="2" fill="#000"/><rect x="557" y="529" width="176" height="1" fill="#fff"/><rect x="557" y="535" width="176" height="1" fill="#fff"/><rect x="557" y="539" width="176" height="2" fill="#000"/><rect x="557" y="541" width="176" height="1" fill="#fff"/><rect x="557" y="542" width="176" height="2" fill="#000"/><rect x="557" y="546" width="176" height="1" fill="#fff"/><rect x="557" y="552" width="176" height="1" fill="#000"/><rect x="557" y="555" width="176" height="1" fill="#000"/><rect x="557" y="558" width="176" height="2" fill="#000"/><rect x="557" y="563" width="176" height="1" fill="#000"/><rect x="557" y="566" width="176" height="1" fill="#000"/><rect x="557" y="569" width="176" height="4" fill="#000"/><rect x="557" y="574" width="176" height="4" fill="#000"/><rect x="557" y="579" width="176" height="1" fill="#000"/><rect x="557" y="583" width="176" height="3" fill="#000"/><rect x="557" y="592" width="176" height="1" fill="#fff"/><rect x="557" y="598" width="176" height="1" fill="#000"/><rect x="557" y="603" width="176" height="1" fill="#fff"/><rect x="557" y="610" width="176" height="2" fill="#000"/><rect x="557" y="612" width="176" height="2" fill="#fff"/><rect x="557" y="622" width="176" height="1" fill="#fff"/><rect x="557" y="637" width="176" height="1" fill="#000"/><rect x="557" y="639" width="176" height="1" fill="#fff"/><rect x="557" y="641" width="176" height="2" fill="#fff"/><rect x="557" y="650" width="176" height="2" fill="#000"/><rect x="557" y="653" width="176" height="3" fill="#000"/><rect x="557" y="659" width="176" height="1" fill="#000"/><rect x="557" y="662" width="176" height="2" fill="#000"/><rect x="557" y="664" width="176" height="1" fill="#fff"/><rect x="557" y="665" width="176" height="3" fill="#000"/><rect x="557" y="669" width="176" height="1" fill="#000"/><rect x="557" y="673" width="176" height="2" fill="#000"/><rect x="557" y="676" width="176" height="4" fill="#000"/><rect x="557" y="680" width="176" height="1" fill="#fff"/><rect x="557" y="681" width="176" height="2" fill="#000"/><rect x="557" y="684" width="176" height="3" fill="#000"/><rect x="557" y="688" width="176" height="3" fill="#000"/><rect x="557" y="695" width="176" height="3" fill="#000"/><rect x="557" y="699" width="176" height="1" fill="#000"/><rect x="557" y="701" width="176" height="1" fill="#000"/><rect x="557" y="705" width="176" height="2" fill="#000"/><rect x="557" y="707" width="176" height="1" fill="#fff"/><rect x="557" y="708" width="176" height="6" fill="#000"/><rect x="557" y="717" width="176" height="1" fill="#000"/>
<rect x="556.5" y="80.5" width="177" height="640" fill="none" stroke="#000" stroke-width="1"/>
<g filter="url(#ns3)"></g>
<g filter="url(#nz3)"><rect x="769" y="81" width="176" height="1" fill="#2b2b2b"/><rect x="769" y="82" width="176" height="1" fill="#3a3a3a"/><rect x="769" y="83" width="176" height="1" fill="#2f2f2f"/><rect x="769" y="84" width="176" height="1" fill="#333333"/><rect x="769" y="85" width="176" height="1" fill="#323232"/><rect x="769" y="86" width="176" height="1" fill="#2e2e2e"/><rect x="769" y="87" width="176" height="1" fill="#2f2f2f"/><rect x="769" y="88" width="176" height="1" fill="#323232"/><rect x="769" y="89" width="176" height="1" fill="#2e2e2e"/><rect x="769" y="90" width="176" height="1" fill="#2f2f2f"/><rect x="769" y="91" width="176" height="1" fill="#303030"/><rect x="769" y="92" width="176" height="1" fill="#323232"/><rect x="769" y="93" width="176" height="1" fill="#2e2e2e"/><rect x="769" y="94" width="176" height="1" fill="#2f2f2f"/><rect x="769" y="95" width="176" height="1" fill="#313131"/><rect x="769" y="96" width="176" height="1" fill="#2d2d2d"/><rect x="769" y="97" width="176" height="1" fill="#2f2f2f"/><rect x="769" y="98" width="176" height="1" fill="#323232"/><rect x="769" y="99" width="176" height="1" fill="#303030"/><rect x="769" y="100" width="176" height="1" fill="#323232"/><rect x="769" y="101" width="176" height="1" fill="#2f2f2f"/><rect x="769" y="102" width="176" height="1" fill="#323232"/><rect x="769" y="103" width="176" height="1" fill="#2e2e2e"/><rect x="769" y="104" width="176" height="1" fill="#313131"/><rect x="769" y="105" width="176" height="1" fill="#323232"/><rect x="769" y="106" width="176" height="1" fill="#2e2e2e"/><rect x="769" y="107" width="176" height="1" fill="#2f2f2f"/><rect x="769" y="108" width="176" height="1" fill="#2f2f2f"/><rect x="769" y="109" width="176" height="1" fill="#333333"/><rect x="769" y="110" width="176" height="1" fill="#2e2e2e"/><rect x="769" y="111" width="176" height="1" fill="#303030"/><rect x="769" y="112" width="176" height="1" fill="#333333"/><rect x="769" y="113" width="176" height="1" fill="#2e2e2e"/><rect x="769" y="114" width="176" height="1" fill="#333333"/><rect x="769" y="115" width="176" height="1" fill="#2e2e2e"/><rect x="769" y="116" width="176" height="1" fill="#313131"/><rect x="769" y="117" width="176" height="1" fill="#303030"/><rect x="769" y="118" width="176" height="1" fill="#323232"/><rect x="769" y="119" width="176" height="1" fill="#2f2f2f"/><rect x="769" y="120" width="176" height="1" fill="#303030"/><rect x="769" y="121" width="176" height="1" fill="#333333"/><rect x="769" y="122" width="176" height="1" fill="#2e2e2e"/><rect x="769" y="123" width="176" height="1" fill="#333333"/><rect x="769" y="124" width="176" height="1" fill="#2e2e2e"/><rect x="769" y="125" width="176" height="1" fill="#2e2e2e"/><rect x="769" y="126" width="176" height="1" fill="#2f2f2f"/><rect x="769" y="127" width="176" height="1" fill="#313131"/><rect x="769" y="128" width="176" height="1" fill="#2f2f2f"/><rect x="769" y="129" width="176" height="1" fill="#303030"/><rect x="769" y="130" width="176" height="1" fill="#2e2e2e"/><rect x="769" y="131" width="176" height="1" fill="#2f2f2f"/><rect x="769" y="132" width="176" height="1" fill="#2d2d2d"/><rect x="769" y="133" width="176" height="1" fill="#2e2e2e"/><rect x="769" y="134" width="176" height="1" fill="#313131"/><rect x="769" y="135" width="176" height="1" fill="#313131"/><rect x="769" y="136" width="176" height="1" fill="#303030"/><rect x="769" y="137" width="176" height="1" fill="#2e2e2e"/><rect x="769" y="138" width="176" height="1" fill="#323232"/><rect x="769" y="139" width="176" height="1" fill="#2e2e2e"/><rect x="769" y="140" width="176" height="1" fill="#323232"/><rect x="769" y="141" width="176" height="1" fill="#303030"/><rect x="769" y="142" width="176" height="1" fill="#333333"/><rect x="769" y="143" width="176" height="1" fill="#2e2e2e"/><rect x="769" y="144" width="176" height="1" fill="#303030"/><rect x="769" y="145" width="176" height="1" fill="#2e2e2e"/><rect x="769" y="146" width="176" height="1" fill="#333333"/><rect x="769" y="147" width="176" height="1" fill="#313131"/><rect x="769" y="148" width="176" height="1" fill="#2f2f2f"/><rect x="769" y="149" width="176" height="1" fill="#2b2b2b"/><rect x="769" y="150" width="176" height="1" fill="#2f2f2f"/><rect x="769" y="151" width="176" height="1" fill="#2c2c2c"/><rect x="769" y="152" width="176" height="1" fill="#2a2a2a"/><rect x="769" y="153" width="176" height="1" fill="#2c2c2c"/><rect x="769" y="154" width="176" height="1" fill="#2c2c2c"/><rect x="769" y="155" width="176" height="1" fill="#2f2f2f"/><rect x="769" y="156" width="176" height="1" fill="#2a2a2a"/><rect x="769" y="157" width="176" height="1" fill="#2e2e2e"/><rect x="769" y="158" width="176" height="1" fill="#2f2f2f"/><rect x="769" y="159" width="176" height="1" fill="#2a2a2a"/><rect x="769" y="160" width="176" height="1" fill="#2e2e2e"/><rect x="769" y="161" width="176" height="1" fill="#2e2e2e"/><rect x="769" y="162" width="176" height="1" fill="#2e2e2e"/><rect x="769" y="163" width="176" height="1" fill="#2f2f2f"/><rect x="769" y="164" width="176" height="1" fill="#2c2c2c"/><rect x="769" y="165" width="176" height="1" fill="#2e2e2e"/><rect x="769" y="166" width="176" height="1" fill="#2d2d2d"/><rect x="769" y="167" width="176" height="1" fill="#2c2c2c"/><rect x="769" y="168" width="176" height="1" fill="#2a2a2a"/><rect x="769" y="169" width="176" height="1" fill="#2d2d2d"/><rect x="769" y="170" width="176" height="1" fill="#2d2d2d"/><rect x="769" y="171" width="176" height="1" fill="#2c2c2c"/><rect x="769" y="172" width="176" height="1" fill="#2e2e2e"/><rect x="769" y="173" width="176" height="1" fill="#2f2f2f"/><rect x="769" y="174" width="176" height="1" fill="#2d2d2d"/><rect x="769" y="175" width="176" height="1" fill="#2c2c2c"/><rect x="769" y="176" width="176" height="1" fill="#2d2d2d"/><rect x="769" y="177" width="176" height="1" fill="#2e2e2e"/><rect x="769" y="178" width="176" height="1" fill="#2b2b2b"/><rect x="769" y="179" width="176" height="1" fill="#2f2f2f"/><rect x="769" y="180" width="176" height="1" fill="#2e2e2e"/><rect x="769" y="181" width="176" height="1" fill="#2e2e2e"/><rect x="769" y="182" width="176" height="1" fill="#2d2d2d"/><rect x="769" y="183" width="176" height="1" fill="#2a2a2a"/><rect x="769" y="184" width="176" height="1" fill="#2e2e2e"/><rect x="769" y="185" width="176" height="1" fill="#2f2f2f"/><rect x="769" y="186" width="176" height="1" fill="#2e2e2e"/><rect x="769" y="187" width="176" height="1" fill="#2f2f2f"/><rect x="769" y="188" width="176" height="1" fill="#2a2a2a"/><rect x="769" y="189" width="176" height="1" fill="#2c2c2c"/><rect x="769" y="190" width="176" height="1" fill="#2e2e2e"/><rect x="769" y="191" width="176" height="1" fill="#2f2f2f"/><rect x="769" y="192" width="176" height="1" fill="#2a2a2a"/><rect x="769" y="193" width="176" height="1" fill="#2b2b2b"/><rect x="769" y="194" width="176" height="1" fill="#2b2b2b"/><rect x="769" y="195" width="176" height="1" fill="#2b2b2b"/><rect x="769" y="196" width="176" height="1" fill="#2e2e2e"/><rect x="769" y="197" width="176" height="1" fill="#2c2c2c"/><rect x="769" y="198" width="176" height="1" fill="#2f2f2f"/><rect x="769" y="199" width="176" height="1" fill="#2e2e2e"/><rect x="769" y="200" width="176" height="1" fill="#2e2e2e"/><rect x="769" y="201" width="176" height="1" fill="#2f2f2f"/><rect x="769" y="202" width="176" height="1" fill="#2f2f2f"/><rect x="769" y="203" width="176" height="1" fill="#2a2a2a"/><rect x="769" y="204" width="176" height="1" fill="#2c2c2c"/><rect x="769" y="205" width="176" height="1" fill="#2e2e2e"/><rect x="769" y="206" width="176" height="1" fill="#2e2e2e"/><rect x="769" y="207" width="176" height="1" fill="#2f2f2f"/><rect x="769" y="208" width="176" height="1" fill="#2b2b2b"/><rect x="769" y="209" width="176" height="1" fill="#2d2d2d"/><rect x="769" y="210" width="176" height="1" fill="#2f2f2f"/><rect x="769" y="211" width="176" height="1" fill="#2b2b2b"/><rect x="769" y="212" width="176" height="1" fill="#2a2a2a"/><rect x="769" y="213" width="176" height="1" fill="#2c2c2c"/><rect x="769" y="214" width="176" height="1" fill="#2b2b2b"/><rect x="769" y="215" width="176" height="1" fill="#2a2a2a"/><rect x="769" y="216" width="176" height="1" fill="#2c2c2c"/><rect x="769" y="217" width="176" height="1" fill="#2d2d2d"/><rect x="769" y="218" width="176" height="1" fill="#2e2e2e"/><rect x="769" y="219" width="176" height="1" fill="#2f2f2f"/><rect x="769" y="220" width="176" height="1" fill="#2b2b2b"/><rect x="769" y="221" width="176" height="1" fill="#2b2b2b"/><rect x="769" y="222" width="176" height="1" fill="#2f2f2f"/><rect x="769" y="223" width="176" height="1" fill="#2a2a2a"/><rect x="769" y="224" width="176" height="1" fill="#2d2d2d"/><rect x="769" y="225" width="176" height="1" fill="#2a2a2a"/><rect x="769" y="226" width="176" height="1" fill="#2e2e2e"/><rect x="769" y="227" width="176" height="1" fill="#2a2a2a"/><rect x="769" y="228" width="176" height="1" fill="#2f2f2f"/><rect x="769" y="229" width="176" height="1" fill="#2b2b2b"/><rect x="769" y="230" width="176" height="1" fill="#2f2f2f"/><rect x="769" y="231" width="176" height="1" fill="#2d2d2d"/><rect x="769" y="232" width="176" height="1" fill="#2e2e2e"/><rect x="769" y="233" width="176" height="1" fill="#2b2b2b"/><rect x="769" y="234" width="176" height="1" fill="#2e2e2e"/><rect x="769" y="235" width="176" height="1" fill="#2e2e2e"/><rect x="769" y="236" width="176" height="1" fill="#2c2c2c"/><rect x="769" y="237" width="176" height="1" fill="#2d2d2d"/><rect x="769" y="238" width="176" height="1" fill="#2f2f2f"/><rect x="769" y="239" width="176" height="1" fill="#313131"/><rect x="769" y="240" width="176" height="1" fill="#323232"/><rect x="769" y="241" width="176" height="1" fill="#313131"/><rect x="769" y="242" width="176" height="1" fill="#2f2f2f"/><rect x="769" y="243" width="176" height="1" fill="#2d2d2d"/><rect x="769" y="244" width="176" height="1" fill="#303030"/><rect x="769" y="245" width="176" height="1" fill="#323232"/><rect x="769" y="246" width="176" height="1" fill="#2d2d2d"/><rect x="769" y="247" width="176" height="1" fill="#2d2d2d"/><rect x="769" y="248" width="176" height="1" fill="#2d2d2d"/><rect x="769" y="249" width="176" height="1" fill="#2d2d2d"/><rect x="769" y="250" width="176" height="1" fill="#2f2f2f"/><rect x="769" y="251" width="176" height="1" fill="#2d2d2d"/><rect x="769" y="252" width="176" height="1" fill="#323232"/><rect x="769" y="253" width="176" height="1" fill="#323232"/><rect x="769" y="254" width="176" height="1" fill="#313131"/><rect x="769" y="255" width="176" height="1" fill="#2f2f2f"/><rect x="769" y="256" width="176" height="1" fill="#2f2f2f"/><rect x="769" y="257" width="176" height="1" fill="#303030"/><rect x="769" y="258" width="176" height="1" fill="#2f2f2f"/><rect x="769" y="259" width="176" height="1" fill="#303030"/><rect x="769" y="260" width="176" height="1" fill="#2c2c2c"/><rect x="769" y="261" width="176" height="1" fill="#2f2f2f"/><rect x="769" y="262" width="176" height="1" fill="#303030"/><rect x="769" y="263" width="176" height="1" fill="#2d2d2d"/><rect x="769" y="264" width="176" height="1" fill="#2d2d2d"/><rect x="769" y="265" width="176" height="1" fill="#2f2f2f"/><rect x="769" y="266" width="176" height="1" fill="#323232"/><rect x="769" y="267" width="176" height="1" fill="#323232"/><rect x="769" y="268" width="176" height="1" fill="#303030"/><rect x="769" y="269" width="176" height="1" fill="#2e2e2e"/><rect x="769" y="270" width="176" height="1" fill="#2e2e2e"/><rect x="769" y="271" width="176" height="1" fill="#323232"/><rect x="769" y="272" width="176" height="1" fill="#2e2e2e"/><rect x="769" y="273" width="176" height="1" fill="#303030"/><rect x="769" y="274" width="176" height="1" fill="#313131"/><rect x="769" y="275" width="176" height="1" fill="#2e2e2e"/><rect x="769" y="276" width="176" height="1" fill="#323232"/><rect x="769" y="277" width="176" height="1" fill="#2e2e2e"/><rect x="769" y="278" width="176" height="1" fill="#323232"/><rect x="769" y="279" width="176" height="1" fill="#303030"/><rect x="769" y="280" width="176" height="1" fill="#2f2f2f"/><rect x="769" y="281" width="176" height="1" fill="#303030"/><rect x="769" y="282" width="176" height="1" fill="#323232"/><rect x="769" y="283" width="176" height="1" fill="#313131"/><rect x="769" y="284" width="176" height="1" fill="#2c2c2c"/><rect x="769" y="285" width="176" height="1" fill="#2e2e2e"/><rect x="769" y="286" width="176" height="1" fill="#2c2c2c"/><rect x="769" y="287" width="176" height="1" fill="#2f2f2f"/><rect x="769" y="288" width="176" height="1" fill="#303030"/><rect x="769" y="289" width="176" height="1" fill="#2e2e2e"/><rect x="769" y="290" width="176" height="1" fill="#303030"/><rect x="769" y="291" width="176" height="1" fill="#2d2d2d"/><rect x="769" y="292" width="176" height="1" fill="#2d2d2d"/><rect x="769" y="293" width="176" height="1" fill="#2e2e2e"/><rect x="769" y="294" width="176" height="1" fill="#2e2e2e"/><rect x="769" y="295" width="176" height="1" fill="#303030"/><rect x="769" y="296" width="176" height="1" fill="#313131"/><rect x="769" y="297" width="176" height="1" fill="#2e2e2e"/><rect x="769" y="298" width="176" height="1" fill="#313131"/><rect x="769" y="299" width="176" height="1" fill="#2e2e2e"/><rect x="769" y="300" width="176" height="1" fill="#313131"/><rect x="769" y="301" width="176" height="1" fill="#303030"/><rect x="769" y="302" width="176" height="1" fill="#2f2f2f"/><rect x="769" y="303" width="176" height="1" fill="#313131"/><rect x="769" y="304" width="176" height="1" fill="#313131"/><rect x="769" y="305" width="176" height="1" fill="#2d2d2d"/><rect x="769" y="306" width="176" height="1" fill="#323232"/><rect x="769" y="307" width="176" height="1" fill="#2e2e2e"/><rect x="769" y="308" width="176" height="1" fill="#2c2c2c"/><rect x="769" y="309" width="176" height="1" fill="#323232"/><rect x="769" y="310" width="176" height="1" fill="#323232"/><rect x="769" y="311" width="176" height="1" fill="#303030"/><rect x="769" y="312" width="176" height="1" fill="#2c2c2c"/><rect x="769" y="313" width="176" height="1" fill="#2c2c2c"/><rect x="769" y="314" width="176" height="1" fill="#313131"/><rect x="769" y="315" width="176" height="1" fill="#303030"/><rect x="769" y="316" width="176" height="1" fill="#313131"/><rect x="769" y="317" width="176" height="1" fill="#323232"/><rect x="769" y="318" width="176" height="1" fill="#303030"/><rect x="769" y="319" width="176" height="1" fill="#313131"/><rect x="769" y="320" width="176" height="1" fill="#2e2e2e"/><rect x="769" y="321" width="176" height="1" fill="#2f2f2f"/><rect x="769" y="322" width="176" height="1" fill="#303030"/><rect x="769" y="323" width="176" height="1" fill="#2e2e2e"/><rect x="769" y="324" width="176" height="1" fill="#303030"/><rect x="769" y="325" width="176" height="1" fill="#323232"/><rect x="769" y="326" width="176" height="1" fill="#2f2f2f"/><rect x="769" y="327" width="176" height="1" fill="#323232"/><rect x="769" y="328" width="176" height="1" fill="#313131"/><rect x="769" y="329" width="176" height="1" fill="#2e2e2e"/><rect x="769" y="330" width="176" height="1" fill="#2d2d2d"/><rect x="769" y="331" width="176" height="1" fill="#2b2b2b"/><rect x="769" y="332" width="176" height="1" fill="#2d2d2d"/><rect x="769" y="333" width="176" height="1" fill="#2d2d2d"/><rect x="769" y="334" width="176" height="1" fill="#2b2b2b"/><rect x="769" y="335" width="176" height="1" fill="#2e2e2e"/><rect x="769" y="336" width="176" height="1" fill="#2c2c2c"/><rect x="769" y="337" width="176" height="1" fill="#2c2c2c"/><rect x="769" y="338" width="176" height="1" fill="#2a2a2a"/><rect x="769" y="339" width="176" height="1" fill="#2e2e2e"/><rect x="769" y="340" width="176" height="1" fill="#272727"/><rect x="769" y="341" width="176" height="1" fill="#262626"/><rect x="769" y="342" width="176" height="1" fill="#2b2b2b"/><rect x="769" y="343" width="176" height="1" fill="#272727"/><rect x="769" y="344" width="176" height="1" fill="#2a2a2a"/><rect x="769" y="345" width="176" height="1" fill="#262626"/><rect x="769" y="346" width="176" height="1" fill="#282828"/><rect x="769" y="347" width="176" height="1" fill="#292929"/><rect x="769" y="348" width="176" height="1" fill="#2a2a2a"/><rect x="769" y="349" width="176" height="1" fill="#282828"/><rect x="769" y="350" width="176" height="1" fill="#262626"/><rect x="769" y="351" width="176" height="1" fill="#292929"/><rect x="769" y="352" width="176" height="1" fill="#2b2b2b"/><rect x="769" y="353" width="176" height="1" fill="#272727"/><rect x="769" y="354" width="176" height="1" fill="#282828"/><rect x="769" y="355" width="176" height="1" fill="#292929"/><rect x="769" y="356" width="176" height="1" fill="#272727"/><rect x="769" y="357" width="176" height="1" fill="#292929"/><rect x="769" y="358" width="176" height="1" fill="#282828"/><rect x="769" y="359" width="176" height="1" fill="#262626"/><rect x="769" y="360" width="176" height="1" fill="#282828"/><rect x="769" y="361" width="176" height="1" fill="#262626"/><rect x="769" y="362" width="176" height="1" fill="#262626"/><rect x="769" y="363" width="176" height="1" fill="#282828"/><rect x="769" y="364" width="176" height="1" fill="#272727"/><rect x="769" y="365" width="176" height="1" fill="#2a2a2a"/><rect x="769" y="366" width="176" height="1" fill="#262626"/><rect x="769" y="367" width="176" height="1" fill="#272727"/><rect x="769" y="368" width="176" height="1" fill="#292929"/><rect x="769" y="369" width="176" height="1" fill="#292929"/><rect x="769" y="370" width="176" height="1" fill="#292929"/><rect x="769" y="371" width="176" height="1" fill="#292929"/><rect x="769" y="372" width="176" height="1" fill="#2b2b2b"/><rect x="769" y="373" width="176" height="1" fill="#272727"/><rect x="769" y="374" width="176" height="1" fill="#282828"/><rect x="769" y="375" width="176" height="1" fill="#262626"/><rect x="769" y="376" width="176" height="1" fill="#2a2a2a"/><rect x="769" y="377" width="176" height="1" fill="#292929"/><rect x="769" y="378" width="176" height="1" fill="#2b2b2b"/><rect x="769" y="379" width="176" height="1" fill="#262626"/><rect x="769" y="380" width="176" height="1" fill="#292929"/><rect x="769" y="381" width="176" height="1" fill="#272727"/><rect x="769" y="382" width="176" height="1" fill="#282828"/><rect x="769" y="383" width="176" height="1" fill="#2b2b2b"/><rect x="769" y="384" width="176" height="1" fill="#272727"/><rect x="769" y="385" width="176" height="1" fill="#262626"/><rect x="769" y="386" width="176" height="1" fill="#282828"/><rect x="769" y="387" width="176" height="1" fill="#272727"/><rect x="769" y="388" width="176" height="1" fill="#2a2a2a"/><rect x="769" y="389" width="176" height="1" fill="#2a2a2a"/><rect x="769" y="390" width="176" height="1" fill="#272727"/><rect x="769" y="391" width="176" height="1" fill="#2a2a2a"/><rect x="769" y="392" width="176" height="1" fill="#272727"/><rect x="769" y="393" width="176" height="1" fill="#262626"/><rect x="769" y="394" width="176" height="1" fill="#262626"/><rect x="769" y="395" width="176" height="1" fill="#292929"/><rect x="769" y="396" width="176" height="1" fill="#2a2a2a"/><rect x="769" y="397" width="176" height="1" fill="#2a2a2a"/><rect x="769" y="398" width="176" height="1" fill="#262626"/><rect x="769" y="399" width="176" height="1" fill="#282828"/><rect x="769" y="400" width="176" height="1" fill="#2a2a2a"/><rect x="769" y="401" width="176" height="1" fill="#292929"/><rect x="769" y="402" width="176" height="1" fill="#2a2a2a"/><rect x="769" y="403" width="176" height="1" fill="#262626"/><rect x="769" y="404" width="176" height="1" fill="#2a2a2a"/><rect x="769" y="405" width="176" height="1" fill="#262626"/><rect x="769" y="406" width="176" height="1" fill="#252525"/><rect x="769" y="407" width="176" height="1" fill="#282828"/><rect x="769" y="408" width="176" height="1" fill="#292929"/><rect x="769" y="409" width="176" height="1" fill="#292929"/><rect x="769" y="410" width="176" height="1" fill="#282828"/><rect x="769" y="411" width="176" height="1" fill="#262626"/><rect x="769" y="412" width="176" height="1" fill="#292929"/><rect x="769" y="413" width="176" height="1" fill="#282828"/><rect x="769" y="414" width="176" height="1" fill="#252525"/><rect x="769" y="415" width="176" height="1" fill="#272727"/><rect x="769" y="416" width="176" height="1" fill="#282828"/><rect x="769" y="417" width="176" height="1" fill="#2a2a2a"/><rect x="769" y="418" width="176" height="1" fill="#2b2b2b"/><rect x="769" y="419" width="176" height="1" fill="#2b2b2b"/><rect x="769" y="420" width="176" height="1" fill="#292929"/><rect x="769" y="421" width="176" height="1" fill="#272727"/><rect x="769" y="422" width="176" height="1" fill="#2a2a2a"/><rect x="769" y="423" width="176" height="1" fill="#2a2a2a"/><rect x="769" y="424" width="176" height="1" fill="#2b2b2b"/><rect x="769" y="425" width="176" height="1" fill="#272727"/><rect x="769" y="426" width="176" height="1" fill="#2b2b2b"/><rect x="769" y="427" width="176" height="1" fill="#292929"/><rect x="769" y="428" width="176" height="1" fill="#292929"/><rect x="769" y="429" width="176" height="1" fill="#272727"/><rect x="769" y="430" width="176" height="1" fill="#2b2b2b"/><rect x="769" y="431" width="176" height="1" fill="#262626"/><rect x="769" y="432" width="176" height="1" fill="#292929"/><rect x="769" y="433" width="176" height="1" fill="#2b2b2b"/><rect x="769" y="434" width="176" height="1" fill="#2a2a2a"/><rect x="769" y="435" width="176" height="1" fill="#272727"/><rect x="769" y="436" width="176" height="1" fill="#2b2b2b"/><rect x="769" y="437" width="176" height="1" fill="#2a2a2a"/><rect x="769" y="438" width="176" height="1" fill="#2b2b2b"/><rect x="769" y="439" width="176" height="1" fill="#2a2a2a"/><rect x="769" y="440" width="176" height="1" fill="#2b2b2b"/><rect x="769" y="441" width="176" height="1" fill="#272727"/><rect x="769" y="442" width="176" height="1" fill="#272727"/><rect x="769" y="443" width="176" height="1" fill="#272727"/><rect x="769" y="444" width="176" height="1" fill="#282828"/><rect x="769" y="445" width="176" height="1" fill="#262626"/><rect x="769" y="446" width="176" height="1" fill="#2b2b2b"/><rect x="769" y="447" width="176" height="1" fill="#2a2a2a"/><rect x="769" y="448" width="176" height="1" fill="#272727"/><rect x="769" y="449" width="176" height="1" fill="#272727"/><rect x="769" y="450" width="176" height="1" fill="#262626"/><rect x="769" y="451" width="176" height="1" fill="#262626"/><rect x="769" y="452" width="176" height="1" fill="#272727"/><rect x="769" y="453" width="176" height="1" fill="#272727"/><rect x="769" y="454" width="176" height="1" fill="#2a2a2a"/><rect x="769" y="455" width="176" height="1" fill="#262626"/><rect x="769" y="456" width="176" height="1" fill="#292929"/><rect x="769" y="457" width="176" height="1" fill="#2a2a2a"/><rect x="769" y="458" width="176" height="1" fill="#272727"/><rect x="769" y="459" width="176" height="1" fill="#292929"/><rect x="769" y="460" width="176" height="1" fill="#272727"/><rect x="769" y="461" width="176" height="1" fill="#2b2b2b"/><rect x="769" y="462" width="176" height="1" fill="#282828"/><rect x="769" y="463" width="176" height="1" fill="#272727"/><rect x="769" y="464" width="176" height="1" fill="#2b2b2b"/><rect x="769" y="465" width="176" height="1" fill="#282828"/><rect x="769" y="466" width="176" height="1" fill="#282828"/><rect x="769" y="467" width="176" height="1" fill="#262626"/><rect x="769" y="468" width="176" height="1" fill="#262626"/><rect x="769" y="469" width="176" height="1" fill="#272727"/><rect x="769" y="470" width="176" height="1" fill="#252525"/><rect x="769" y="471" width="176" height="1" fill="#2b2b2b"/><rect x="769" y="472" width="176" height="1" fill="#2b2b2b"/><rect x="769" y="473" width="176" height="1" fill="#2a2a2a"/><rect x="769" y="474" width="176" height="1" fill="#282828"/><rect x="769" y="475" width="176" height="1" fill="#272727"/><rect x="769" y="476" width="176" height="1" fill="#272727"/><rect x="769" y="477" width="176" height="1" fill="#2a2a2a"/><rect x="769" y="478" width="176" height="1" fill="#262626"/><rect x="769" y="479" width="176" height="1" fill="#262626"/><rect x="769" y="480" width="176" height="1" fill="#282828"/><rect x="769" y="481" width="176" height="1" fill="#262626"/><rect x="769" y="482" width="176" height="1" fill="#282828"/><rect x="769" y="483" width="176" height="1" fill="#282828"/><rect x="769" y="484" width="176" height="1" fill="#252525"/><rect x="769" y="485" width="176" height="1" fill="#282828"/><rect x="769" y="486" width="176" height="1" fill="#2a2a2a"/><rect x="769" y="487" width="176" height="1" fill="#292929"/><rect x="769" y="488" width="176" height="1" fill="#282828"/><rect x="769" y="489" width="176" height="1" fill="#262626"/><rect x="769" y="490" width="176" height="1" fill="#292929"/><rect x="769" y="491" width="176" height="1" fill="#262626"/><rect x="769" y="492" width="176" height="1" fill="#2a2a2a"/><rect x="769" y="493" width="176" height="1" fill="#262626"/><rect x="769" y="494" width="176" height="1" fill="#262626"/><rect x="769" y="495" width="176" height="1" fill="#292929"/><rect x="769" y="496" width="176" height="1" fill="#262626"/><rect x="769" y="497" width="176" height="1" fill="#262626"/><rect x="769" y="498" width="176" height="1" fill="#292929"/><rect x="769" y="499" width="176" height="1" fill="#272727"/><rect x="769" y="500" width="176" height="1" fill="#272727"/><rect x="769" y="501" width="176" height="1" fill="#2a2a2a"/><rect x="769" y="502" width="176" height="1" fill="#2a2a2a"/><rect x="769" y="503" width="176" height="1" fill="#2b2b2b"/><rect x="769" y="504" width="176" height="1" fill="#282828"/><rect x="769" y="505" width="176" height="1" fill="#272727"/><rect x="769" y="506" width="176" height="1" fill="#282828"/><rect x="769" y="507" width="176" height="1" fill="#272727"/><rect x="769" y="508" width="176" height="1" fill="#2a2a2a"/><rect x="769" y="509" width="176" height="1" fill="#262626"/><rect x="769" y="510" width="176" height="1" fill="#2a2a2a"/><rect x="769" y="511" width="176" height="1" fill="#292929"/><rect x="769" y="512" width="176" height="1" fill="#262626"/><rect x="769" y="513" width="176" height="1" fill="#292929"/><rect x="769" y="514" width="176" height="1" fill="#292929"/><rect x="769" y="515" width="176" height="1" fill="#292929"/><rect x="769" y="516" width="176" height="1" fill="#282828"/><rect x="769" y="517" width="176" height="1" fill="#252525"/><rect x="769" y="518" width="176" height="1" fill="#272727"/><rect x="769" y="519" width="176" height="1" fill="#2a2a2a"/><rect x="769" y="520" width="176" height="1" fill="#2a2a2a"/><rect x="769" y="521" width="176" height="1" fill="#262626"/><rect x="769" y="522" width="176" height="1" fill="#282828"/><rect x="769" y="523" width="176" height="1" fill="#252525"/><rect x="769" y="524" width="176" height="1" fill="#292929"/><rect x="769" y="525" width="176" height="1" fill="#282828"/><rect x="769" y="526" width="176" height="1" fill="#272727"/><rect x="769" y="527" width="176" height="1" fill="#262626"/><rect x="769" y="528" width="176" height="1" fill="#252525"/><rect x="769" y="529" width="176" height="1" fill="#262626"/><rect x="769" y="530" width="176" height="1" fill="#272727"/><rect x="769" y="531" width="176" height="1" fill="#272727"/><rect x="769" y="532" width="176" height="1" fill="#252525"/><rect x="769" y="533" width="176" height="1" fill="#292929"/><rect x="769" y="534" width="176" height="1" fill="#252525"/><rect x="769" y="535" width="176" height="1" fill="#262626"/><rect x="769" y="536" width="176" height="1" fill="#262626"/><rect x="769" y="537" width="176" height="1" fill="#262626"/><rect x="769" y="538" width="176" height="1" fill="#292929"/><rect x="769" y="539" width="176" height="1" fill="#2a2a2a"/><rect x="769" y="540" width="176" height="1" fill="#272727"/><rect x="769" y="541" width="176" height="1" fill="#272727"/><rect x="769" y="542" width="176" height="1" fill="#2a2a2a"/><rect x="769" y="543" width="176" height="1" fill="#292929"/><rect x="769" y="544" width="176" height="1" fill="#282828"/><rect x="769" y="545" width="176" height="1" fill="#2a2a2a"/><rect x="769" y="546" width="176" height="1" fill="#252525"/><rect x="769" y="547" width="176" height="1" fill="#282828"/><rect x="769" y="548" width="176" height="1" fill="#262626"/><rect x="769" y="549" width="176" height="1" fill="#2a2a2a"/><rect x="769" y="550" width="176" height="1" fill="#252525"/><rect x="769" y="551" width="176" height="1" fill="#2a2a2a"/><rect x="769" y="552" width="176" height="1" fill="#2a2a2a"/><rect x="769" y="553" width="176" height="1" fill="#252525"/><rect x="769" y="554" width="176" height="1" fill="#2a2a2a"/><rect x="769" y="555" width="176" height="1" fill="#282828"/><rect x="769" y="556" width="176" height="1" fill="#2a2a2a"/><rect x="769" y="557" width="176" height="1" fill="#272727"/><rect x="769" y="558" width="176" height="1" fill="#2a2a2a"/><rect x="769" y="559" width="176" height="1" fill="#262626"/><rect x="769" y="560" width="176" height="1" fill="#262626"/><rect x="769" y="561" width="176" height="1" fill="#282828"/><rect x="769" y="562" width="176" height="1" fill="#2a2a2a"/><rect x="769" y="563" width="176" height="1" fill="#262626"/><rect x="769" y="564" width="176" height="1" fill="#292929"/><rect x="769" y="565" width="176" height="1" fill="#262626"/><rect x="769" y="566" width="176" height="1" fill="#272727"/><rect x="769" y="567" width="176" height="1" fill="#282828"/><rect x="769" y="568" width="176" height="1" fill="#292929"/><rect x="769" y="569" width="176" height="1" fill="#272727"/><rect x="769" y="570" width="176" height="1" fill="#2a2a2a"/><rect x="769" y="571" width="176" height="1" fill="#282828"/><rect x="769" y="572" width="176" height="1" fill="#252525"/><rect x="769" y="573" width="176" height="1" fill="#282828"/><rect x="769" y="574" width="176" height="1" fill="#252525"/><rect x="769" y="575" width="176" height="1" fill="#262626"/><rect x="769" y="576" width="176" height="1" fill="#282828"/><rect x="769" y="577" width="176" height="1" fill="#272727"/><rect x="769" y="578" width="176" height="1" fill="#292929"/><rect x="769" y="579" width="176" height="1" fill="#272727"/><rect x="769" y="580" width="176" height="1" fill="#292929"/><rect x="769" y="581" width="176" height="1" fill="#282828"/><rect x="769" y="582" width="176" height="1" fill="#282828"/><rect x="769" y="583" width="176" height="1" fill="#282828"/><rect x="769" y="584" width="176" height="1" fill="#282828"/><rect x="769" y="585" width="176" height="1" fill="#282828"/><rect x="769" y="586" width="176" height="1" fill="#252525"/><rect x="769" y="587" width="176" height="1" fill="#252525"/><rect x="769" y="588" width="176" height="1" fill="#262626"/><rect x="769" y="589" width="176" height="1" fill="#262626"/><rect x="769" y="590" width="176" height="1" fill="#262626"/><rect x="769" y="591" width="176" height="1" fill="#2e2e2e"/><rect x="769" y="592" width="176" height="1" fill="#2c2c2c"/><rect x="769" y="593" width="176" height="1" fill="#2b2b2b"/><rect x="769" y="594" width="176" height="1" fill="#2e2e2e"/><rect x="769" y="595" width="176" height="1" fill="#2b2b2b"/><rect x="769" y="596" width="176" height="1" fill="#2b2b2b"/><rect x="769" y="597" width="176" height="1" fill="#2b2b2b"/><rect x="769" y="598" width="176" height="1" fill="#2e2e2e"/><rect x="769" y="599" width="176" height="1" fill="#2d2d2d"/><rect x="769" y="600" width="176" height="1" fill="#2a2a2a"/><rect x="769" y="601" width="176" height="1" fill="#2e2e2e"/><rect x="769" y="602" width="176" height="1" fill="#2b2b2b"/><rect x="769" y="603" width="176" height="1" fill="#2b2b2b"/><rect x="769" y="604" width="176" height="1" fill="#2a2a2a"/><rect x="769" y="605" width="176" height="1" fill="#2d2d2d"/><rect x="769" y="606" width="176" height="1" fill="#2d2d2d"/><rect x="769" y="607" width="176" height="1" fill="#2b2b2b"/><rect x="769" y="608" width="176" height="1" fill="#303030"/><rect x="769" y="609" width="176" height="1" fill="#2c2c2c"/><rect x="769" y="610" width="176" height="1" fill="#2a2a2a"/><rect x="769" y="611" width="176" height="1" fill="#2e2e2e"/><rect x="769" y="612" width="176" height="1" fill="#2d2d2d"/><rect x="769" y="613" width="176" height="1" fill="#2c2c2c"/><rect x="769" y="614" width="176" height="1" fill="#2d2d2d"/><rect x="769" y="615" width="176" height="1" fill="#2c2c2c"/><rect x="769" y="616" width="176" height="1" fill="#2c2c2c"/><rect x="769" y="617" width="176" height="1" fill="#2a2a2a"/><rect x="769" y="618" width="176" height="1" fill="#2e2e2e"/><rect x="769" y="619" width="176" height="1" fill="#2d2d2d"/><rect x="769" y="620" width="176" height="1" fill="#2e2e2e"/><rect x="769" y="621" width="176" height="1" fill="#2a2a2a"/><rect x="769" y="622" width="176" height="1" fill="#2c2c2c"/><rect x="769" y="623" width="176" height="1" fill="#2c2c2c"/><rect x="769" y="624" width="176" height="1" fill="#2d2d2d"/><rect x="769" y="625" width="176" height="1" fill="#2e2e2e"/><rect x="769" y="626" width="176" height="1" fill="#2b2b2b"/><rect x="769" y="627" width="176" height="1" fill="#2e2e2e"/><rect x="769" y="628" width="176" height="1" fill="#2e2e2e"/><rect x="769" y="629" width="176" height="1" fill="#2a2a2a"/><rect x="769" y="630" width="176" height="1" fill="#2f2f2f"/><rect x="769" y="631" width="176" height="1" fill="#2d2d2d"/><rect x="769" y="632" width="176" height="1" fill="#2b2b2b"/><rect x="769" y="633" width="176" height="1" fill="#2f2f2f"/><rect x="769" y="634" width="176" height="1" fill="#2a2a2a"/><rect x="769" y="635" width="176" height="1" fill="#2d2d2d"/><rect x="769" y="636" width="176" height="1" fill="#2f2f2f"/><rect x="769" y="637" width="176" height="1" fill="#2e2e2e"/><rect x="769" y="638" width="176" height="1" fill="#2f2f2f"/><rect x="769" y="639" width="176" height="1" fill="#2d2d2d"/><rect x="769" y="640" width="176" height="1" fill="#2f2f2f"/><rect x="769" y="641" width="176" height="1" fill="#2a2a2a"/><rect x="769" y="642" width="176" height="1" fill="#2f2f2f"/><rect x="769" y="643" width="176" height="1" fill="#2b2b2b"/><rect x="769" y="644" width="176" height="1" fill="#2e2e2e"/><rect x="769" y="645" width="176" height="1" fill="#303030"/><rect x="769" y="646" width="176" height="1" fill="#2d2d2d"/><rect x="769" y="647" width="176" height="1" fill="#2f2f2f"/><rect x="769" y="648" width="176" height="1" fill="#2e2e2e"/><rect x="769" y="649" width="176" height="1" fill="#2f2f2f"/><rect x="769" y="650" width="176" height="1" fill="#2a2a2a"/><rect x="769" y="651" width="176" height="1" fill="#282828"/><rect x="769" y="652" width="176" height="1" fill="#292929"/><rect x="769" y="653" width="176" height="1" fill="#2a2a2a"/><rect x="769" y="654" width="176" height="1" fill="#2b2b2b"/><rect x="769" y="655" width="176" height="1" fill="#262626"/><rect x="769" y="656" width="176" height="1" fill="#282828"/><rect x="769" y="657" width="176" height="1" fill="#292929"/><rect x="769" y="658" width="176" height="1" fill="#282828"/><rect x="769" y="659" width="176" height="1" fill="#2b2b2b"/><rect x="769" y="660" width="176" height="1" fill="#282828"/><rect x="769" y="661" width="176" height="1" fill="#262626"/><rect x="769" y="662" width="176" height="1" fill="#292929"/><rect x="769" y="663" width="176" height="1" fill="#2a2a2a"/><rect x="769" y="664" width="176" height="1" fill="#2a2a2a"/><rect x="769" y="665" width="176" height="1" fill="#282828"/><rect x="769" y="666" width="176" height="1" fill="#282828"/><rect x="769" y="667" width="176" height="1" fill="#2a2a2a"/><rect x="769" y="668" width="176" height="1" fill="#2a2a2a"/><rect x="769" y="669" width="176" height="1" fill="#2a2a2a"/><rect x="769" y="670" width="176" height="1" fill="#2a2a2a"/><rect x="769" y="671" width="176" height="1" fill="#262626"/><rect x="769" y="672" width="176" height="1" fill="#2a2a2a"/><rect x="769" y="673" width="176" height="1" fill="#2a2a2a"/><rect x="769" y="674" width="176" height="1" fill="#2a2a2a"/><rect x="769" y="675" width="176" height="1" fill="#2b2b2b"/><rect x="769" y="676" width="176" height="1" fill="#282828"/><rect x="769" y="677" width="176" height="1" fill="#2a2a2a"/><rect x="769" y="678" width="176" height="1" fill="#2a2a2a"/><rect x="769" y="679" width="176" height="1" fill="#2a2a2a"/><rect x="769" y="680" width="176" height="1" fill="#282828"/><rect x="769" y="681" width="176" height="1" fill="#282828"/><rect x="769" y="682" width="176" height="1" fill="#2b2b2b"/><rect x="769" y="683" width="176" height="1" fill="#272727"/><rect x="769" y="684" width="176" height="1" fill="#272727"/><rect x="769" y="685" width="176" height="1" fill="#262626"/><rect x="769" y="686" width="176" height="1" fill="#2a2a2a"/><rect x="769" y="687" width="176" height="1" fill="#2a2a2a"/><rect x="769" y="688" width="176" height="1" fill="#272727"/><rect x="769" y="689" width="176" height="1" fill="#282828"/><rect x="769" y="690" width="176" height="1" fill="#2a2a2a"/><rect x="769" y="691" width="176" height="1" fill="#292929"/><rect x="769" y="692" width="176" height="1" fill="#282828"/><rect x="769" y="693" width="176" height="1" fill="#2b2b2b"/><rect x="769" y="694" width="176" height="1" fill="#282828"/><rect x="769" y="695" width="176" height="1" fill="#262626"/><rect x="769" y="696" width="176" height="1" fill="#272727"/><rect x="769" y="697" width="176" height="1" fill="#272727"/><rect x="769" y="698" width="176" height="1" fill="#262626"/><rect x="769" y="699" width="176" height="1" fill="#292929"/><rect x="769" y="700" width="176" height="1" fill="#292929"/><rect x="769" y="701" width="176" height="1" fill="#2a2a2a"/><rect x="769" y="702" width="176" height="1" fill="#2b2b2b"/><rect x="769" y="703" width="176" height="1" fill="#272727"/><rect x="769" y="704" width="176" height="1" fill="#272727"/><rect x="769" y="705" width="176" height="1" fill="#292929"/><rect x="769" y="706" width="176" height="1" fill="#2a2a2a"/><rect x="769" y="707" width="176" height="1" fill="#292929"/><rect x="769" y="708" width="176" height="1" fill="#262626"/><rect x="769" y="709" width="176" height="1" fill="#2a2a2a"/><rect x="769" y="710" width="176" height="1" fill="#272727"/><rect x="769" y="711" width="176" height="1" fill="#262626"/><rect x="769" y="712" width="176" height="1" fill="#2b2b2b"/><rect x="769" y="713" width="176" height="1" fill="#262626"/><rect x="769" y="714" width="176" height="1" fill="#2b2b2b"/><rect x="769" y="715" width="176" height="1" fill="#272727"/><rect x="769" y="716" width="176" height="1" fill="#262626"/><rect x="769" y="717" width="176" height="1" fill="#2b2b2b"/><rect x="769" y="718" width="176" height="1" fill="#2a2a2a"/><rect x="769" y="719" width="176" height="1" fill="#2b2b2b"/></g>
<g filter="url(#nr3)"><rect x="880.60" y="84" width="11.30" height="8" fill="#575757"/><rect x="894.20" y="84" width="11.60" height="8" fill="#454545"/><rect x="907.90" y="84" width="11.80" height="8" fill="#454545"/><rect x="921.70" y="84" width="11.80" height="8" fill="#474747"/><rect x="880.60" y="93" width="11.30" height="5" fill="#4f4f4f"/><rect x="894.20" y="93" width="11.60" height="5" fill="#424242"/><rect x="907.90" y="93" width="11.80" height="5" fill="#424242"/><rect x="921.70" y="93" width="11.80" height="5" fill="#454545"/><rect x="880.60" y="99" width="11.30" height="7" fill="#525252"/><rect x="894.20" y="99" width="11.60" height="7" fill="#454545"/><rect x="907.90" y="99" width="11.80" height="7" fill="#454545"/><rect x="921.70" y="99" width="11.80" height="7" fill="#474747"/><rect x="880.60" y="107" width="11.30" height="6" fill="#4c4c4c"/><rect x="894.20" y="107" width="11.60" height="6" fill="#424242"/><rect x="907.90" y="107" width="11.80" height="6" fill="#424242"/><rect x="921.70" y="107" width="11.80" height="6" fill="#454545"/><rect x="880.60" y="114" width="11.30" height="4" fill="#3b3b3b"/><rect x="894.20" y="114" width="11.60" height="4" fill="#3b3b3b"/><rect x="907.90" y="114" width="11.80" height="4" fill="#3b3b3b"/><rect x="921.70" y="114" width="11.80" height="4" fill="#3b3b3b"/><rect x="880.60" y="121" width="11.30" height="14" fill="#383838"/><rect x="894.20" y="121" width="11.60" height="14" fill="#383838"/><rect x="907.90" y="121" width="11.80" height="14" fill="#383838"/><rect x="921.70" y="121" width="11.80" height="14" fill="#383838"/><rect x="880.60" y="143" width="11.30" height="6" fill="#3b3b3b"/><rect x="894.20" y="143" width="11.60" height="6" fill="#3b3b3b"/><rect x="907.90" y="143" width="11.80" height="6" fill="#3b3b3b"/><rect x="921.70" y="143" width="11.80" height="6" fill="#3b3b3b"/><rect x="880.60" y="152" width="11.30" height="9" fill="#404040"/><rect x="894.20" y="152" width="11.60" height="9" fill="#404040"/><rect x="907.90" y="152" width="11.80" height="9" fill="#404040"/><rect x="921.70" y="152" width="11.80" height="9" fill="#404040"/><rect x="880.60" y="162" width="11.30" height="5" fill="#3d3d3d"/><rect x="894.20" y="162" width="11.60" height="5" fill="#3d3d3d"/><rect x="907.90" y="162" width="11.80" height="5" fill="#3d3d3d"/><rect x="921.70" y="162" width="11.80" height="5" fill="#3d3d3d"/><rect x="880.60" y="173" width="11.30" height="1" fill="#949494"/><rect x="894.20" y="173" width="11.60" height="1" fill="#8c8c8c"/><rect x="907.90" y="173" width="11.80" height="1" fill="#4c4c4c"/><rect x="921.70" y="173" width="11.80" height="1" fill="#4c4c4c"/><rect x="880.60" y="174" width="11.30" height="3" fill="#707070"/><rect x="894.20" y="174" width="11.60" height="3" fill="#6b6b6b"/><rect x="907.90" y="174" width="11.80" height="3" fill="#4a4a4a"/><rect x="921.70" y="174" width="11.80" height="3" fill="#4a4a4a"/><rect x="880.60" y="178" width="11.30" height="1" fill="#858585"/><rect x="894.20" y="178" width="11.60" height="1" fill="#808080"/><rect x="907.90" y="178" width="11.80" height="1" fill="#4c4c4c"/><rect x="921.70" y="178" width="11.80" height="1" fill="#525252"/><rect x="880.60" y="179" width="11.30" height="5" fill="#696969"/><rect x="894.20" y="179" width="11.60" height="5" fill="#666666"/><rect x="907.90" y="179" width="11.80" height="5" fill="#4c4c4c"/><rect x="921.70" y="179" width="11.80" height="5" fill="#525252"/><rect x="880.60" y="185" width="11.30" height="4" fill="#666666"/><rect x="894.20" y="185" width="11.60" height="4" fill="#616161"/><rect x="907.90" y="185" width="11.80" height="4" fill="#525252"/><rect x="921.70" y="185" width="11.80" height="4" fill="#595959"/><rect x="880.60" y="190" width="11.30" height="6" fill="#666666"/><rect x="894.20" y="190" width="11.60" height="6" fill="#616161"/><rect x="907.90" y="190" width="11.80" height="6" fill="#666666"/><rect x="921.70" y="190" width="11.80" height="6" fill="#6b6b6b"/><rect x="880.60" y="204" width="11.30" height="12" fill="#454545"/><rect x="894.20" y="204" width="11.60" height="12" fill="#454545"/><rect x="907.90" y="204" width="11.80" height="12" fill="#595959"/><rect x="921.70" y="204" width="11.80" height="12" fill="#5e5e5e"/><rect x="880.60" y="219" width="11.30" height="12" fill="#3d3d3d"/><rect x="894.20" y="219" width="11.60" height="12" fill="#3d3d3d"/><rect x="907.90" y="219" width="11.80" height="12" fill="#3d3d3d"/><rect x="921.70" y="219" width="11.80" height="12" fill="#3d3d3d"/><rect x="880.60" y="238" width="11.30" height="24" fill="#424242"/><rect x="894.20" y="238" width="11.60" height="24" fill="#424242"/><rect x="907.90" y="238" width="11.80" height="24" fill="#424242"/><rect x="921.70" y="238" width="11.80" height="24" fill="#424242"/><rect x="880.60" y="262" width="11.30" height="5" fill="#545454"/><rect x="894.20" y="262" width="11.60" height="5" fill="#545454"/><rect x="907.90" y="262" width="11.80" height="5" fill="#545454"/><rect x="921.70" y="262" width="11.80" height="5" fill="#545454"/><rect x="880.60" y="267" width="11.30" height="38" fill="#424242"/><rect x="894.20" y="267" width="11.60" height="38" fill="#424242"/><rect x="907.90" y="267" width="11.80" height="38" fill="#424242"/><rect x="921.70" y="267" width="11.80" height="38" fill="#424242"/><rect x="880.60" y="305" width="11.30" height="2" fill="#4f4f4f"/><rect x="894.20" y="305" width="11.60" height="2" fill="#4f4f4f"/><rect x="907.90" y="305" width="11.80" height="2" fill="#4f4f4f"/><rect x="921.70" y="305" width="11.80" height="2" fill="#4f4f4f"/><rect x="880.60" y="307" width="11.30" height="1" fill="#424242"/><rect x="894.20" y="307" width="11.60" height="1" fill="#424242"/><rect x="907.90" y="307" width="11.80" height="1" fill="#424242"/><rect x="921.70" y="307" width="11.80" height="1" fill="#424242"/><rect x="880.60" y="308" width="11.30" height="5" fill="#4f4f4f"/><rect x="894.20" y="308" width="11.60" height="5" fill="#4f4f4f"/><rect x="907.90" y="308" width="11.80" height="5" fill="#4f4f4f"/><rect x="921.70" y="308" width="11.80" height="5" fill="#4f4f4f"/><rect x="880.60" y="313" width="11.30" height="5" fill="#424242"/><rect x="894.20" y="313" width="11.60" height="5" fill="#424242"/><rect x="907.90" y="313" width="11.80" height="5" fill="#424242"/><rect x="921.70" y="313" width="11.80" height="5" fill="#424242"/><rect x="880.60" y="321" width="11.30" height="156" fill="#3e3e3e"/><rect x="894.20" y="321" width="11.60" height="156" fill="#3e3e3e"/><rect x="907.90" y="321" width="11.80" height="156" fill="#3e3e3e"/><rect x="921.70" y="321" width="11.80" height="156" fill="#3e3e3e"/><rect x="880.60" y="477" width="11.30" height="9" fill="#5c5c5c"/><rect x="894.20" y="477" width="11.60" height="9" fill="#5c5c5c"/><rect x="907.90" y="477" width="11.80" height="9" fill="#5c5c5c"/><rect x="921.70" y="477" width="11.80" height="9" fill="#5c5c5c"/><rect x="880.60" y="494" width="11.30" height="7" fill="#666666"/><rect x="894.20" y="494" width="11.60" height="7" fill="#666666"/><rect x="907.90" y="494" width="11.80" height="7" fill="#666666"/><rect x="921.70" y="494" width="11.80" height="7" fill="#666666"/><rect x="880.60" y="505" width="11.30" height="6" fill="#737373"/><rect x="894.20" y="505" width="11.60" height="6" fill="#737373"/><rect x="907.90" y="505" width="11.80" height="6" fill="#737373"/><rect x="921.70" y="505" width="11.80" height="6" fill="#737373"/><rect x="880.60" y="518" width="11.30" height="17" fill="#4c4c4c"/><rect x="894.20" y="518" width="11.60" height="17" fill="#4c4c4c"/><rect x="907.90" y="518" width="11.80" height="17" fill="#4c4c4c"/><rect x="921.70" y="518" width="11.80" height="17" fill="#4c4c4c"/><rect x="880.60" y="536" width="11.30" height="22" fill="#454545"/><rect x="894.20" y="536" width="11.60" height="22" fill="#454545"/><rect x="907.90" y="536" width="11.80" height="22" fill="#454545"/><rect x="921.70" y="536" width="11.80" height="22" fill="#454545"/><rect x="880.60" y="560" width="11.30" height="24" fill="#303030"/><rect x="894.20" y="560" width="11.60" height="24" fill="#303030"/><rect x="907.90" y="560" width="11.80" height="24" fill="#303030"/><rect x="921.70" y="560" width="11.80" height="24" fill="#303030"/><rect x="880.60" y="586" width="11.30" height="12" fill="#404040"/><rect x="894.20" y="586" width="11.60" height="12" fill="#404040"/><rect x="907.90" y="586" width="11.80" height="12" fill="#404040"/><rect x="921.70" y="586" width="11.80" height="12" fill="#404040"/><rect x="880.60" y="599" width="11.30" height="12" fill="#3d3d3d"/><rect x="894.20" y="599" width="11.60" height="12" fill="#3d3d3d"/><rect x="907.90" y="599" width="11.80" height="12" fill="#3d3d3d"/><rect x="921.70" y="599" width="11.80" height="12" fill="#3d3d3d"/><rect x="880.60" y="614" width="11.30" height="27" fill="#383838"/><rect x="894.20" y="614" width="11.60" height="27" fill="#383838"/><rect x="907.90" y="614" width="11.80" height="27" fill="#383838"/><rect x="921.70" y="614" width="11.80" height="27" fill="#383838"/><rect x="880.60" y="643" width="11.30" height="77" fill="#303030"/><rect x="894.20" y="643" width="11.60" height="77" fill="#303030"/><rect x="907.90" y="643" width="11.80" height="77" fill="#303030"/><rect x="921.70" y="643" width="11.80" height="77" fill="#303030"/></g>
<rect x="769" y="81" width="176" height="1" fill="#000"/><rect x="769" y="83" width="176" height="1" fill="#000"/><rect x="769" y="92" width="176" height="1" fill="#000"/><rect x="769" y="96" width="176" height="1" fill="#000"/><rect x="769" y="98" width="176" height="1" fill="#000"/><rect x="769" y="106" width="176" height="1" fill="#000"/><rect x="769" y="113" width="176" height="1" fill="#000"/><rect x="769" y="118" width="176" height="1" fill="#000"/><rect x="769" y="119" width="176" height="2" fill="#fff"/><rect x="769" y="124" width="176" height="1" fill="#000"/><rect x="769" y="127" width="176" height="1" fill="#000"/><rect x="769" y="136" width="176" height="2" fill="#fff"/><rect x="769" y="138" width="176" height="1" fill="#000"/><rect x="769" y="139" width="176" height="2" fill="#fff"/><rect x="769" y="142" width="176" height="1" fill="#fff"/><rect x="769" y="149" width="176" height="1" fill="#000"/><rect x="769" y="150" width="176" height="2" fill="#fff"/><rect x="769" y="161" width="176" height="1" fill="#000"/><rect x="769" y="165" width="176" height="1" fill="#000"/><rect x="769" y="167" width="176" height="1" fill="#000"/><rect x="769" y="170" width="176" height="3" fill="#000"/><rect x="769" y="177" width="176" height="1" fill="#000"/><rect x="769" y="184" width="176" height="1" fill="#000"/><rect x="769" y="189" width="176" height="1" fill="#000"/><rect x="769" y="196" width="176" height="1" fill="#000"/><rect x="769" y="197" width="176" height="1" fill="#fff"/><rect x="769" y="199" width="176" height="4" fill="#fff"/><rect x="769" y="203" width="176" height="1" fill="#000"/><rect x="769" y="205" width="176" height="1" fill="#000"/><rect x="769" y="211" width="176" height="1" fill="#000"/><rect x="769" y="216" width="176" height="1" fill="#000"/><rect x="769" y="217" width="176" height="2" fill="#fff"/><rect x="769" y="221" width="176" height="1" fill="#fff"/><rect x="769" y="223" width="176" height="3" fill="#fff"/><rect x="769" y="231" width="176" height="1" fill="#000"/><rect x="769" y="232" width="176" height="6" fill="#fff"/><rect x="769" y="240" width="176" height="1" fill="#fff"/><rect x="769" y="244" width="176" height="1" fill="#000"/><rect x="769" y="245" width="176" height="2" fill="#fff"/><rect x="769" y="249" width="176" height="1" fill="#fff"/><rect x="769" y="252" width="176" height="1" fill="#fff"/><rect x="769" y="260" width="176" height="1" fill="#fff"/><rect x="769" y="261" width="176" height="1" fill="#000"/><rect x="769" y="264" width="176" height="1" fill="#fff"/><rect x="769" y="267" width="176" height="2" fill="#000"/><rect x="769" y="269" width="176" height="2" fill="#fff"/><rect x="769" y="275" width="176" height="1" fill="#000"/><rect x="769" y="280" width="176" height="1" fill="#000"/><rect x="769" y="282" width="176" height="1" fill="#000"/><rect x="769" y="285" width="176" height="1" fill="#000"/><rect x="769" y="287" width="176" height="1" fill="#000"/><rect x="769" y="292" width="176" height="1" fill="#000"/><rect x="769" y="295" width="176" height="2" fill="#000"/><rect x="769" y="300" width="176" height="1" fill="#000"/><rect x="769" y="301" width="176" height="1" fill="#fff"/><rect x="769" y="303" width="176" height="2" fill="#fff"/><rect x="769" y="307" width="176" height="1" fill="#fff"/><rect x="769" y="313" width="176" height="1" fill="#000"/><rect x="769" y="318" width="176" height="3" fill="#fff"/><rect x="769" y="330" width="176" height="1" fill="#fff"/><rect x="769" y="333" width="176" height="1" fill="#000"/><rect x="769" y="340" width="176" height="3" fill="#fff"/><rect x="769" y="345" width="176" height="1" fill="#fff"/><rect x="769" y="348" width="176" height="1" fill="#000"/><rect x="769" y="351" width="176" height="2" fill="#000"/><rect x="769" y="358" width="176" height="2" fill="#000"/><rect x="769" y="366" width="176" height="1" fill="#000"/><rect x="769" y="367" width="176" height="1" fill="#fff"/><rect x="769" y="371" width="176" height="1" fill="#fff"/><rect x="769" y="375" width="176" height="1" fill="#fff"/><rect x="769" y="376" width="176" height="2" fill="#000"/><rect x="769" y="379" width="176" height="1" fill="#000"/><rect x="769" y="381" width="176" height="3" fill="#000"/><rect x="769" y="384" width="176" height="1" fill="#fff"/><rect x="769" y="388" width="176" height="1" fill="#000"/><rect x="769" y="390" width="176" height="1" fill="#000"/><rect x="769" y="391" width="176" height="1" fill="#fff"/><rect x="769" y="392" width="176" height="1" fill="#000"/><rect x="769" y="405" width="176" height="1" fill="#fff"/><rect x="769" y="406" width="176" height="2" fill="#000"/><rect x="769" y="414" width="176" height="1" fill="#fff"/><rect x="769" y="415" width="176" height="2" fill="#000"/><rect x="769" y="424" width="176" height="1" fill="#000"/><rect x="769" y="426" width="176" height="1" fill="#000"/><rect x="769" y="432" width="176" height="1" fill="#000"/><rect x="769" y="435" width="176" height="1" fill="#000"/><rect x="769" y="441" width="176" height="1" fill="#000"/><rect x="769" y="445" width="176" height="4" fill="#fff"/><rect x="769" y="449" width="176" height="2" fill="#000"/><rect x="769" y="457" width="176" height="1" fill="#000"/><rect x="769" y="461" width="176" height="1" fill="#000"/><rect x="769" y="464" width="176" height="2" fill="#000"/><rect x="769" y="468" width="176" height="1" fill="#000"/><rect x="769" y="472" width="176" height="1" fill="#000"/><rect x="769" y="476" width="176" height="1" fill="#000"/><rect x="769" y="478" width="176" height="1" fill="#000"/><rect x="769" y="481" width="176" height="1" fill="#000"/><rect x="769" y="483" width="176" height="1" fill="#000"/><rect x="769" y="486" width="176" height="3" fill="#000"/><rect x="769" y="489" width="176" height="1" fill="#fff"/><rect x="769" y="491" width="176" height="2" fill="#fff"/><rect x="769" y="493" width="176" height="1" fill="#000"/><rect x="769" y="496" width="176" height="1" fill="#000"/><rect x="769" y="498" width="176" height="1" fill="#000"/><rect x="769" y="501" width="176" height="2" fill="#000"/><rect x="769" y="503" width="176" height="1" fill="#fff"/><rect x="769" y="504" width="176" height="1" fill="#000"/><rect x="769" y="508" width="176" height="1" fill="#000"/><rect x="769" y="511" width="176" height="6" fill="#fff"/><rect x="769" y="517" width="176" height="1" fill="#000"/><rect x="769" y="521" width="176" height="1" fill="#000"/><rect x="769" y="522" width="176" height="1" fill="#fff"/><rect x="769" y="523" width="176" height="1" fill="#000"/><rect x="769" y="527" width="176" height="2" fill="#000"/><rect x="769" y="529" width="176" height="1" fill="#fff"/><rect x="769" y="535" width="176" height="1" fill="#fff"/><rect x="769" y="539" width="176" height="2" fill="#000"/><rect x="769" y="541" width="176" height="1" fill="#fff"/><rect x="769" y="542" width="176" height="2" fill="#000"/><rect x="769" y="546" width="176" height="1" fill="#fff"/><rect x="769" y="552" width="176" height="1" fill="#000"/><rect x="769" y="555" width="176" height="1" fill="#000"/><rect x="769" y="558" width="176" height="2" fill="#000"/><rect x="769" y="563" width="176" height="1" fill="#000"/><rect x="769" y="566" width="176" height="1" fill="#000"/><rect x="769" y="569" width="176" height="4" fill="#000"/><rect x="769" y="574" width="176" height="4" fill="#000"/><rect x="769" y="579" width="176" height="1" fill="#000"/><rect x="769" y="583" width="176" height="3" fill="#000"/><rect x="769" y="592" width="176" height="1" fill="#fff"/><rect x="769" y="598" width="176" height="1" fill="#000"/><rect x="769" y="603" width="176" height="1" fill="#fff"/><rect x="769" y="610" width="176" height="2" fill="#000"/><rect x="769" y="612" width="176" height="2" fill="#fff"/><rect x="769" y="622" width="176" height="1" fill="#fff"/><rect x="769" y="637" width="176" height="1" fill="#000"/><rect x="769" y="639" width="176" height="1" fill="#fff"/><rect x="769" y="641" width="176" height="2" fill="#fff"/><rect x="769" y="650" width="176" height="2" fill="#000"/><rect x="769" y="653" width="176" height="3" fill="#000"/><rect x="769" y="659" width="176" height="1" fill="#000"/><rect x="769" y="662" width="176" height="2" fill="#000"/><rect x="769" y="664" width="176" height="1" fill="#fff"/><rect x="769" y="665" width="176" height="3" fill="#000"/><rect x="769" y="669" width="176" height="1" fill="#000"/><rect x="769" y="673" width="176" height="2" fill="#000"/><rect x="769" y="676" width="176" height="4" fill="#000"/><rect x="769" y="680" width="176" height="1" fill="#fff"/><rect x="769" y="681" width="176" height="2" fill="#000"/><rect x="769" y="684" width="176" height="3" fill="#000"/><rect x="769" y="688" width="176" height="3" fill="#000"/><rect x="769" y="695" width="176" height="3" fill="#000"/><rect x="769" y="699" width="176" height="1" fill="#000"/><rect x="769" y="701" width="176" height="1" fill="#000"/><rect x="769" y="705" width="176" height="2" fill="#000"/><rect x="769" y="707" width="176" height="1" fill="#fff"/><rect x="769" y="708" width="176" height="6" fill="#000"/><rect x="769" y="717" width="176" height="1" fill="#000"/>
<rect x="768.5" y="80.5" width="177" height="640" fill="none" stroke="#000" stroke-width="1"/>
<path d="M172.71 80.5v5.5M172.71 720v-5.5M214.16 80.5v5.5M214.16 720v-5.5M255.62 80.5v5.5M255.62 720v-5.5M297.07 80.5v5.5M297.07 720v-5.5M132 586.67h5.5M308 586.67h-5.5M132 453.33h5.5M308 453.33h-5.5M132 320.00h5.5M308 320.00h-5.5M132 186.67h5.5M308 186.67h-5.5M384.96 80.5v5.5M384.96 720v-5.5M426.41 80.5v5.5M426.41 720v-5.5M467.87 80.5v5.5M467.87 720v-5.5M509.32 80.5v5.5M509.32 720v-5.5M345 586.67h5.5M520 586.67h-5.5M345 453.33h5.5M520 453.33h-5.5M345 320.00h5.5M520 320.00h-5.5M345 186.67h5.5M520 186.67h-5.5M597.21 80.5v5.5M597.21 720v-5.5M638.66 80.5v5.5M638.66 720v-5.5M680.12 80.5v5.5M680.12 720v-5.5M721.57 80.5v5.5M721.57 720v-5.5M557 586.67h5.5M733 586.67h-5.5M557 453.33h5.5M733 453.33h-5.5M557 320.00h5.5M733 320.00h-5.5M557 186.67h5.5M733 186.67h-5.5M809.46 80.5v5.5M809.46 720v-5.5M850.91 80.5v5.5M850.91 720v-5.5M892.37 80.5v5.5M892.37 720v-5.5M933.82 80.5v5.5M933.82 720v-5.5M769 586.67h5.5M945 586.67h-5.5M769 453.33h5.5M945 453.33h-5.5M769 320.00h5.5M945 320.00h-5.5M769 186.67h5.5M945 186.67h-5.5" stroke="#000" stroke-width="0.7" fill="none" shape-rendering="auto"/>
<rect x="1019" y="160" width="16" height="481" fill="url(#jet)"/>
<rect x="1019.5" y="160.5" width="15" height="480" fill="none" stroke="#000" stroke-width="1"/>
</svg>
<svg class="ov" width="1050" height="800" viewBox="0 0 1050 800">
<g>
<text x="524.4" y="26" class="sup">2021-01-08 0.0-24.0</text>
<text x="220.19" y="73" class="tt" text-anchor="middle" textLength="174.9" lengthAdjust="spacingAndGlyphs">XX, V7*V9=EA03*EA11</text>
<text x="126.5" y="723.40" class="tk" text-anchor="end">0</text>
<text x="126.5" y="590.07" class="tk" text-anchor="end">5</text>
<text x="126.5" y="456.73" class="tk" text-anchor="end">10</text>
<text x="126.5" y="323.40" class="tk" text-anchor="end">15</text>
<text x="126.5" y="190.07" class="tk" text-anchor="end">20</text>
<text x="131.25" y="736" class="tk" text-anchor="middle">320</text>
<text x="172.71" y="736" class="tk" text-anchor="middle">335</text>
<text x="214.16" y="736" class="tk" text-anchor="middle">350</text>
<text x="255.62" y="736" class="tk" text-anchor="middle">365</text>
<text x="297.07" y="736" class="tk" text-anchor="middle">380</text>
<text x="432.44" y="73" class="tt" text-anchor="middle" textLength="174.9" lengthAdjust="spacingAndGlyphs">YY, V7*V9=EA03*EA11</text>
<text x="339.5" y="723.40" class="tk" text-anchor="end">0</text>
<text x="339.5" y="590.07" class="tk" text-anchor="end">5</text>
<text x="339.5" y="456.73" class="tk" text-anchor="end">10</text>
<text x="339.5" y="323.40" class="tk" text-anchor="end">15</text>
<text x="339.5" y="190.07" class="tk" text-anchor="end">20</text>
<text x="343.50" y="736" class="tk" text-anchor="middle">320</text>
<text x="384.96" y="736" class="tk" text-anchor="middle">335</text>
<text x="426.41" y="736" class="tk" text-anchor="middle">350</text>
<text x="467.87" y="736" class="tk" text-anchor="middle">365</text>
<text x="509.32" y="736" class="tk" text-anchor="middle">380</text>
<text x="644.69" y="73" class="tt" text-anchor="middle" textLength="174.9" lengthAdjust="spacingAndGlyphs">XY, V7*V9=EA03*EA11</text>
<text x="551.5" y="723.40" class="tk" text-anchor="end">0</text>
<text x="551.5" y="590.07" class="tk" text-anchor="end">5</text>
<text x="551.5" y="456.73" class="tk" text-anchor="end">10</text>
<text x="551.5" y="323.40" class="tk" text-anchor="end">15</text>
<text x="551.5" y="190.07" class="tk" text-anchor="end">20</text>
<text x="555.75" y="736" class="tk" text-anchor="middle">320</text>
<text x="597.21" y="736" class="tk" text-anchor="middle">335</text>
<text x="638.66" y="736" class="tk" text-anchor="middle">350</text>
<text x="680.12" y="736" class="tk" text-anchor="middle">365</text>
<text x="721.57" y="736" class="tk" text-anchor="middle">380</text>
<text x="856.94" y="73" class="tt" text-anchor="middle" textLength="174.9" lengthAdjust="spacingAndGlyphs">YX, V7*V9=EA03*EA11</text>
<text x="763.5" y="723.40" class="tk" text-anchor="end">0</text>
<text x="763.5" y="590.07" class="tk" text-anchor="end">5</text>
<text x="763.5" y="456.73" class="tk" text-anchor="end">10</text>
<text x="763.5" y="323.40" class="tk" text-anchor="end">15</text>
<text x="763.5" y="190.07" class="tk" text-anchor="end">20</text>
<text x="768.00" y="736" class="tk" text-anchor="middle">320</text>
<text x="809.46" y="736" class="tk" text-anchor="middle">335</text>
<text x="850.91" y="736" class="tk" text-anchor="middle">350</text>
<text x="892.37" y="736" class="tk" text-anchor="middle">365</text>
<text x="933.82" y="736" class="tk" text-anchor="middle">380</text>
<text x="483.5" y="754.7" class="lb" text-anchor="middle" style="font-size:13px" textLength="103.9" lengthAdjust="spacingAndGlyphs">frequency (MHz)</text>
<text transform="translate(100.2 400.25) rotate(-90)" class="lb" text-anchor="middle" style="font-size:12.5px">UT (hours)</text>
<text transform="translate(984.7 400.4) rotate(-90)" class="lb" text-anchor="middle" style="letter-spacing:0.25px">log<tspan font-size="6.5" dy="2.8">10</tspan><tspan dy="-2.8"> amplitude</tspan></text>
<text x="1013" y="162.6" class="cb" text-anchor="end">1</text>
<text x="1013" y="258.6" class="cb" text-anchor="end">0</text>
<path d="M1020 256.4h5.5M1028.5 256.4h5.5" stroke="#000" stroke-width="1"/>
<text x="1013" y="354.6" class="cb" text-anchor="end">−1</text>
<path d="M1020 352.4h5.5M1028.5 352.4h5.5" stroke="#000" stroke-width="1"/>
<text x="1013" y="450.6" class="cb" text-anchor="end">−2</text>
<path d="M1020 448.4h5.5M1028.5 448.4h5.5" stroke="#000" stroke-width="1"/>
<text x="1013" y="546.6" class="cb" text-anchor="end">−3</text>
<path d="M1020 544.4h5.5M1028.5 544.4h5.5" stroke="#000" stroke-width="1"/>
<text x="1013" y="642.6" class="cb" text-anchor="end">−4</text>
</g>
<path d="M1022.5 161v5M1025.5 161v5M1028.5 161v5M1031.5 161v5M1022.5 640v-5M1025.5 640v-5M1028.5 640v-5M1031.5 640v-5" stroke="#000" stroke-width="0.8"/>
<path d="M1017 646.5h17" stroke="#999" stroke-width="1" stroke-dasharray="1 2"/>
</svg>
</body></html>
